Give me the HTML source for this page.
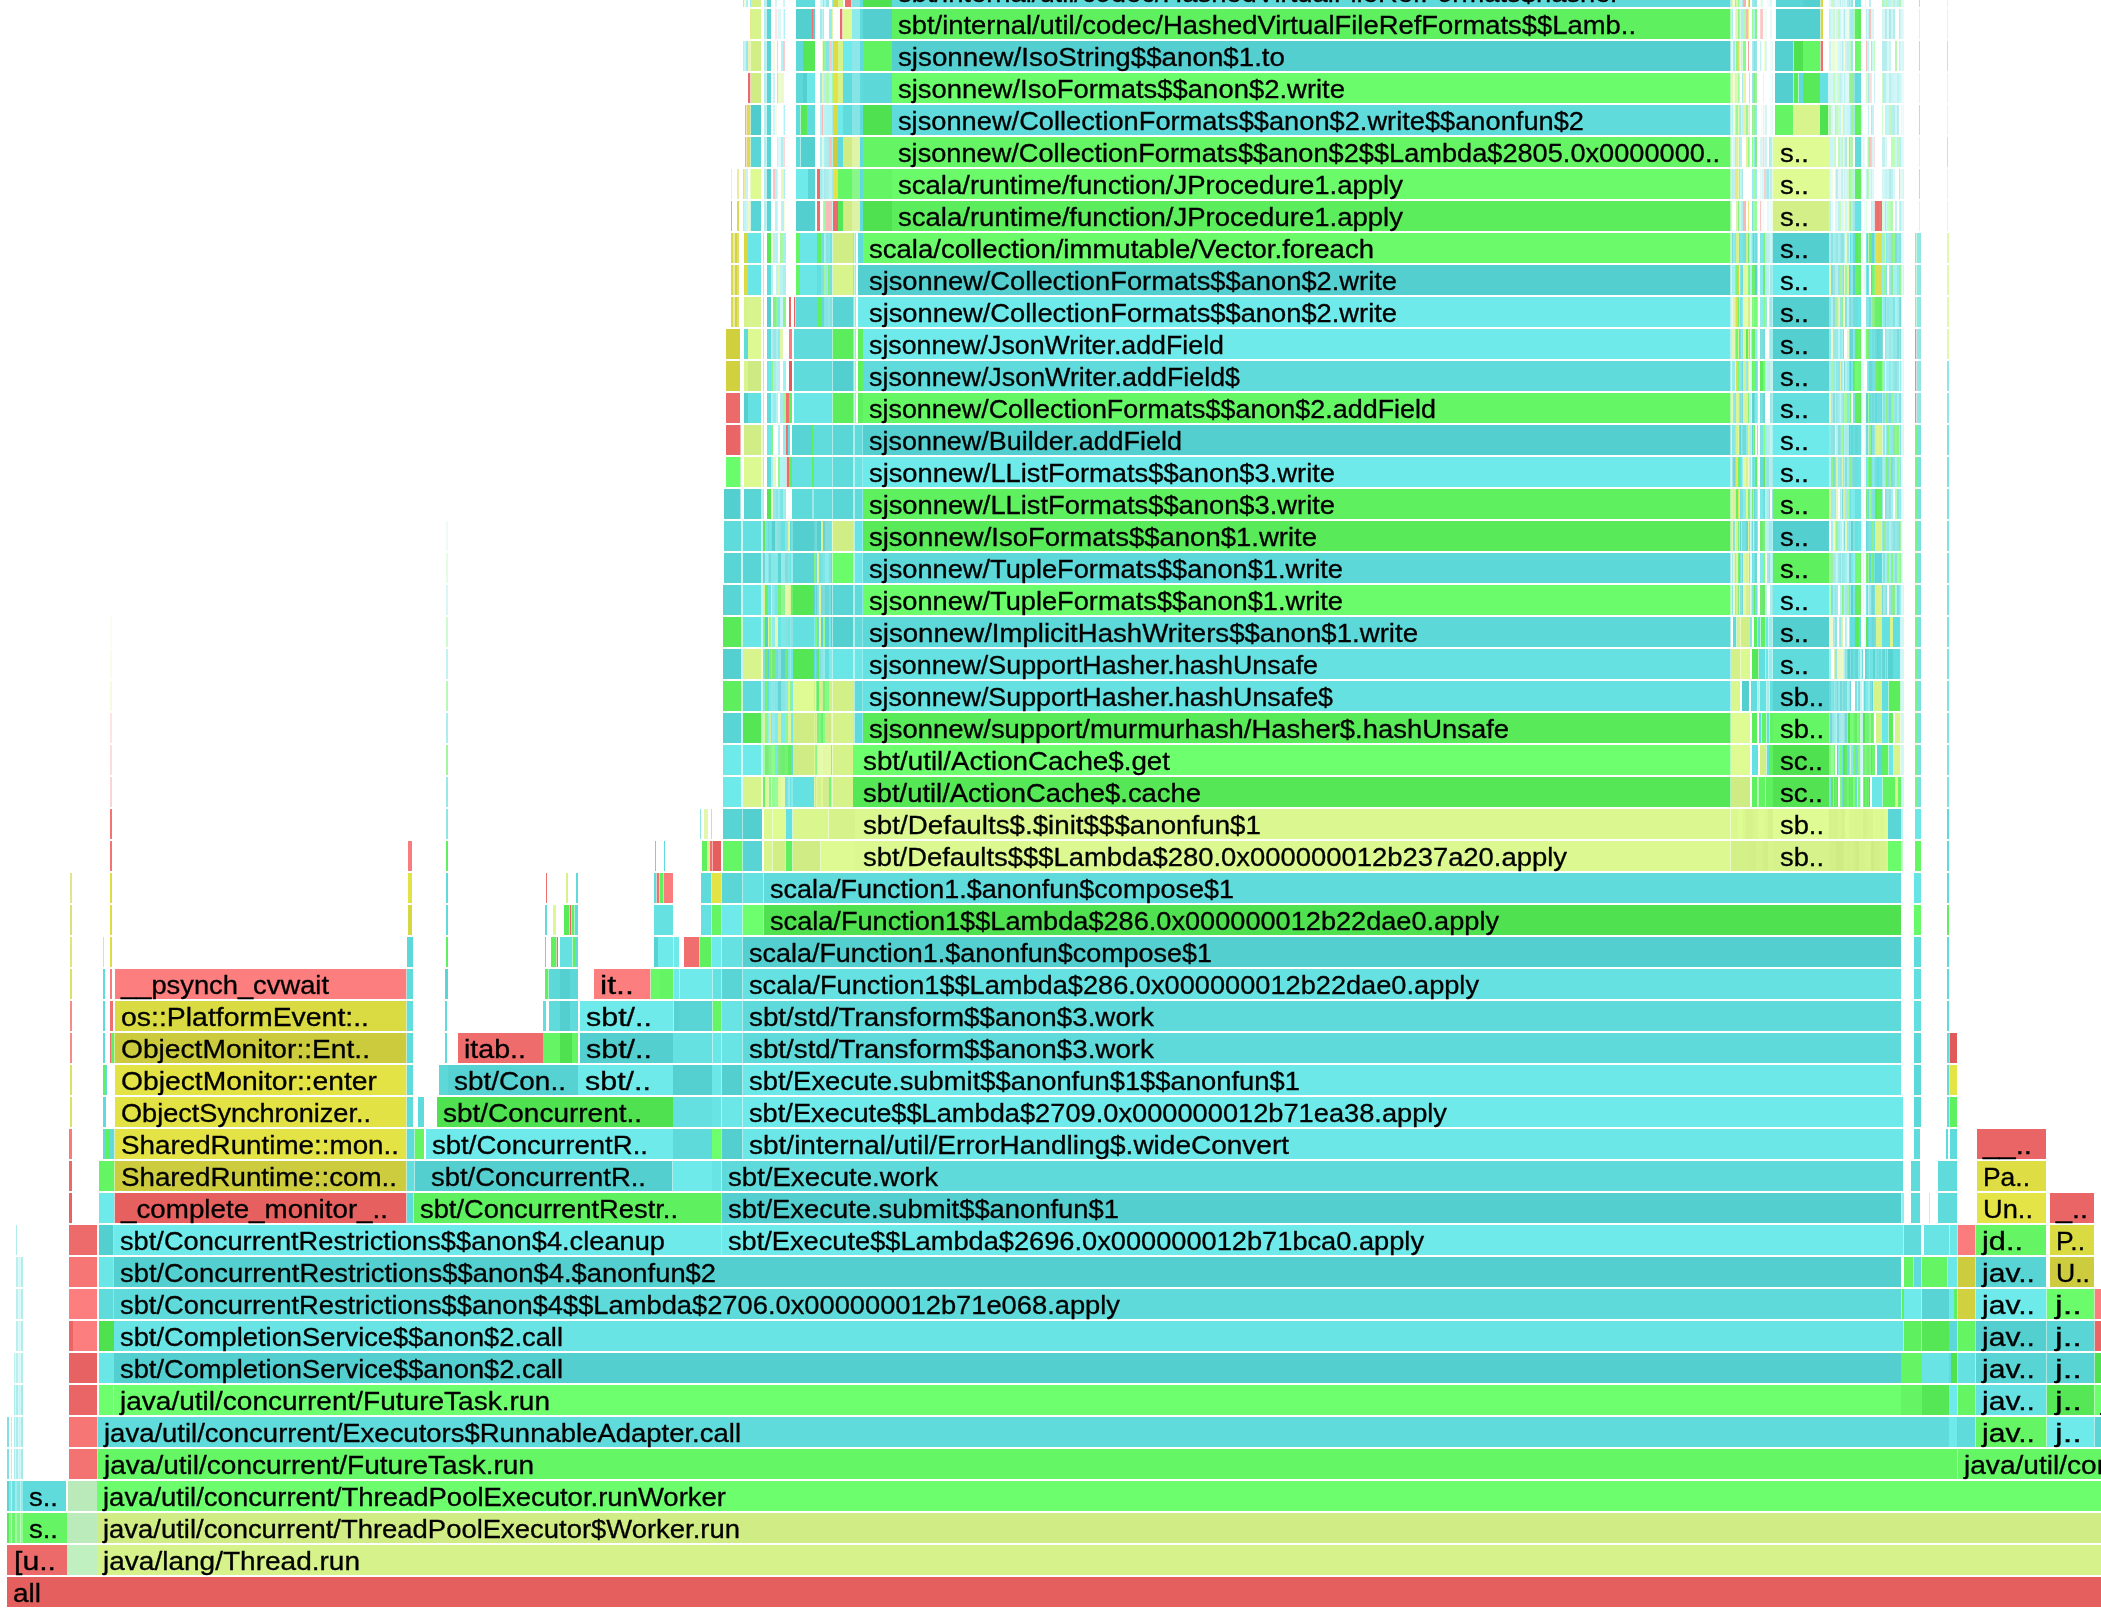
<!DOCTYPE html>
<html><head><meta charset="utf-8"><title>Flame Graph</title>
<style>
html,body{margin:0;padding:0;background:#fff;}
body{width:2101px;height:1616px;overflow:hidden;position:relative;font-family:"Liberation Sans",sans-serif;}
.r{position:absolute;left:0;width:2101px;height:30px;}
.t{position:absolute;font-size:25px;line-height:32px;height:32px;white-space:pre;color:#000;-webkit-text-stroke:0.3px #000;transform-origin:0 50%;transform:scaleX(1.094);}
</style></head><body>
<div class="r" style="top:1577px;background:linear-gradient(90deg,#fff 0px,#fff 7px,#e55f5f 7px,#e55f5f 2101px)"></div>
<div class="r" style="top:1545px;background:linear-gradient(90deg,#fff 0px,#fff 7px,#ed6a6a 7px,#ed6a6a 67px,#c0efc0 67px,#c0efc0 97px,#d6f28a 97px,#d6f28a 2101px)"></div>
<div class="r" style="top:1513px;background:linear-gradient(90deg,#fff 0px,#fff 7px,#59ea59 7px,#59ea59 9px,#81f581 9px,#81f581 11px,#b5feb5 11px,#b5feb5 12px,#6ff26f 12px,#6ff26f 15px,#9dfb9d 15px,#9dfb9d 17px,#81f581 17px,#81f581 20px,#b5feb5 20px,#b5feb5 21px,#93f993 21px,#93f993 23px,#64f464 23px,#64f464 67px,#bbeabb 67px,#bbeabb 97px,#d0ec84 97px,#d0ec84 2101px)"></div>
<div class="r" style="top:1481px;background:linear-gradient(90deg,#fff 0px,#fff 7px,#59d5d5 7px,#59d5d5 9px,#81e5e5 9px,#81e5e5 11px,#b5f3f3 11px,#b5f3f3 12px,#6fdfdf 12px,#6fdfdf 15px,#9deded 15px,#9deded 17px,#81e5e5 17px,#81e5e5 20px,#b5f3f3 20px,#b5f3f3 21px,#93eaea 21px,#93eaea 23px,#5fdbdb 23px,#5fdbdb 66px,#fff 66px,#fff 68px,#bae9ba 68px,#bae9ba 97px,#6cfe6c 97px,#6cfe6c 2101px)"></div>
<div class="r" style="top:1449px;background:linear-gradient(90deg,#fff 0px,#fff 7px,#7fe2e2 7px,#7fe2e2 9px,#fff 9px,#fff 11px,#b4f2f2 11px,#b4f2f2 12px,#fff 12px,#fff 14px,#afeded 14px,#afeded 15px,#d6f6f6 15px,#d6f6f6 16px,#a9eded 16px,#a9eded 18px,#daf8f8 18px,#daf8f8 19px,#c3f4f4 19px,#c3f4f4 20px,#d8f7f7 20px,#d8f7f7 21px,#a1ebeb 21px,#a1ebeb 23px,#fff 23px,#fff 69px,#f37272 69px,#f37272 97px,#d6dab5 97px,#d6dab5 98px,#65f665 98px,#65f665 1957px,#a3faa3 1957px,#a3faa3 1958px,#65f665 1958px,#65f665 2101px)"></div>
<div class="r" style="top:1417px;background:linear-gradient(90deg,#fff 0px,#fff 7px,#7fe2e2 7px,#7fe2e2 9px,#fff 9px,#fff 11px,#b4f2f2 11px,#b4f2f2 12px,#fff 12px,#fff 14px,#afeded 14px,#afeded 15px,#d6f6f6 15px,#d6f6f6 16px,#a9eded 16px,#a9eded 18px,#daf8f8 18px,#daf8f8 19px,#c3f4f4 19px,#c3f4f4 20px,#d8f7f7 20px,#d8f7f7 21px,#a1ebeb 21px,#a1ebeb 23px,#fff 23px,#fff 69px,#f67676 69px,#f67676 97px,#d5d4d4 97px,#d5d4d4 98px,#5fdbdb 98px,#5fdbdb 1949px,#6eeaea 1949px,#6eeaea 1957px,#5ff05f 1957px,#5ff05f 1958px,#5fdbdb 1958px,#5fdbdb 1975px,#b0f3cf 1975px,#b0f3cf 1976px,#64f464 1976px,#64f464 2046px,#b4f7d3 2046px,#b4f7d3 2047px,#6eeaea 2047px,#6eeaea 2094px,#b1efef 2094px,#b1efef 2095px,#59d5d5 2095px,#59d5d5 2101px)"></div>
<div class="r" style="top:1385px;background:linear-gradient(90deg,#fff 0px,#fff 14px,#afeded 14px,#afeded 15px,#d6f6f6 15px,#d6f6f6 16px,#a9eded 16px,#a9eded 18px,#daf8f8 18px,#daf8f8 19px,#c3f4f4 19px,#c3f4f4 20px,#d8f7f7 20px,#d8f7f7 21px,#a1ebeb 21px,#a1ebeb 23px,#fff 23px,#fff 69px,#ea6666 69px,#ea6666 97px,#fff 97px,#fff 99px,#6eff6e 99px,#6eff6e 113px,#9aff9a 113px,#9aff9a 114px,#6eff6e 114px,#6eff6e 1901px,#64f464 1901px,#64f464 1922px,#56e756 1922px,#56e756 1949px,#6eeaea 1949px,#6eeaea 1957px,#b4f7d3 1957px,#b4f7d3 1958px,#64f464 1958px,#64f464 1975px,#b2f5d1 1975px,#b2f5d1 1976px,#65e1e1 1976px,#65e1e1 2046px,#aef2cd 2046px,#aef2cd 2047px,#56e756 2047px,#56e756 2094px,#b0f9b0 2094px,#b0f9b0 2095px,#6eff6e 2095px,#6eff6e 2101px)"></div>
<div class="r" style="top:1353px;background:linear-gradient(90deg,#fff 0px,#fff 14px,#bff1f1 14px,#bff1f1 15px,#ddf8f8 15px,#ddf8f8 16px,#b8f0f0 16px,#b8f0f0 18px,#e2f9f9 18px,#e2f9f9 19px,#d2f7f7 19px,#d2f7f7 20px,#e0f9f9 20px,#e0f9f9 21px,#b0eeee 21px,#b0eeee 23px,#fff 23px,#fff 69px,#e76262 69px,#e76262 97px,#fff 97px,#fff 99px,#6ae6e6 99px,#6ae6e6 114px,#53cfcf 114px,#53cfcf 1901px,#64f464 1901px,#64f464 1922px,#68e4e4 1922px,#68e4e4 1949px,#5fdbdb 1949px,#5fdbdb 1951px,#50e150 1951px,#50e150 1957px,#adf0cc 1957px,#adf0cc 1958px,#65e1e1 1958px,#65e1e1 1975px,#afeded 1975px,#afeded 1976px,#58d4d4 1976px,#58d4d4 2046px,#abe9e9 2046px,#abe9e9 2047px,#58d4d4 2047px,#58d4d4 2094px,#a9edc8 2094px,#a9edc8 2095px,#50e150 2095px,#50e150 2101px)"></div>
<div class="r" style="top:1321px;background:linear-gradient(90deg,#fff 0px,#fff 16px,#b8f0f0 16px,#b8f0f0 18px,#e2f9f9 18px,#e2f9f9 19px,#d2f7f7 19px,#d2f7f7 20px,#e0f9f9 20px,#e0f9f9 21px,#b0eeee 21px,#b0eeee 23px,#fff 23px,#fff 69px,#ea6666 69px,#ea6666 73px,#fc7e7e 73px,#fc7e7e 97px,#fff 97px,#fff 99px,#50e150 99px,#50e150 114px,#68e4e4 114px,#68e4e4 1903px,#b1f4d0 1903px,#b1f4d0 1904px,#5ff05f 1904px,#5ff05f 1921px,#adf5ad 1921px,#adf5ad 1922px,#56e756 1922px,#56e756 1949px,#5cd8d8 1949px,#5cd8d8 1957px,#aff3ce 1957px,#aff3ce 1958px,#64f464 1958px,#64f464 1975px,#adf0cc 1975px,#adf0cc 1976px,#53cfcf 1976px,#53cfcf 2046px,#aae8e8 2046px,#aae8e8 2047px,#59d5d5 2047px,#59d5d5 2094px,#d0cece 2094px,#d0cece 2095px,#ea6666 2095px,#ea6666 2101px)"></div>
<div class="r" style="top:1289px;background:linear-gradient(90deg,#fff 0px,#fff 16px,#b8f0f0 16px,#b8f0f0 18px,#e2f9f9 18px,#e2f9f9 19px,#d2f7f7 19px,#d2f7f7 20px,#e0f9f9 20px,#e0f9f9 21px,#b0eeee 21px,#b0eeee 23px,#fff 23px,#fff 69px,#fc7e7e 69px,#fc7e7e 97px,#fff 97px,#fff 99px,#5fdbdb 99px,#5fdbdb 113px,#8fe6e6 113px,#8fe6e6 114px,#5edada 114px,#5edada 1901px,#aff2ce 1901px,#aff2ce 1902px,#5ff05f 1902px,#5ff05f 1904px,#6eeaea 1904px,#6eeaea 1921px,#b1efef 1921px,#b1efef 1922px,#58d4d4 1922px,#58d4d4 1949px,#6eeaea 1949px,#6eeaea 1954px,#5ff05f 1954px,#5ff05f 1957px,#ccf0a7 1957px,#ccf0a7 1958px,#d1d13f 1958px,#d1d13f 1975px,#cfeeca 1975px,#cfeeca 1976px,#6eeaea 1976px,#6eeaea 2046px,#b6f9d5 2046px,#b6f9d5 2047px,#6bfc6b 2047px,#6bfc6b 2094px,#d9deba 2094px,#d9deba 2095px,#fc7e7e 2095px,#fc7e7e 2101px)"></div>
<div class="r" style="top:1257px;background:linear-gradient(90deg,#fff 0px,#fff 16px,#b8f0f0 16px,#b8f0f0 18px,#e2f9f9 18px,#e2f9f9 19px,#d2f7f7 19px,#d2f7f7 20px,#e0f9f9 20px,#e0f9f9 21px,#b0eeee 21px,#b0eeee 23px,#fff 23px,#fff 69px,#f67676 69px,#f67676 97px,#fff 97px,#fff 99px,#6ae6e6 99px,#6ae6e6 113px,#8fe6e6 113px,#8fe6e6 114px,#53cfcf 114px,#53cfcf 1901px,#fff 1901px,#fff 1904px,#64f464 1904px,#64f464 1913px,#b0f3cf 1913px,#b0f3cf 1914px,#5fdbdb 1914px,#5fdbdb 1921px,#b0f3cf 1921px,#b0f3cf 1922px,#64f464 1922px,#64f464 1947px,#b3f6d2 1947px,#b3f6d2 1948px,#6be7e7 1948px,#6be7e7 1957px,#cdecc9 1957px,#cdecc9 1958px,#cccc3e 1958px,#cccc3e 1975px,#c8e8c4 1975px,#c8e8c4 1976px,#58d4d4 1976px,#58d4d4 2046px,#fff 2046px,#fff 2050px,#cccc3e 2050px,#cccc3e 2094px,#fff 2094px,#fff 2101px)"></div>
<div class="r" style="top:1225px;background:linear-gradient(90deg,#fff 0px,#fff 16px,#afeded 16px,#afeded 17px,#fff 17px,#fff 69px,#ee6b6b 69px,#ee6b6b 97px,#fff 97px,#fff 99px,#53cfcf 99px,#53cfcf 113px,#8fe6e6 113px,#8fe6e6 114px,#6eeaea 114px,#6eeaea 721px,#92efef 721px,#92efef 722px,#6eeaea 722px,#6eeaea 1903px,#b3f1f1 1903px,#b3f1f1 1904px,#5fdbdb 1904px,#5fdbdb 1921px,#fff 1921px,#fff 1924px,#68e4e4 1924px,#68e4e4 1949px,#b4f2f2 1949px,#b4f2f2 1950px,#6be7e7 1950px,#6be7e7 1957px,#d9d8d8 1957px,#d9d8d8 1958px,#fa7c7c 1958px,#fa7c7c 1975px,#d7dcb7 1975px,#d7dcb7 1976px,#64f464 1976px,#64f464 2046px,#fff 2046px,#fff 2050px,#dada42 2050px,#dada42 2094px,#fff 2094px,#fff 2101px)"></div>
<div class="r" style="top:1193px;background:linear-gradient(90deg,#fff 0px,#fff 69px,#e76262 69px,#e76262 72px,#fff 72px,#fff 99px,#6eeaea 99px,#6eeaea 114px,#d4d2d2 114px,#d4d2d2 115px,#e66060 115px,#e66060 406px,#d1cece 406px,#d1cece 407px,#5fdbdb 407px,#5fdbdb 413px,#aff2ce 413px,#aff2ce 414px,#5ff05f 414px,#5ff05f 721px,#acefcb 721px,#acefcb 722px,#53cfcf 722px,#53cfcf 1901px,#baeeee 1901px,#baeeee 1902px,#95ecec 1902px,#95ecec 1904px,#fff 1904px,#fff 1911px,#5fdbdb 1911px,#5fdbdb 1920px,#fff 1920px,#fff 1929px,#bff1f1 1929px,#bff1f1 1930px,#fff 1930px,#fff 1938px,#5fdbdb 1938px,#5fdbdb 1957px,#fff 1957px,#fff 1977px,#e4e446 1977px,#e4e446 2046px,#fff 2046px,#fff 2050px,#ea6666 2050px,#ea6666 2094px,#fff 2094px,#fff 2101px)"></div>
<div class="r" style="top:1161px;background:linear-gradient(90deg,#fff 0px,#fff 69px,#ed6a6a 69px,#ed6a6a 72px,#fff 72px,#fff 99px,#64f464 99px,#64f464 114px,#ccf0a8 114px,#ccf0a8 115px,#cccc3e 115px,#cccc3e 406px,#cbeac6 406px,#cbeac6 407px,#62dede 407px,#62dede 414px,#adebeb 414px,#adebeb 415px,#53cfcf 415px,#53cfcf 672px,#b0eeee 672px,#b0eeee 673px,#6eeaea 673px,#6eeaea 712px,#68e4e4 712px,#68e4e4 721px,#b1efef 721px,#b1efef 722px,#5edada 722px,#5edada 1903px,#fff 1903px,#fff 1911px,#5fdbdb 1911px,#5fdbdb 1920px,#fff 1920px,#fff 1938px,#5fdbdb 1938px,#5fdbdb 1957px,#fff 1957px,#fff 1977px,#dede44 1977px,#dede44 2046px,#fff 2046px,#fff 2101px)"></div>
<div class="r" style="top:1129px;background:linear-gradient(90deg,#fff 0px,#fff 69px,#f97a7a 69px,#f97a7a 72px,#fff 72px,#fff 103px,#5fdbdb 103px,#5fdbdb 106px,#5ff05f 106px,#5ff05f 110px,#5fdbdb 110px,#5fdbdb 114px,#d0efc8 114px,#d0efc8 115px,#e3e345 115px,#e3e345 406px,#d0efc8 406px,#d0efc8 407px,#5fdbdb 407px,#5fdbdb 414px,#b0f3cf 414px,#b0f3cf 415px,#64f464 415px,#64f464 424px,#fff 424px,#fff 426px,#6eeaea 426px,#6eeaea 673px,#5edada 673px,#5edada 712px,#6eff6e 712px,#6eff6e 721px,#b0f3cf 721px,#b0f3cf 722px,#53cfcf 722px,#53cfcf 742px,#afeded 742px,#afeded 743px,#6be7e7 743px,#6be7e7 1903px,#fff 1903px,#fff 1914px,#5fdbdb 1914px,#5fdbdb 1920px,#fff 1920px,#fff 1946px,#5fdbdb 1946px,#5fdbdb 1948px,#fff 1948px,#fff 1950px,#5fdbdb 1950px,#5fdbdb 1957px,#fff 1957px,#fff 1977px,#ea6666 1977px,#ea6666 2046px,#fff 2046px,#fff 2101px)"></div>
<div class="r" style="top:1097px;background:linear-gradient(90deg,#fff 0px,#fff 70px,#dfdf67 70px,#dfdf67 72px,#fff 72px,#fff 103px,#5fdbdb 103px,#5fdbdb 106px,#fff 106px,#fff 115px,#e2e244 115px,#e2e244 406px,#d0efc7 406px,#d0efc7 407px,#5fdbdb 407px,#5fdbdb 413px,#fff 413px,#fff 418px,#5fdbdb 418px,#5fdbdb 424px,#fff 424px,#fff 437px,#50e150 437px,#50e150 673px,#64e0e0 673px,#64e0e0 712px,#68e4e4 712px,#68e4e4 721px,#b4f2f2 721px,#b4f2f2 722px,#6be7e7 722px,#6be7e7 742px,#b6f4f4 742px,#b6f4f4 743px,#6eeaea 743px,#6eeaea 1903px,#fff 1903px,#fff 1914px,#5cd8d8 1914px,#5cd8d8 1921px,#fff 1921px,#fff 1947px,#5fdbdb 1947px,#5fdbdb 1949px,#aff2ce 1949px,#aff2ce 1950px,#5ff05f 1950px,#5ff05f 1957px,#fff 1957px,#fff 2101px)"></div>
<div class="r" style="top:1065px;background:linear-gradient(90deg,#fff 0px,#fff 70px,#dfdf67 70px,#dfdf67 72px,#fff 72px,#fff 103px,#5ff05f 103px,#5ff05f 105px,#5fdbdb 105px,#5fdbdb 107px,#fff 107px,#fff 115px,#e3e345 115px,#e3e345 406px,#d0efc8 406px,#d0efc8 407px,#5fdbdb 407px,#5fdbdb 413px,#fff 413px,#fff 439px,#5cd8d8 439px,#5cd8d8 448px,#56d2d2 448px,#56d2d2 578px,#6eeaea 578px,#6eeaea 673px,#54d0d0 673px,#54d0d0 712px,#6be7e7 712px,#6be7e7 721px,#afeded 721px,#afeded 722px,#53cfcf 722px,#53cfcf 742px,#afeded 742px,#afeded 743px,#6ce8e8 743px,#6ce8e8 1901px,#fff 1901px,#fff 1914px,#5cd8d8 1914px,#5cd8d8 1921px,#fff 1921px,#fff 1947px,#5fdbdb 1947px,#5fdbdb 1949px,#d0efc8 1949px,#d0efc8 1950px,#e4e446 1950px,#e4e446 1957px,#fff 1957px,#fff 2101px)"></div>
<div class="r" style="top:1033px;background:linear-gradient(90deg,#fff 0px,#fff 70px,#f38b8b 70px,#f38b8b 72px,#fff 72px,#fff 103px,#5fdbdb 103px,#5fdbdb 105px,#fff 105px,#fff 110px,#f06e6e 110px,#f06e6e 111px,#5ff05f 111px,#5ff05f 114px,#caeea6 114px,#caeea6 115px,#cbcb3d 115px,#cbcb3d 406px,#cae9c6 406px,#cae9c6 407px,#5fdbdb 407px,#5fdbdb 413px,#fff 413px,#fff 445px,#5fdbdb 445px,#5fdbdb 447px,#fff 447px,#fff 458px,#ee6c6c 458px,#ee6c6c 543px,#64f464 543px,#64f464 560px,#50e150 560px,#50e150 572px,#64f464 572px,#64f464 578px,#fff 578px,#fff 580px,#53cfcf 580px,#53cfcf 673px,#65e1e1 673px,#65e1e1 712px,#b4f2f2 712px,#b4f2f2 713px,#6be7e7 713px,#6be7e7 721px,#b4f2f2 721px,#b4f2f2 722px,#68e4e4 722px,#68e4e4 742px,#b1efef 742px,#b1efef 743px,#5edada 743px,#5edada 1901px,#fff 1901px,#fff 1914px,#5cd8d8 1914px,#5cd8d8 1921px,#fff 1921px,#fff 1947px,#5fdbdb 1947px,#5fdbdb 1949px,#d0cdcd 1949px,#d0cdcd 1950px,#e15a5a 1950px,#e15a5a 1957px,#fff 1957px,#fff 2101px)"></div>
<div class="r" style="top:1001px;background:linear-gradient(90deg,#fff 0px,#fff 70px,#f38b8b 70px,#f38b8b 72px,#fff 72px,#fff 103px,#5fdbdb 103px,#5fdbdb 105px,#fff 105px,#fff 110px,#f06e6e 110px,#f06e6e 113px,#fff 113px,#fff 115px,#dada42 115px,#dada42 406px,#ceeec8 406px,#ceeec8 407px,#62dede 407px,#62dede 413px,#fff 413px,#fff 445px,#5fdbdb 445px,#5fdbdb 447px,#fff 447px,#fff 543px,#62dede 543px,#62dede 546px,#fff 546px,#fff 549px,#5fdbdb 549px,#5fdbdb 560px,#53cfcf 560px,#53cfcf 570px,#5fdbdb 570px,#5fdbdb 578px,#fff 578px,#fff 580px,#6eeaea 580px,#6eeaea 673px,#b0eeee 673px,#b0eeee 674px,#56d2d2 674px,#56d2d2 679px,#59d5d5 679px,#59d5d5 712px,#aff2ce 712px,#aff2ce 713px,#64f464 713px,#64f464 721px,#b2f6d1 721px,#b2f6d1 722px,#68e4e4 722px,#68e4e4 742px,#b1efef 742px,#b1efef 743px,#5edada 743px,#5edada 1901px,#fff 1901px,#fff 1914px,#62dede 1914px,#62dede 1921px,#fff 1921px,#fff 1947px,#5fdbdb 1947px,#5fdbdb 1949px,#fff 1949px,#fff 2101px)"></div>
<div class="r" style="top:969px;background:linear-gradient(90deg,#fff 0px,#fff 70px,#dfdf67 70px,#dfdf67 72px,#fff 72px,#fff 103px,#5fdbdb 103px,#5fdbdb 105px,#fff 105px,#fff 110px,#f97a7a 110px,#f97a7a 112px,#fff 112px,#fff 115px,#fc7e7e 115px,#fc7e7e 406px,#d6d6d6 406px,#d6d6d6 407px,#5fdbdb 407px,#5fdbdb 413px,#fff 413px,#fff 445px,#59d5d5 445px,#59d5d5 448px,#fff 448px,#fff 545px,#5ff05f 545px,#5ff05f 548px,#aef2cd 548px,#aef2cd 549px,#5cd8d8 549px,#5cd8d8 560px,#54d0d0 560px,#54d0d0 570px,#5cd8d8 570px,#5cd8d8 578px,#fff 578px,#fff 594px,#fc7e7e 594px,#fc7e7e 650px,#d8ddb9 650px,#d8ddb9 651px,#68f968 651px,#68f968 660px,#64f464 660px,#64f464 673px,#b4f7d3 673px,#b4f7d3 674px,#6eeaea 674px,#6eeaea 679px,#b6f4f4 679px,#b6f4f4 680px,#6eeaea 680px,#6eeaea 712px,#b4f2f2 712px,#b4f2f2 713px,#65e1e1 713px,#65e1e1 721px,#afeded 721px,#afeded 722px,#59d5d5 722px,#59d5d5 742px,#afeded 742px,#afeded 743px,#65e1e1 743px,#65e1e1 1901px,#fff 1901px,#fff 1914px,#62dede 1914px,#62dede 1921px,#fff 1921px,#fff 1947px,#5fdbdb 1947px,#5fdbdb 1949px,#fff 1949px,#fff 2101px)"></div>
<div class="r" style="top:937px;background:linear-gradient(90deg,#fff 0px,#fff 70px,#e3e37a 70px,#e3e37a 72px,#fff 72px,#fff 103px,#afeded 103px,#afeded 104px,#fff 104px,#fff 110px,#dddd43 110px,#dddd43 112px,#fff 112px,#fff 407px,#5cd8d8 407px,#5cd8d8 413px,#fff 413px,#fff 446px,#5ff05f 446px,#5ff05f 448px,#fff 448px,#fff 545px,#5fdbdb 545px,#5fdbdb 546px,#fff 546px,#fff 551px,#5ff05f 551px,#5ff05f 556px,#d3d7b3 556px,#d3d7b3 557px,#f06e6e 557px,#f06e6e 558px,#fff 558px,#fff 560px,#65e1e1 560px,#65e1e1 572px,#b0f4d0 572px,#b0f4d0 573px,#5ff05f 573px,#5ff05f 575px,#5fdbdb 575px,#5fdbdb 578px,#fff 578px,#fff 654px,#56d2d2 654px,#56d2d2 658px,#6eeaea 658px,#6eeaea 673px,#b6f4f4 673px,#b6f4f4 674px,#6eeaea 674px,#6eeaea 679px,#fff 679px,#fff 684px,#f06e6e 684px,#f06e6e 699px,#d3d7b3 699px,#d3d7b3 700px,#5ff05f 700px,#5ff05f 711px,#b3f6d2 711px,#b3f6d2 712px,#6eeaea 712px,#6eeaea 721px,#b4f2f2 721px,#b4f2f2 722px,#65e1e1 722px,#65e1e1 742px,#aeecec 742px,#aeecec 743px,#53cfcf 743px,#53cfcf 1901px,#fff 1901px,#fff 1914px,#5fdbdb 1914px,#5fdbdb 1921px,#fff 1921px,#fff 1947px,#5fdbdb 1947px,#5fdbdb 1949px,#fff 1949px,#fff 2101px)"></div>
<div class="r" style="top:905px;background:linear-gradient(90deg,#fff 0px,#fff 70px,#dfdf79 70px,#dfdf79 72px,#fff 72px,#fff 110px,#dddd43 110px,#dddd43 112px,#fff 112px,#fff 408px,#d7d741 408px,#d7d741 412px,#fff 412px,#fff 446px,#5fdbdb 446px,#5fdbdb 448px,#fff 448px,#fff 545px,#5fdbdb 545px,#5fdbdb 547px,#fff 547px,#fff 553px,#dcf890 553px,#dcf890 556px,#fff 556px,#fff 564px,#59ea59 564px,#59ea59 569px,#d0d4af 569px,#d0d4af 570px,#ea6666 570px,#ea6666 571px,#d2d5b1 571px,#d2d5b1 572px,#5ff05f 572px,#5ff05f 574px,#aff2ce 574px,#aff2ce 575px,#5fdbdb 575px,#5fdbdb 578px,#fff 578px,#fff 654px,#65e1e1 654px,#65e1e1 673px,#fff 673px,#fff 701px,#65e1e1 701px,#65e1e1 711px,#b2f5d1 711px,#b2f5d1 712px,#64f464 712px,#64f464 721px,#b4f7d3 721px,#b4f7d3 722px,#6eeaea 722px,#6eeaea 742px,#b6fad6 742px,#b6fad6 743px,#6eff6e 743px,#6eff6e 763px,#aff8af 763px,#aff8af 764px,#50e150 764px,#50e150 1901px,#fff 1901px,#fff 1914px,#68f968 1914px,#68f968 1921px,#fff 1921px,#fff 1947px,#5ff05f 1947px,#5ff05f 1949px,#fff 1949px,#fff 2101px)"></div>
<div class="r" style="top:873px;background:linear-gradient(90deg,#fff 0px,#fff 70px,#e3e38c 70px,#e3e38c 72px,#fff 72px,#fff 110px,#dddd43 110px,#dddd43 112px,#fff 112px,#fff 408px,#e2e244 408px,#e2e244 412px,#fff 412px,#fff 446px,#5fdbdb 446px,#5fdbdb 448px,#fff 448px,#fff 546px,#f06e6e 546px,#f06e6e 547px,#fff 547px,#fff 566px,#d6f28a 566px,#d6f28a 568px,#fff 568px,#fff 576px,#5fdbdb 576px,#5fdbdb 578px,#fff 578px,#fff 654px,#5fdbdb 654px,#5fdbdb 656px,#d3d2d2 656px,#d3d2d2 657px,#f06e6e 657px,#f06e6e 659px,#d3d7b3 659px,#d3d7b3 660px,#5ff05f 660px,#5ff05f 663px,#d6dab6 663px,#d6dab6 664px,#fa7c7c 664px,#fa7c7c 673px,#fff 673px,#fff 701px,#5fdbdb 701px,#5fdbdb 711px,#d0efc8 711px,#d0efc8 712px,#e3e345 712px,#e3e345 721px,#cfeec6 721px,#cfeec6 722px,#5ad6d6 722px,#5ad6d6 742px,#afeded 742px,#afeded 743px,#65e1e1 743px,#65e1e1 763px,#b0eeee 763px,#b0eeee 764px,#5fdbdb 764px,#5fdbdb 1901px,#fff 1901px,#fff 1914px,#68e4e4 1914px,#68e4e4 1921px,#fff 1921px,#fff 1947px,#5fdbdb 1947px,#5fdbdb 1949px,#fff 1949px,#fff 2101px)"></div>
<div class="r" style="top:841px;background:linear-gradient(90deg,#fff 0px,#fff 110px,#f37272 110px,#f37272 112px,#fff 112px,#fff 408px,#fa7c7c 408px,#fa7c7c 412px,#fff 412px,#fff 446px,#5ff05f 446px,#5ff05f 448px,#fff 448px,#fff 655px,#5fdbdb 655px,#5fdbdb 656px,#fff 656px,#fff 664px,#5fdbdb 664px,#5fdbdb 665px,#fff 665px,#fff 702px,#5ff05f 702px,#5ff05f 707px,#cdf8ba 707px,#cdf8ba 708px,#d6f28a 708px,#d6f28a 710px,#f06e6e 710px,#f06e6e 712px,#f4b2b2 712px,#f4b2b2 713px,#e45e5e 713px,#e45e5e 721px,#fff 721px,#fff 723px,#65f665 723px,#65f665 742px,#aff2ce 742px,#aff2ce 743px,#58d4d4 743px,#58d4d4 762px,#fff 762px,#fff 764px,#d8f48c 764px,#d8f48c 772px,#eaf8c4 772px,#eaf8c4 773px,#d2ee86 773px,#d2ee86 785px,#ccf7b9 785px,#ccf7b9 786px,#5ff05f 786px,#5ff05f 792px,#cbf6b8 792px,#cbf6b8 793px,#d0ec84 793px,#d0ec84 820px,#ebf9c5 820px,#ebf9c5 821px,#defa92 821px,#defa92 855px,#dcf890 855px,#dcf890 1730px,#ebf9c5 1730px,#ebf9c5 1731px,#d3ef87 1731px,#d3ef87 1743px,#d4f088 1743px,#d4f088 1746px,#d3ef87 1746px,#d3ef87 1753px,#d2ee86 1753px,#d2ee86 1756px,#d6f28a 1756px,#d6f28a 1763px,#d2ee86 1763px,#d2ee86 1768px,#d8f48c 1768px,#d8f48c 1773px,#d6f28a 1773px,#d6f28a 1829px,#d3ef87 1829px,#d3ef87 1835px,#d2ee86 1835px,#d2ee86 1836px,#cfeb83 1836px,#cfeb83 1841px,#d0ec84 1841px,#d0ec84 1843px,#d2ee86 1843px,#d2ee86 1844px,#d5f189 1844px,#d5f189 1848px,#d4f088 1848px,#d4f088 1851px,#d7f38b 1851px,#d7f38b 1852px,#d4f088 1852px,#d4f088 1855px,#d0ec84 1855px,#d0ec84 1859px,#d6f28a 1859px,#d6f28a 1865px,#d8f48c 1865px,#d8f48c 1871px,#ceea82 1871px,#ceea82 1874px,#d3ef87 1874px,#d3ef87 1880px,#d6f28a 1880px,#d6f28a 1886px,#d9f58d 1886px,#d9f58d 1888px,#6bfc6b 1888px,#6bfc6b 1901px,#c4fec4 1901px,#c4fec4 1903px,#fff 1903px,#fff 1915px,#65f665 1915px,#65f665 1921px,#fff 1921px,#fff 1947px,#5fdbdb 1947px,#5fdbdb 1949px,#fff 1949px,#fff 2101px)"></div>
<div class="r" style="top:809px;background:linear-gradient(90deg,#fff 0px,#fff 110px,#f37272 110px,#f37272 112px,#fff 112px,#fff 446px,#8fe6e6 446px,#8fe6e6 448px,#fff 448px,#fff 700px,#8fe6e6 700px,#8fe6e6 701px,#fff 701px,#fff 704px,#e2f6ad 704px,#e2f6ad 708px,#fff 708px,#fff 711px,#f9c5c5 711px,#f9c5c5 712px,#fff 712px,#fff 723px,#58d4d4 723px,#58d4d4 742px,#aae8e8 742px,#aae8e8 743px,#53cfcf 743px,#53cfcf 762px,#fff 762px,#fff 764px,#dcf890 764px,#dcf890 772px,#eefcc8 772px,#eefcc8 773px,#dffb93 773px,#dffb93 785px,#d0f6dc 785px,#d0f6dc 786px,#65e1e1 786px,#65e1e1 792px,#cff5db 792px,#cff5db 793px,#daf68e 793px,#daf68e 828px,#ecfac6 828px,#ecfac6 829px,#d6f28a 829px,#d6f28a 855px,#dbf78f 855px,#dbf78f 1730px,#edfbc7 1730px,#edfbc7 1731px,#dbf78f 1731px,#dbf78f 1738px,#dffb93 1738px,#dffb93 1743px,#daf68e 1743px,#daf68e 1746px,#d6f28a 1746px,#d6f28a 1753px,#daf68e 1753px,#daf68e 1758px,#defa92 1758px,#defa92 1765px,#dbf78f 1765px,#dbf78f 1768px,#d6f28a 1768px,#d6f28a 1773px,#dffb93 1773px,#dffb93 1829px,#d5f189 1829px,#d5f189 1831px,#d7f38b 1831px,#d7f38b 1834px,#d6f28a 1834px,#d6f28a 1838px,#daf68e 1838px,#daf68e 1841px,#d6f28a 1841px,#d6f28a 1845px,#dffb93 1845px,#dffb93 1849px,#dbf78f 1849px,#dbf78f 1855px,#d9f58d 1855px,#d9f58d 1856px,#daf68e 1856px,#daf68e 1862px,#dbf78f 1862px,#dbf78f 1863px,#d5f189 1863px,#d5f189 1867px,#d9f58d 1867px,#d9f58d 1873px,#dffb93 1873px,#dffb93 1875px,#ddf991 1875px,#ddf991 1879px,#defa92 1879px,#defa92 1880px,#dcf890 1880px,#dcf890 1884px,#dffb93 1884px,#dffb93 1888px,#5ad6d6 1888px,#5ad6d6 1901px,#bff1f1 1901px,#bff1f1 1903px,#fff 1903px,#fff 1915px,#6be7e7 1915px,#6be7e7 1921px,#fff 1921px,#fff 1947px,#5fdbdb 1947px,#5fdbdb 1949px,#fff 1949px,#fff 2101px)"></div>
<div class="r" style="top:777px;background:linear-gradient(90deg,#fff 0px,#fff 110px,#fbd5d5 110px,#fbd5d5 112px,#fff 112px,#fff 446px,#97e8e8 446px,#97e8e8 448px,#fff 448px,#fff 723px,#6eeaea 723px,#6eeaea 741px,#d4f9f9 741px,#d4f9f9 743px,#d8f48c 743px,#d8f48c 761px,#effbd1 761px,#effbd1 763px,#69f169 763px,#69f169 765px,#def996 765px,#def996 768px,#e3f6af 768px,#e3f6af 769px,#85fa85 769px,#85fa85 771px,#e5faab 771px,#e5faab 772px,#95fb95 772px,#95fb95 775px,#99fb99 775px,#99fb99 778px,#def997 778px,#def997 781px,#e4faa9 781px,#e4faa9 785px,#74e4e4 785px,#74e4e4 788px,#98ebeb 788px,#98ebeb 790px,#69e2e2 790px,#69e2e2 791px,#8ce9e9 791px,#8ce9e9 793px,#65e1e1 793px,#65e1e1 814px,#e0f6a6 814px,#e0f6a6 815px,#d0eb87 815px,#d0eb87 816px,#e0f6a3 816px,#e0f6a3 817px,#d7f38b 817px,#d7f38b 819px,#d6f091 819px,#d6f091 821px,#ddf992 821px,#ddf992 823px,#d3ec8f 823px,#d3ec8f 829px,#74f974 829px,#74f974 831px,#d9f199 831px,#d9f199 832px,#eaf8c4 832px,#eaf8c4 833px,#d6f28a 833px,#d6f28a 853px,#56e756 853px,#56e756 1730px,#aaf3aa 1730px,#aaf3aa 1731px,#cfeb83 1731px,#cfeb83 1750px,#fff 1750px,#fff 1752px,#5ff05f 1752px,#5ff05f 1757px,#c3fac3 1757px,#c3fac3 1758px,#aff8af 1758px,#aff8af 1759px,#62f362 1759px,#62f362 1765px,#b0f8b0 1765px,#b0f8b0 1766px,#5ff05f 1766px,#5ff05f 1773px,#52e252 1773px,#52e252 1829px,#7ce0e0 1829px,#7ce0e0 1831px,#65e565 1831px,#65e565 1833px,#84fb84 1833px,#84fb84 1834px,#5eeb5e 1834px,#5eeb5e 1835px,#6aee6a 1835px,#6aee6a 1837px,#5ee85e 1837px,#5ee85e 1838px,#fff 1838px,#fff 1840px,#84f584 1840px,#84f584 1842px,#6ed8d8 1842px,#6ed8d8 1843px,#6ae86a 1843px,#6ae86a 1845px,#69ef69 1845px,#69ef69 1847px,#72f372 1847px,#72f372 1849px,#60d4d4 1849px,#60d4d4 1850px,#6cf36c 1850px,#6cf36c 1851px,#66ed66 1851px,#66ed66 1853px,#78fe78 1853px,#78fe78 1855px,#73d8d8 1855px,#73d8d8 1857px,#b8f5d1 1857px,#b8f5d1 1858px,#6ffe6f 1858px,#6ffe6f 1860px,#cef3f3 1860px,#cef3f3 1861px,#fff 1861px,#fff 1863px,#7bf37b 1863px,#7bf37b 1864px,#60e760 1864px,#60e760 1865px,#66f766 1865px,#66f766 1867px,#63e963 1867px,#63e963 1868px,#74ee74 1868px,#74ee74 1869px,#56e356 1869px,#56e356 1870px,#fff 1870px,#fff 1872px,#6be7e7 1872px,#6be7e7 1882px,#b3f6d2 1882px,#b3f6d2 1883px,#62f362 1883px,#62f362 1895px,#d8f48c 1895px,#d8f48c 1898px,#65f665 1898px,#65f665 1901px,#d2f7f7 1901px,#d2f7f7 1904px,#fff 1904px,#fff 1915px,#7ff37f 1915px,#7ff37f 1917px,#77e0e0 1917px,#77e0e0 1921px,#fff 1921px,#fff 1947px,#7fe2e2 1947px,#7fe2e2 1949px,#fff 1949px,#fff 2101px)"></div>
<div class="r" style="top:745px;background:linear-gradient(90deg,#fff 0px,#fff 110px,#fcdcdc 110px,#fcdcdc 112px,#fff 112px,#fff 446px,#a2f6a2 446px,#a2f6a2 448px,#fff 448px,#fff 723px,#6eeaea 723px,#6eeaea 741px,#d4f9f9 741px,#d4f9f9 743px,#6eeaea 743px,#6eeaea 761px,#c5f7f7 761px,#c5f7f7 763px,#99ff99 763px,#99ff99 765px,#7eea7e 765px,#7eea7e 768px,#7ff17f 768px,#7ff17f 769px,#8aef8a 769px,#8aef8a 771px,#88e8e8 771px,#88e8e8 772px,#89ff89 772px,#89ff89 775px,#7be5e5 775px,#7be5e5 778px,#7eea7e 778px,#7eea7e 781px,#6eef6e 781px,#6eef6e 785px,#77f077 785px,#77f077 788px,#60ed60 788px,#60ed60 790px,#63e963 790px,#63e963 791px,#65dada 791px,#65dada 793px,#d0ec84 793px,#d0ec84 814px,#ddf893 814px,#ddf893 815px,#8ee9e9 815px,#8ee9e9 816px,#8cf48c 816px,#8cf48c 817px,#e3f8a7 817px,#e3f8a7 819px,#e5faad 819px,#e5faad 821px,#e7fbb2 821px,#e7fbb2 823px,#e1f9a0 823px,#e1f9a0 825px,#e3f9a7 825px,#e3f9a7 829px,#e3faa3 829px,#e3faa3 831px,#8af48a 831px,#8af48a 832px,#eaf8c4 832px,#eaf8c4 833px,#d6f28a 833px,#d6f28a 853px,#6eff6e 853px,#6eff6e 1730px,#b6ffb6 1730px,#b6ffb6 1731px,#dffb93 1731px,#dffb93 1750px,#fff 1750px,#fff 1752px,#65e1e1 1752px,#65e1e1 1758px,#fff 1758px,#fff 1760px,#d2ee86 1760px,#d2ee86 1766px,#ccf2d8 1766px,#ccf2d8 1767px,#62dede 1767px,#62dede 1769px,#5ff05f 1769px,#5ff05f 1773px,#50e150 1773px,#50e150 1829px,#86f086 1829px,#86f086 1831px,#94fe94 1831px,#94fe94 1833px,#8cfe8c 1833px,#8cfe8c 1834px,#7ff97f 1834px,#7ff97f 1835px,#fff 1835px,#fff 1837px,#68e568 1837px,#68e568 1838px,#87ecec 1838px,#87ecec 1840px,#79fc79 1840px,#79fc79 1842px,#6ce4e4 1842px,#6ce4e4 1843px,#56e656 1843px,#56e656 1845px,#68e768 1845px,#68e768 1847px,#6cdcdc 1847px,#6cdcdc 1849px,#7bfc7b 1849px,#7bfc7b 1850px,#c2f8d8 1850px,#c2f8d8 1851px,#8de7e7 1851px,#8de7e7 1853px,#74f874 1853px,#74f874 1855px,#74dada 1855px,#74dada 1857px,#6bdede 1857px,#6bdede 1858px,#88f888 1858px,#88f888 1860px,#c5f5f5 1860px,#c5f5f5 1861px,#d3f7f7 1861px,#d3f7f7 1863px,#7ced7c 1863px,#7ced7c 1865px,#70fb70 1865px,#70fb70 1867px,#77ec77 1867px,#77ec77 1869px,#72f972 1869px,#72f972 1870px,#83f583 1870px,#83f583 1871px,#61e861 1871px,#61e861 1872px,#6df46d 1872px,#6df46d 1874px,#71f271 1874px,#71f271 1875px,#fff 1875px,#fff 1877px,#5cd8d8 1877px,#5cd8d8 1882px,#5ff05f 1882px,#5ff05f 1888px,#b2f6d1 1888px,#b2f6d1 1889px,#6ce8e8 1889px,#6ce8e8 1893px,#d1f7dd 1893px,#d1f7dd 1894px,#d8f48c 1894px,#d8f48c 1900px,#eafae0 1900px,#eafae0 1901px,#d2f7f7 1901px,#d2f7f7 1904px,#fff 1904px,#fff 1915px,#7ff37f 1915px,#7ff37f 1917px,#77e0e0 1917px,#77e0e0 1921px,#fff 1921px,#fff 1947px,#7fe2e2 1947px,#7fe2e2 1949px,#fff 1949px,#fff 2101px)"></div>
<div class="r" style="top:713px;background:linear-gradient(90deg,#fff 0px,#fff 110px,#fde3e3 110px,#fde3e3 112px,#fff 112px,#fff 446px,#adeded 446px,#adeded 448px,#fff 448px,#fff 723px,#59d5d5 723px,#59d5d5 741px,#cdf2f2 741px,#cdf2f2 743px,#54e654 743px,#54e654 761px,#bbf5bb 761px,#bbf5bb 763px,#dbf596 763px,#dbf596 765px,#8df88d 765px,#8df88d 768px,#91efef 768px,#91efef 769px,#d4ed8f 769px,#d4ed8f 771px,#89f889 771px,#89f889 772px,#94ecec 772px,#94ecec 775px,#80ecec 775px,#80ecec 778px,#d6ee94 778px,#d6ee94 781px,#7fecec 781px,#7fecec 785px,#8ff88f 785px,#8ff88f 788px,#ddf1a6 788px,#ddf1a6 790px,#ddf59c 790px,#ddf59c 791px,#78e7e7 791px,#78e7e7 793px,#d0ec84 793px,#d0ec84 814px,#dcf599 814px,#dcf599 815px,#d1ec86 815px,#d1ec86 816px,#daf19b 816px,#daf19b 817px,#7df37d 817px,#7df37d 819px,#7dfa7d 819px,#7dfa7d 821px,#6df16d 821px,#6df16d 823px,#88fa88 823px,#88fa88 825px,#d0ea88 825px,#d0ea88 829px,#cfea85 829px,#cfea85 831px,#e1f6a6 831px,#e1f6a6 832px,#eaf8c4 832px,#eaf8c4 833px,#d6f28a 833px,#d6f28a 853px,#afeded 853px,#afeded 855px,#5fdbdb 855px,#5fdbdb 862px,#8fe6e6 862px,#8fe6e6 863px,#59ea59 863px,#59ea59 1730px,#acf4ac 1730px,#acf4ac 1731px,#dffb93 1731px,#dffb93 1750px,#fff 1750px,#fff 1752px,#5ced5c 1752px,#5ced5c 1757px,#fff 1757px,#fff 1759px,#62dede 1759px,#62dede 1761px,#b0f4d0 1761px,#b0f4d0 1762px,#62f362 1762px,#62f362 1766px,#b0f4d0 1766px,#b0f4d0 1767px,#62dede 1767px,#62dede 1769px,#b0f4d0 1769px,#b0f4d0 1770px,#62f362 1770px,#62f362 1773px,#65f665 1773px,#65f665 1829px,#98efef 1829px,#98efef 1830px,#77d8d8 1830px,#77d8d8 1832px,#9ae4e4 1832px,#9ae4e4 1834px,#99f0f0 1834px,#99f0f0 1836px,#b3f2f2 1836px,#b3f2f2 1837px,#7fdcdc 1837px,#7fdcdc 1839px,#a2e7e7 1839px,#a2e7e7 1841px,#abeded 1841px,#abeded 1842px,#a9e8e8 1842px,#a9e8e8 1844px,#92e4e4 1844px,#92e4e4 1845px,#78d8d8 1845px,#78d8d8 1847px,#91eaea 1847px,#91eaea 1848px,#54e454 1848px,#54e454 1850px,#70ff70 1850px,#70ff70 1851px,#70fd70 1851px,#70fd70 1852px,#82fa82 1852px,#82fa82 1853px,#69f869 1853px,#69f869 1855px,#65ed65 1855px,#65ed65 1857px,#80f780 1857px,#80f780 1859px,#6cf86c 1859px,#6cf86c 1860px,#cbfad7 1860px,#cbfad7 1861px,#c1f1f1 1861px,#c1f1f1 1863px,#58e458 1863px,#58e458 1865px,#6ff56f 1865px,#6ff56f 1867px,#77ee77 1867px,#77ee77 1869px,#88f688 1869px,#88f688 1871px,#70f070 1871px,#70f070 1873px,#6efe6e 1873px,#6efe6e 1874px,#fff 1874px,#fff 1876px,#d6f28a 1876px,#d6f28a 1882px,#6be7e7 1882px,#6be7e7 1888px,#b1f4d0 1888px,#b1f4d0 1889px,#5ced5c 1889px,#5ced5c 1893px,#fff 1893px,#fff 1895px,#d8f48c 1895px,#d8f48c 1900px,#eafae0 1900px,#eafae0 1901px,#d2f7f7 1901px,#d2f7f7 1904px,#fff 1904px,#fff 1915px,#7ff37f 1915px,#7ff37f 1917px,#77e0e0 1917px,#77e0e0 1921px,#fff 1921px,#fff 1947px,#7fe2e2 1947px,#7fe2e2 1949px,#fff 1949px,#fff 2101px)"></div>
<div class="r" style="top:681px;background:linear-gradient(90deg,#fff 0px,#fff 110px,#f9f9e2 110px,#f9f9e2 112px,#fff 112px,#fff 446px,#b9f8b9 446px,#b9f8b9 448px,#fff 448px,#fff 723px,#5eee5e 723px,#5eee5e 741px,#cffacf 741px,#cffacf 743px,#5fdbdb 743px,#5fdbdb 761px,#bff1f1 761px,#bff1f1 763px,#8fe0e0 763px,#8fe0e0 765px,#6ef46e 765px,#6ef46e 768px,#68dfdf 768px,#68dfdf 769px,#7ce7e7 769px,#7ce7e7 771px,#86eaea 771px,#86eaea 772px,#8ee5e5 772px,#8ee5e5 775px,#7ee8e8 775px,#7ee8e8 778px,#65d4d4 778px,#65d4d4 781px,#89e4e4 781px,#89e4e4 785px,#8ceaea 785px,#8ceaea 788px,#d6f28b 788px,#d6f28b 790px,#8bf68b 790px,#8bf68b 791px,#80e8e8 791px,#80e8e8 793px,#dffb93 793px,#dffb93 814px,#d3ef88 814px,#d3ef88 815px,#e3f8a8 815px,#e3f8a8 816px,#8cf48c 816px,#8cf48c 817px,#61f061 817px,#61f061 819px,#d6ee93 819px,#d6ee93 821px,#d3ec8d 821px,#d3ec8d 823px,#76f276 823px,#76f276 825px,#86fa86 825px,#86fa86 829px,#d3ef89 829px,#d3ef89 831px,#d4ee8f 831px,#d4ee8f 832px,#e9f7c3 832px,#e9f7c3 833px,#d3ef87 833px,#d3ef87 853px,#afeded 853px,#afeded 855px,#5fdbdb 855px,#5fdbdb 862px,#8fe6e6 862px,#8fe6e6 863px,#65e1e1 863px,#65e1e1 1730px,#b2f0f0 1730px,#b2f0f0 1731px,#daf68e 1731px,#daf68e 1740px,#fff 1740px,#fff 1742px,#53cfcf 1742px,#53cfcf 1749px,#fff 1749px,#fff 1751px,#62dede 1751px,#62dede 1757px,#c4f2f2 1757px,#c4f2f2 1758px,#b0eeee 1758px,#b0eeee 1759px,#c5f3f3 1759px,#c5f3f3 1760px,#65e1e1 1760px,#65e1e1 1766px,#c2f3f3 1766px,#c2f3f3 1767px,#a3eded 1767px,#a3eded 1769px,#c1f2f2 1769px,#c1f2f2 1770px,#62dede 1770px,#62dede 1773px,#56d2d2 1773px,#56d2d2 1829px,#6fd9d9 1829px,#6fd9d9 1831px,#7ce7e7 1831px,#7ce7e7 1833px,#76e4e4 1833px,#76e4e4 1834px,#9ae9e9 1834px,#9ae9e9 1835px,#95e1e1 1835px,#95e1e1 1837px,#75dada 1837px,#75dada 1838px,#8ceeee 1838px,#8ceeee 1840px,#71dada 1840px,#71dada 1842px,#94e2e2 1842px,#94e2e2 1843px,#79dddd 1843px,#79dddd 1845px,#74e0e0 1845px,#74e0e0 1847px,#a6ebeb 1847px,#a6ebeb 1849px,#9de3e3 1849px,#9de3e3 1850px,#71d6d6 1850px,#71d6d6 1851px,#fff 1851px,#fff 1855px,#7be1e1 1855px,#7be1e1 1857px,#c0efef 1857px,#c0efef 1858px,#85dede 1858px,#85dede 1860px,#cbf4f4 1860px,#cbf4f4 1862px,#eefcfc 1862px,#eefcfc 1863px,#c9f0f0 1863px,#c9f0f0 1864px,#64dcdc 1864px,#64dcdc 1865px,#83e1e1 1865px,#83e1e1 1866px,#86e9e9 1866px,#86e9e9 1868px,#98efef 1868px,#98efef 1870px,#7de0e0 1870px,#7de0e0 1872px,#64d6d6 1872px,#64d6d6 1873px,#cef2d8 1873px,#cef2d8 1874px,#d6f28a 1874px,#d6f28a 1882px,#62dede 1882px,#62dede 1888px,#aff2ce 1888px,#aff2ce 1889px,#5ced5c 1889px,#5ced5c 1900px,#cbf8d4 1900px,#cbf8d4 1901px,#d2f7f7 1901px,#d2f7f7 1904px,#fff 1904px,#fff 1915px,#7ff37f 1915px,#7ff37f 1917px,#77e0e0 1917px,#77e0e0 1921px,#fff 1921px,#fff 1947px,#7fe2e2 1947px,#7fe2e2 1949px,#fff 1949px,#fff 2101px)"></div>
<div class="r" style="top:649px;background:linear-gradient(90deg,#fff 0px,#fff 110px,#fbfbec 110px,#fbfbec 112px,#fff 112px,#fff 446px,#c4f2f2 446px,#c4f2f2 448px,#fff 448px,#fff 723px,#54d0d0 723px,#54d0d0 741px,#ccf1f1 741px,#ccf1f1 743px,#d8f48c 743px,#d8f48c 761px,#effbd1 761px,#effbd1 763px,#81dede 763px,#81dede 765px,#6dea6d 765px,#6dea6d 768px,#5dd3d3 768px,#5dd3d3 769px,#7bec7b 769px,#7bec7b 771px,#7ae7e7 771px,#7ae7e7 772px,#76ec76 772px,#76ec76 775px,#71dede 775px,#71dede 778px,#89e0e0 778px,#89e0e0 781px,#5cd3d3 781px,#5cd3d3 785px,#72eb72 785px,#72eb72 788px,#79e7e7 788px,#79e7e7 790px,#9beded 790px,#9beded 791px,#6ee4e4 791px,#6ee4e4 793px,#54e654 793px,#54e654 814px,#61dcdc 814px,#61dcdc 815px,#7adbdb 815px,#7adbdb 816px,#68d7d7 816px,#68d7d7 817px,#5eec5e 817px,#5eec5e 819px,#84dede 819px,#84dede 821px,#8ce5e5 821px,#8ce5e5 823px,#8decec 823px,#8decec 825px,#67dede 825px,#67dede 829px,#83eaea 829px,#83eaea 831px,#90e7e7 831px,#90e7e7 832px,#b4f2f2 832px,#b4f2f2 833px,#6ae6e6 833px,#6ae6e6 853px,#b5f3f3 853px,#b5f3f3 855px,#6be7e7 855px,#6be7e7 862px,#97eeee 862px,#97eeee 863px,#65e1e1 863px,#65e1e1 1730px,#b2f0f0 1730px,#b2f0f0 1731px,#d4f088 1731px,#d4f088 1740px,#ecfac6 1740px,#ecfac6 1741px,#dcf890 1741px,#dcf890 1750px,#fff 1750px,#fff 1752px,#56e756 1752px,#56e756 1758px,#aef1cc 1758px,#aef1cc 1759px,#62dede 1759px,#62dede 1765px,#b3f1f1 1765px,#b3f1f1 1766px,#6be7e7 1766px,#6be7e7 1768px,#c0f5f5 1768px,#c0f5f5 1769px,#97eeee 1769px,#97eeee 1772px,#bdf2f2 1772px,#bdf2f2 1773px,#5fdbdb 1773px,#5fdbdb 1829px,#a8f1f1 1829px,#a8f1f1 1831px,#fff 1831px,#fff 1834px,#def0ac 1834px,#def0ac 1835px,#9ae6e6 1835px,#9ae6e6 1837px,#e7f7bd 1837px,#e7f7bd 1839px,#ebf7cb 1839px,#ebf7cb 1841px,#ecfac5 1841px,#ecfac5 1843px,#e4f7b3 1843px,#e4f7b3 1844px,#b5ecec 1844px,#b5ecec 1845px,#8ce4e4 1845px,#8ce4e4 1846px,#91e9e9 1846px,#91e9e9 1847px,#6fdbdb 1847px,#6fdbdb 1848px,#59d0d0 1848px,#59d0d0 1850px,#7fe1e1 1850px,#7fe1e1 1851px,#62d5d5 1851px,#62d5d5 1853px,#6ae0e0 1853px,#6ae0e0 1855px,#66d6d6 1855px,#66d6d6 1856px,#66d5d5 1856px,#66d5d5 1858px,#84ebeb 1858px,#84ebeb 1860px,#bff1f1 1860px,#bff1f1 1862px,#71dcdc 1862px,#71dcdc 1863px,#fff 1863px,#fff 1865px,#64d8d8 1865px,#64d8d8 1867px,#6cdfdf 1867px,#6cdfdf 1869px,#85e7e7 1869px,#85e7e7 1870px,#6ee2e2 1870px,#6ee2e2 1871px,#6ee5e5 1871px,#6ee5e5 1873px,#5dd5d5 1873px,#5dd5d5 1875px,#82e2e2 1875px,#82e2e2 1877px,#73dddd 1877px,#73dddd 1878px,#77e1e1 1878px,#77e1e1 1879px,#64dede 1879px,#64dede 1881px,#85e6e6 1881px,#85e6e6 1882px,#6dd6d6 1882px,#6dd6d6 1883px,#5bd7d7 1883px,#5bd7d7 1885px,#87e8e8 1885px,#87e8e8 1886px,#6bd4d4 1886px,#6bd4d4 1887px,#8ae9e9 1887px,#8ae9e9 1888px,#56d2d2 1888px,#56d2d2 1893px,#62dede 1893px,#62dede 1900px,#ccf5f5 1900px,#ccf5f5 1901px,#d2f7f7 1901px,#d2f7f7 1904px,#fff 1904px,#fff 1915px,#7ff37f 1915px,#7ff37f 1917px,#77e0e0 1917px,#77e0e0 1921px,#fff 1921px,#fff 1947px,#7fe2e2 1947px,#7fe2e2 1949px,#fff 1949px,#fff 2101px)"></div>
<div class="r" style="top:617px;background:linear-gradient(90deg,#fff 0px,#fff 110px,#fcfcf2 110px,#fcfcf2 112px,#fff 112px,#fff 446px,#cffacf 446px,#cffacf 448px,#fff 448px,#fff 723px,#59ea59 723px,#59ea59 741px,#cdf9cd 741px,#cdf9cd 743px,#6ae6e6 743px,#6ae6e6 761px,#c3f5f5 761px,#c3f5f5 763px,#7dfa7d 763px,#7dfa7d 765px,#55d0d0 765px,#55d0d0 768px,#def4a1 768px,#def4a1 769px,#8dfa8d 769px,#8dfa8d 771px,#e2f7aa 771px,#e2f7aa 772px,#92ecec 772px,#92ecec 775px,#e5f8b3 775px,#e5f8b3 778px,#6ae5e5 778px,#6ae5e5 781px,#7ce9e9 781px,#7ce9e9 785px,#8ddfdf 785px,#8ddfdf 788px,#6be7e7 788px,#6be7e7 790px,#8febeb 790px,#8febeb 791px,#8fe0e0 791px,#8fe0e0 793px,#64e0e0 793px,#64e0e0 814px,#81ecec 814px,#81ecec 815px,#82dfdf 815px,#82dfdf 816px,#79fa79 816px,#79fa79 817px,#78d8d8 817px,#78d8d8 819px,#dff5a4 819px,#dff5a4 821px,#61d1d1 821px,#61d1d1 823px,#93fb93 823px,#93fb93 825px,#5ad5d5 825px,#5ad5d5 829px,#7ce7e7 829px,#7ce7e7 831px,#59cfcf 831px,#59cfcf 832px,#aae8e8 832px,#aae8e8 833px,#54d0d0 833px,#54d0d0 853px,#afeded 853px,#afeded 855px,#5fdbdb 855px,#5fdbdb 862px,#8fe6e6 862px,#8fe6e6 863px,#5cd8d8 863px,#5cd8d8 1730px,#aeecec 1730px,#aeecec 1731px,#fff 1731px,#fff 1733px,#5fdbdb 1733px,#5fdbdb 1736px,#cdf3d9 1736px,#cdf3d9 1737px,#d6f28a 1737px,#d6f28a 1740px,#eaf8c4 1740px,#eaf8c4 1741px,#d2ee86 1741px,#d2ee86 1750px,#8fe6e6 1750px,#8fe6e6 1752px,#fff 1752px,#fff 1754px,#5ced5c 1754px,#5ced5c 1757px,#aff2ce 1757px,#aff2ce 1758px,#62dede 1758px,#62dede 1760px,#b0f3cf 1760px,#b0f3cf 1761px,#5ff05f 1761px,#5ff05f 1765px,#b2f5d1 1765px,#b2f5d1 1766px,#6be7e7 1766px,#6be7e7 1768px,#c0f5f5 1768px,#c0f5f5 1769px,#97eeee 1769px,#97eeee 1772px,#baefef 1772px,#baefef 1773px,#53cfcf 1773px,#53cfcf 1829px,#edfac7 1829px,#edfac7 1831px,#edf9cd 1831px,#edf9cd 1833px,#aaebeb 1833px,#aaebeb 1835px,#8de2e2 1835px,#8de2e2 1837px,#fff 1837px,#fff 1839px,#a2eded 1839px,#a2eded 1840px,#97e7e7 1840px,#97e7e7 1841px,#bceeee 1841px,#bceeee 1842px,#dff1ae 1842px,#dff1ae 1843px,#fff 1843px,#fff 1845px,#b8eded 1845px,#b8eded 1846px,#bcf4f4 1846px,#bcf4f4 1847px,#fff 1847px,#fff 1849px,#a3eded 1849px,#a3eded 1850px,#62dede 1850px,#62dede 1855px,#59ea59 1855px,#59ea59 1859px,#62dede 1859px,#62dede 1861px,#fff 1861px,#fff 1864px,#eefcfc 1864px,#eefcfc 1865px,#e9fbfb 1865px,#e9fbfb 1866px,#60e460 1866px,#60e460 1868px,#62dede 1868px,#62dede 1869px,#85ed85 1869px,#85ed85 1870px,#74dede 1870px,#74dede 1872px,#6ed8d8 1872px,#6ed8d8 1874px,#77dede 1874px,#77dede 1876px,#d6f28a 1876px,#d6f28a 1882px,#65e1e1 1882px,#65e1e1 1890px,#d8f48c 1890px,#d8f48c 1893px,#62dede 1893px,#62dede 1900px,#ccf5f5 1900px,#ccf5f5 1901px,#d2f7f7 1901px,#d2f7f7 1904px,#fff 1904px,#fff 1915px,#7ff37f 1915px,#7ff37f 1917px,#77e0e0 1917px,#77e0e0 1921px,#fff 1921px,#fff 1947px,#7fe2e2 1947px,#7fe2e2 1949px,#fff 1949px,#fff 2101px)"></div>
<div class="r" style="top:585px;background:linear-gradient(90deg,#fff 0px,#fff 446px,#daf7f7 446px,#daf7f7 448px,#fff 448px,#fff 723px,#59d5d5 723px,#59d5d5 741px,#cdf2f2 741px,#cdf2f2 743px,#6ae6e6 743px,#6ae6e6 761px,#c3f5f5 761px,#c3f5f5 763px,#d8f38e 763px,#d8f38e 765px,#64ef64 765px,#64ef64 768px,#6fe3e3 768px,#6fe3e3 769px,#69e1e1 769px,#69e1e1 771px,#e4f7b2 771px,#e4f7b2 772px,#8ce8e8 772px,#8ce8e8 775px,#6ee8e8 775px,#6ee8e8 778px,#74f174 778px,#74f174 781px,#90f490 781px,#90f490 785px,#e5f8b1 785px,#e5f8b1 788px,#e1f6a8 788px,#e1f6a8 790px,#daf495 790px,#daf495 791px,#6cee6c 791px,#6cee6c 793px,#54e654 793px,#54e654 814px,#61d3d3 814px,#61d3d3 815px,#83dbdb 815px,#83dbdb 816px,#6ad4d4 816px,#6ad4d4 817px,#87e0e0 817px,#87e0e0 819px,#ddf49f 819px,#ddf49f 821px,#7ad9d9 821px,#7ad9d9 823px,#7ddddd 823px,#7ddddd 825px,#6ad7d7 825px,#6ad7d7 829px,#79dede 829px,#79dede 831px,#54cece 831px,#54cece 832px,#aceaea 832px,#aceaea 833px,#59d5d5 833px,#59d5d5 853px,#afeded 853px,#afeded 855px,#5fdbdb 855px,#5fdbdb 862px,#8fe6e6 862px,#8fe6e6 863px,#6bfc6b 863px,#6bfc6b 1730px,#b5feb5 1730px,#b5feb5 1731px,#c4f5f5 1731px,#c4f5f5 1732px,#89e8e8 1732px,#89e8e8 1733px,#edfcc6 1733px,#edfcc6 1735px,#a1e4e4 1735px,#a1e4e4 1736px,#d5ef8e 1736px,#d5ef8e 1738px,#7df37d 1738px,#7df37d 1739px,#e2f9a3 1739px,#e2f9a3 1740px,#88dddd 1740px,#88dddd 1741px,#8de0e0 1741px,#8de0e0 1742px,#78d9d9 1742px,#78d9d9 1743px,#e2f9a3 1743px,#e2f9a3 1746px,#d7ef94 1746px,#d7ef94 1748px,#d8f292 1748px,#d8f292 1749px,#d1eb8d 1749px,#d1eb8d 1750px,#e4f6de 1750px,#e4f6de 1751px,#bfeded 1751px,#bfeded 1752px,#85e4e4 1752px,#85e4e4 1753px,#78f978 1753px,#78f978 1754px,#61ec61 1754px,#61ec61 1755px,#77dddd 1755px,#77dddd 1757px,#b6eaea 1757px,#b6eaea 1758px,#fff 1758px,#fff 1760px,#71e971 1760px,#71e971 1763px,#67e867 1763px,#67e867 1765px,#c4efef 1765px,#c4efef 1767px,#fff 1767px,#fff 1770px,#a9eded 1770px,#a9eded 1772px,#a2e8e8 1772px,#a2e8e8 1773px,#6eeaea 1773px,#6eeaea 1829px,#aeffae 1829px,#aeffae 1831px,#86e0e0 1831px,#86e0e0 1833px,#9beeee 1833px,#9beeee 1835px,#9ae3e3 1835px,#9ae3e3 1836px,#9eeaea 1836px,#9eeaea 1838px,#fff 1838px,#fff 1840px,#b6efef 1840px,#b6efef 1841px,#b8f1f1 1841px,#b8f1f1 1842px,#88f288 1842px,#88f288 1843px,#8ce6e6 1843px,#8ce6e6 1844px,#b1f1f1 1844px,#b1f1f1 1845px,#a9e7e7 1845px,#a9e7e7 1847px,#a0f7a0 1847px,#a0f7a0 1849px,#7de3e3 1849px,#7de3e3 1850px,#8eebeb 1850px,#8eebeb 1851px,#58d2d2 1851px,#58d2d2 1853px,#7fe1e1 1853px,#7fe1e1 1855px,#64eb64 1855px,#64eb64 1858px,#65eb65 1858px,#65eb65 1860px,#66ec66 1860px,#66ec66 1861px,#fff 1861px,#fff 1863px,#e7f8f8 1863px,#e7f8f8 1864px,#f6fdfd 1864px,#f6fdfd 1865px,#f4fdfd 1865px,#f4fdfd 1866px,#7ce9e9 1866px,#7ce9e9 1867px,#70dcdc 1867px,#70dcdc 1868px,#c1f2f2 1868px,#c1f2f2 1869px,#97eded 1869px,#97eded 1871px,#73f673 1871px,#73f673 1872px,#76d7d7 1872px,#76d7d7 1874px,#78e0e0 1874px,#78e0e0 1875px,#d7f28d 1875px,#d7f28d 1879px,#d9f394 1879px,#d9f394 1881px,#d7f28d 1881px,#d7f28d 1882px,#7ad9d9 1882px,#7ad9d9 1883px,#a3e8e8 1883px,#a3e8e8 1885px,#8febeb 1885px,#8febeb 1886px,#8cdfdf 1886px,#8cdfdf 1887px,#fff 1887px,#fff 1889px,#90e7e7 1889px,#90e7e7 1891px,#8fed8f 1891px,#8fed8f 1893px,#8aed8a 1893px,#8aed8a 1895px,#a5f1f1 1895px,#a5f1f1 1897px,#80dbdb 1897px,#80dbdb 1899px,#96e3e3 1899px,#96e3e3 1900px,#9cf0f0 1900px,#9cf0f0 1901px,#def9f9 1901px,#def9f9 1902px,#e0f7f7 1902px,#e0f7f7 1903px,#d9f5f5 1903px,#d9f5f5 1904px,#fff 1904px,#fff 1915px,#7ff37f 1915px,#7ff37f 1917px,#77e0e0 1917px,#77e0e0 1921px,#fff 1921px,#fff 1947px,#7fe2e2 1947px,#7fe2e2 1949px,#fff 1949px,#fff 2101px)"></div>
<div class="r" style="top:553px;background:linear-gradient(90deg,#fff 0px,#fff 446px,#e5fde5 446px,#e5fde5 448px,#fff 448px,#fff 724px,#59d5d5 724px,#59d5d5 741px,#cdf2f2 741px,#cdf2f2 743px,#59d5d5 743px,#59d5d5 761px,#bdeeee 761px,#bdeeee 763px,#6fd7d7 763px,#6fd7d7 765px,#97eeee 765px,#97eeee 768px,#85e7e7 768px,#85e7e7 769px,#76d9d9 769px,#76d9d9 771px,#83ebeb 771px,#83ebeb 772px,#85e8e8 772px,#85e8e8 775px,#86e8e8 775px,#86e8e8 778px,#5dd4d4 778px,#5dd4d4 781px,#94e9e9 781px,#94e9e9 785px,#82dcdc 785px,#82dcdc 788px,#83e5e5 788px,#83e5e5 790px,#6ee3e3 790px,#6ee3e3 791px,#9aebeb 791px,#9aebeb 793px,#59d5d5 793px,#59d5d5 814px,#80f080 814px,#80f080 815px,#87e0e0 815px,#87e0e0 816px,#79d8d8 816px,#79d8d8 817px,#dcf49c 817px,#dcf49c 819px,#78dcdc 819px,#78dcdc 821px,#6ee6e6 821px,#6ee6e6 823px,#82e5e5 823px,#82e5e5 825px,#8aecec 825px,#8aecec 829px,#86dfdf 829px,#86dfdf 831px,#78d8d8 831px,#78d8d8 832px,#b5feb5 832px,#b5feb5 833px,#6bfc6b 833px,#6bfc6b 853px,#b5f3f3 853px,#b5f3f3 855px,#6be7e7 855px,#6be7e7 862px,#97eeee 862px,#97eeee 863px,#5cd8d8 863px,#5cd8d8 1730px,#aeecec 1730px,#aeecec 1731px,#daf5f5 1731px,#daf5f5 1732px,#aaecec 1732px,#aaecec 1733px,#e5f4be 1733px,#e5f4be 1735px,#a1e6e6 1735px,#a1e6e6 1736px,#def4a0 1736px,#def4a0 1738px,#68f968 1738px,#68f968 1739px,#60f060 1739px,#60f060 1740px,#7fdddd 1740px,#7fdddd 1741px,#92eaea 1741px,#92eaea 1742px,#76dada 1742px,#76dada 1743px,#def69e 1743px,#def69e 1746px,#d9f09a 1746px,#d9f09a 1748px,#e6fca9 1748px,#e6fca9 1749px,#76ebeb 1749px,#76ebeb 1750px,#e1fafa 1750px,#e1fafa 1751px,#defafa 1751px,#defafa 1752px,#72e0e0 1752px,#72e0e0 1753px,#7beaea 1753px,#7beaea 1754px,#71e2e2 1754px,#71e2e2 1755px,#6bd7d7 1755px,#6bd7d7 1757px,#fff 1757px,#fff 1760px,#81e7e7 1760px,#81e7e7 1763px,#7dfb7d 1763px,#7dfb7d 1765px,#fff 1765px,#fff 1767px,#a9e6e6 1767px,#a9e6e6 1769px,#92e2e2 1769px,#92e2e2 1770px,#bcf3f3 1770px,#bcf3f3 1772px,#acf0f0 1772px,#acf0f0 1773px,#5ff05f 1773px,#5ff05f 1829px,#9cf79c 1829px,#9cf79c 1831px,#9df09d 1831px,#9df09d 1833px,#a7e8e8 1833px,#a7e8e8 1835px,#b1ebeb 1835px,#b1ebeb 1836px,#bbf5f5 1836px,#bbf5f5 1838px,#a0e6e6 1838px,#a0e6e6 1840px,#92e4e4 1840px,#92e4e4 1841px,#b3f0f0 1841px,#b3f0f0 1842px,#8ee8e8 1842px,#8ee8e8 1843px,#9ff79f 1843px,#9ff79f 1844px,#9aeaea 1844px,#9aeaea 1845px,#a3efef 1845px,#a3efef 1847px,#bcf4f4 1847px,#bcf4f4 1849px,#77d9d9 1849px,#77d9d9 1850px,#72d6d6 1850px,#72d6d6 1851px,#79eaea 1851px,#79eaea 1853px,#95eeee 1853px,#95eeee 1855px,#71f971 1855px,#71f971 1858px,#73f973 1858px,#73f973 1860px,#6bf96b 1860px,#6bf96b 1861px,#fff 1861px,#fff 1863px,#e1f8f8 1863px,#e1f8f8 1864px,#f5fdfd 1864px,#f5fdfd 1865px,#f6fdfd 1865px,#f6fdfd 1866px,#78f178 1866px,#78f178 1867px,#77ea77 1867px,#77ea77 1868px,#8ff08f 1868px,#8ff08f 1869px,#65d8d8 1869px,#65d8d8 1871px,#7df47d 1871px,#7df47d 1872px,#7aec7a 1872px,#7aec7a 1874px,#73e4e4 1874px,#73e4e4 1875px,#5cd6d6 1875px,#5cd6d6 1877px,#61d7d7 1877px,#61d7d7 1879px,#5cd6d6 1879px,#5cd6d6 1881px,#63d7d7 1881px,#63d7d7 1882px,#acf3f3 1882px,#acf3f3 1883px,#87e2e2 1883px,#87e2e2 1885px,#a7ecec 1885px,#a7ecec 1886px,#a2ecec 1886px,#a2ecec 1887px,#88fa88 1887px,#88fa88 1889px,#a3ecec 1889px,#a3ecec 1891px,#86f486 1891px,#86f486 1893px,#9aecec 1893px,#9aecec 1895px,#90dfdf 1895px,#90dfdf 1897px,#9dfe9d 1897px,#9dfe9d 1899px,#9cfd9c 1899px,#9cfd9c 1900px,#8ff88f 1900px,#8ff88f 1901px,#daf5f5 1901px,#daf5f5 1902px,#e4f9f9 1902px,#e4f9f9 1903px,#fff 1903px,#fff 1915px,#7ff37f 1915px,#7ff37f 1917px,#77e0e0 1917px,#77e0e0 1921px,#fff 1921px,#fff 1947px,#7fe2e2 1947px,#7fe2e2 1949px,#fff 1949px,#fff 2101px)"></div>
<div class="r" style="top:521px;background:linear-gradient(90deg,#fff 0px,#fff 446px,#effbfb 446px,#effbfb 448px,#fff 448px,#fff 724px,#5fdbdb 724px,#5fdbdb 741px,#cff4f4 741px,#cff4f4 743px,#64e0e0 743px,#64e0e0 761px,#c1f2f2 761px,#c1f2f2 763px,#5ee85e 763px,#5ee85e 765px,#78e4e4 765px,#78e4e4 768px,#6ddbdb 768px,#6ddbdb 769px,#70e3e3 769px,#70e3e3 771px,#79dcdc 771px,#79dcdc 772px,#57cfcf 772px,#57cfcf 775px,#90e2e2 775px,#90e2e2 778px,#81e1e1 778px,#81e1e1 781px,#65e1e1 781px,#65e1e1 785px,#90e4e4 785px,#90e4e4 788px,#dff5a3 788px,#dff5a3 790px,#62d9d9 790px,#62d9d9 791px,#7adede 791px,#7adede 793px,#53cfcf 793px,#53cfcf 814px,#69d4d4 814px,#69d4d4 815px,#6bdada 815px,#6bdada 816px,#71dbdb 816px,#71dbdb 817px,#55cece 817px,#55cece 819px,#57cfcf 819px,#57cfcf 821px,#d8f390 821px,#d8f390 823px,#67d3d3 823px,#67d3d3 825px,#83dbdb 825px,#83dbdb 829px,#70e3e3 829px,#70e3e3 831px,#7de5e5 831px,#7de5e5 832px,#e8f6c2 832px,#e8f6c2 833px,#d1ed85 833px,#d1ed85 853px,#b4f2f2 853px,#b4f2f2 855px,#68e4e4 855px,#68e4e4 862px,#95ecec 862px,#95ecec 863px,#59ea59 863px,#59ea59 1730px,#acf4ac 1730px,#acf4ac 1731px,#beecec 1731px,#beecec 1732px,#e2f5ae 1732px,#e2f5ae 1733px,#89e0e0 1733px,#89e0e0 1735px,#e3f7ac 1735px,#e3f7ac 1736px,#d6f28b 1736px,#d6f28b 1738px,#7af27a 1738px,#7af27a 1739px,#d3ee8a 1739px,#d3ee8a 1740px,#66d4d4 1740px,#66d4d4 1741px,#9ceded 1741px,#9ceded 1742px,#7adddd 1742px,#7adddd 1743px,#73e1e1 1743px,#73e1e1 1746px,#6cd4d4 1746px,#6cd4d4 1748px,#ddf59b 1748px,#ddf59b 1749px,#78e7e7 1749px,#78e7e7 1750px,#d0f6f6 1750px,#d0f6f6 1751px,#b0ebeb 1751px,#b0ebeb 1752px,#75d9d9 1752px,#75d9d9 1753px,#bbeeee 1753px,#bbeeee 1754px,#79e3e3 1754px,#79e3e3 1755px,#6bdada 1755px,#6bdada 1757px,#96e4e4 1757px,#96e4e4 1758px,#fff 1758px,#fff 1760px,#70eb70 1760px,#70eb70 1763px,#79f079 1763px,#79f079 1765px,#baf1f1 1765px,#baf1f1 1767px,#b8eeee 1767px,#b8eeee 1769px,#9aebeb 1769px,#9aebeb 1770px,#a0eded 1770px,#a0eded 1772px,#a9f0f0 1772px,#a9f0f0 1773px,#53cfcf 1773px,#53cfcf 1829px,#fff 1829px,#fff 1831px,#abeded 1831px,#abeded 1833px,#eafdb8 1833px,#eafdb8 1835px,#b6efef 1835px,#b6efef 1836px,#97f697 1836px,#97f697 1838px,#a3eded 1838px,#a3eded 1840px,#aff3f3 1840px,#aff3f3 1841px,#b8f1f1 1841px,#b8f1f1 1842px,#dcf9f9 1842px,#dcf9f9 1843px,#baf4f4 1843px,#baf4f4 1844px,#81dddd 1844px,#81dddd 1845px,#e5f6b7 1845px,#e5f6b7 1847px,#9cecec 1847px,#9cecec 1849px,#86e8e8 1849px,#86e8e8 1850px,#92ecec 1850px,#92ecec 1851px,#5fd6d6 1851px,#5fd6d6 1853px,#88e1e1 1853px,#88e1e1 1855px,#67e1e1 1855px,#67e1e1 1858px,#70e3e3 1858px,#70e3e3 1860px,#6be2e2 1860px,#6be2e2 1861px,#d3f6f6 1861px,#d3f6f6 1862px,#e3f8f8 1862px,#e3f8f8 1863px,#fff 1863px,#fff 1866px,#66dada 1866px,#66dada 1867px,#7eeb7e 1867px,#7eeb7e 1868px,#78dede 1868px,#78dede 1869px,#79e4e4 1869px,#79e4e4 1871px,#76e5e5 1871px,#76e5e5 1872px,#8def8d 1872px,#8def8d 1874px,#73e2e2 1874px,#73e2e2 1875px,#d9f48e 1875px,#d9f48e 1877px,#d8f48d 1877px,#d8f48d 1879px,#d9f48f 1879px,#d9f48f 1881px,#dbf595 1881px,#dbf595 1882px,#91eaea 1882px,#91eaea 1883px,#90ee90 1883px,#90ee90 1885px,#9be2e2 1885px,#9be2e2 1886px,#9fe5e5 1886px,#9fe5e5 1887px,#8fe9e9 1887px,#8fe9e9 1889px,#a7f1f1 1889px,#a7f1f1 1891px,#9fe8e8 1891px,#9fe8e8 1893px,#8ae2e2 1893px,#8ae2e2 1895px,#91e8e8 1895px,#91e8e8 1897px,#90e3e3 1897px,#90e3e3 1899px,#88dddd 1899px,#88dddd 1900px,#a3f3a3 1900px,#a3f3a3 1901px,#e4f9f9 1901px,#e4f9f9 1902px,#edfbfb 1902px,#edfbfb 1903px,#fff 1903px,#fff 1915px,#7ff37f 1915px,#7ff37f 1917px,#77e0e0 1917px,#77e0e0 1921px,#fff 1921px,#fff 1947px,#7fe2e2 1947px,#7fe2e2 1949px,#fff 1949px,#fff 2101px)"></div>
<div class="r" style="top:489px;background:linear-gradient(90deg,#fff 0px,#fff 724px,#53cfcf 724px,#53cfcf 740px,#a9e7e7 740px,#a9e7e7 741px,#fff 741px,#fff 744px,#59d5d5 744px,#59d5d5 761px,#bdeeee 761px,#bdeeee 763px,#afeded 763px,#afeded 764px,#fff 764px,#fff 767px,#53e453 767px,#53e453 771px,#ebf9c5 771px,#ebf9c5 773px,#96e9e9 773px,#96e9e9 776px,#89e6e6 776px,#89e6e6 778px,#98eded 778px,#98eded 780px,#7de4e4 780px,#7de4e4 783px,#9eeeee 783px,#9eeeee 786px,#fff 786px,#fff 792px,#5edada 792px,#5edada 812px,#9ee8e8 812px,#9ee8e8 814px,#60dcdc 814px,#60dcdc 832px,#adebeb 832px,#adebeb 833px,#5ad6d6 833px,#5ad6d6 853px,#afeded 853px,#afeded 855px,#5fdbdb 855px,#5fdbdb 862px,#8fe6e6 862px,#8fe6e6 863px,#5ff05f 863px,#5ff05f 1730px,#aff8af 1730px,#aff8af 1731px,#c3f0f0 1731px,#c3f0f0 1732px,#def3a3 1732px,#def3a3 1733px,#daf0a0 1733px,#daf0a0 1735px,#adf0f0 1735px,#adf0f0 1736px,#64f164 1736px,#64f164 1738px,#e5e563 1738px,#e5e563 1739px,#d7f28e 1739px,#d7f28e 1740px,#77dede 1740px,#77dede 1741px,#76e4e4 1741px,#76e4e4 1742px,#77e2e2 1742px,#77e2e2 1743px,#89ecec 1743px,#89ecec 1746px,#ddf894 1746px,#ddf894 1748px,#7deb7d 1748px,#7deb7d 1749px,#83e2e2 1749px,#83e2e2 1750px,#beecec 1750px,#beecec 1751px,#baf2f2 1751px,#baf2f2 1752px,#79ed79 1752px,#79ed79 1753px,#91fe91 1753px,#91fe91 1754px,#6dd8d8 1754px,#6dd8d8 1755px,#7be2e2 1755px,#7be2e2 1757px,#a7ebeb 1757px,#a7ebeb 1758px,#fff 1758px,#fff 1760px,#79e8e8 1760px,#79e8e8 1763px,#6ee0e0 1763px,#6ee0e0 1765px,#aff2f2 1765px,#aff2f2 1767px,#aaeaea 1767px,#aaeaea 1769px,#90e0e0 1769px,#90e0e0 1770px,#fff 1770px,#fff 1772px,#9ae4e4 1772px,#9ae4e4 1773px,#64f464 1773px,#64f464 1829px,#daefa2 1829px,#daefa2 1831px,#9decec 1831px,#9decec 1833px,#a6eeee 1833px,#a6eeee 1835px,#95ebeb 1835px,#95ebeb 1836px,#e8fab6 1836px,#e8fab6 1838px,#fff 1838px,#fff 1840px,#ade9e9 1840px,#ade9e9 1841px,#caf0f0 1841px,#caf0f0 1842px,#7fdbdb 1842px,#7fdbdb 1843px,#b7fab7 1843px,#b7fab7 1844px,#dcefa7 1844px,#dcefa7 1845px,#a8e9e9 1845px,#a8e9e9 1847px,#9ff79f 1847px,#9ff79f 1849px,#8fe8e8 1849px,#8fe8e8 1850px,#6de1e1 1850px,#6de1e1 1851px,#80ecec 1851px,#80ecec 1853px,#7cebeb 1853px,#7cebeb 1855px,#6be2e2 1855px,#6be2e2 1858px,#69e2e2 1858px,#69e2e2 1860px,#6fe3e3 1860px,#6fe3e3 1861px,#d8f7f7 1861px,#d8f7f7 1862px,#f4fcfc 1862px,#f4fcfc 1863px,#effbfb 1863px,#effbfb 1864px,#fff 1864px,#fff 1866px,#7ae97a 1866px,#7ae97a 1867px,#86dddd 1867px,#86dddd 1868px,#71dede 1868px,#71dede 1869px,#96f896 1869px,#96f896 1871px,#90e2e2 1871px,#90e2e2 1872px,#87dede 1872px,#87dede 1874px,#77e4e4 1874px,#77e4e4 1875px,#5ced5c 1875px,#5ced5c 1877px,#65ee65 1877px,#65ee65 1879px,#66ee66 1879px,#66ee66 1881px,#68ee68 1881px,#68ee68 1882px,#9decec 1882px,#9decec 1883px,#fff 1883px,#fff 1885px,#80f380 1885px,#80f380 1886px,#99e3e3 1886px,#99e3e3 1887px,#9fe5e5 1887px,#9fe5e5 1889px,#8de2e2 1889px,#8de2e2 1891px,#a5f0f0 1891px,#a5f0f0 1893px,#fff 1893px,#fff 1895px,#adfead 1895px,#adfead 1897px,#93e0e0 1897px,#93e0e0 1899px,#9afe9a 1899px,#9afe9a 1900px,#8aecec 1900px,#8aecec 1901px,#def9f9 1901px,#def9f9 1902px,#e9f9f9 1902px,#e9f9f9 1903px,#e9fcfc 1903px,#e9fcfc 1904px,#fff 1904px,#fff 1915px,#7ff37f 1915px,#7ff37f 1917px,#77e0e0 1917px,#77e0e0 1921px,#fff 1921px,#fff 1947px,#7fe2e2 1947px,#7fe2e2 1949px,#fff 1949px,#fff 2101px)"></div>
<div class="r" style="top:457px;background:linear-gradient(90deg,#fff 0px,#fff 726px,#6bfc6b 726px,#6bfc6b 740px,#b5feb5 740px,#b5feb5 741px,#fff 741px,#fff 744px,#ddf991 744px,#ddf991 761px,#f1fdd3 761px,#f1fdd3 763px,#afeded 763px,#afeded 764px,#fff 764px,#fff 767px,#5fdbdb 767px,#5fdbdb 771px,#b0eeee 771px,#b0eeee 773px,#e7f8bc 773px,#e7f8bc 776px,#fff 776px,#fff 778px,#91f591 778px,#91f591 780px,#b2f3f3 780px,#b2f3f3 783px,#aff2f2 783px,#aff2f2 786px,#e6d6d6 786px,#e6d6d6 787px,#ed6a6a 787px,#ed6a6a 789px,#5ff05f 789px,#5ff05f 792px,#65e1e1 792px,#65e1e1 812px,#5ff05f 812px,#5ff05f 814px,#66e2e2 814px,#66e2e2 832px,#afeded 832px,#afeded 833px,#5fdbdb 833px,#5fdbdb 853px,#b4f2f2 853px,#b4f2f2 855px,#68e4e4 855px,#68e4e4 862px,#95ecec 862px,#95ecec 863px,#6eeaea 863px,#6eeaea 1730px,#b6f4f4 1730px,#b6f4f4 1731px,#c8f5f5 1731px,#c8f5f5 1732px,#a1e5e5 1732px,#a1e5e5 1733px,#75d7d7 1733px,#75d7d7 1735px,#87e2e2 1735px,#87e2e2 1736px,#e5e562 1736px,#e5e562 1738px,#69f969 1738px,#69f969 1739px,#6af16a 1739px,#6af16a 1740px,#6bdfdf 1740px,#6bdfdf 1741px,#8cdede 1741px,#8cdede 1742px,#94efef 1742px,#94efef 1743px,#e3f8aa 1743px,#e3f8aa 1746px,#d7f38e 1746px,#d7f38e 1748px,#ecf9c8 1748px,#ecf9c8 1749px,#daf395 1749px,#daf395 1750px,#b1e9e9 1750px,#b1e9e9 1751px,#dcf8f8 1751px,#dcf8f8 1752px,#7ce6e6 1752px,#7ce6e6 1753px,#76d8d8 1753px,#76d8d8 1754px,#79e7e7 1754px,#79e7e7 1755px,#64ed64 1755px,#64ed64 1757px,#baf4f4 1757px,#baf4f4 1758px,#fff 1758px,#fff 1760px,#68dada 1760px,#68dada 1763px,#65e965 1763px,#65e965 1765px,#99e4e4 1765px,#99e4e4 1767px,#94e4e4 1767px,#94e4e4 1769px,#b8ebeb 1769px,#b8ebeb 1770px,#b4ebeb 1770px,#b4ebeb 1772px,#a9ebeb 1772px,#a9ebeb 1773px,#6eeaea 1773px,#6eeaea 1829px,#b7efef 1829px,#b7efef 1831px,#8bf58b 1831px,#8bf58b 1833px,#83dddd 1833px,#83dddd 1835px,#97e1e1 1835px,#97e1e1 1836px,#def1ab 1836px,#def1ab 1838px,#95eeee 1838px,#95eeee 1840px,#98e3e3 1840px,#98e3e3 1841px,#95eaea 1841px,#95eaea 1842px,#e1f6a9 1842px,#e1f6a9 1843px,#91f791 1843px,#91f791 1844px,#aff3f3 1844px,#aff3f3 1845px,#85dfdf 1845px,#85dfdf 1847px,#a6eeee 1847px,#a6eeee 1849px,#87e4e4 1849px,#87e4e4 1850px,#8bf28b 1850px,#8bf28b 1851px,#83e1e1 1851px,#83e1e1 1853px,#77dbdb 1853px,#77dbdb 1855px,#67e1e1 1855px,#67e1e1 1858px,#6ee3e3 1858px,#6ee3e3 1860px,#71e3e3 1860px,#71e3e3 1861px,#fff 1861px,#fff 1864px,#e6f8f8 1864px,#e6f8f8 1865px,#e5fbfb 1865px,#e5fbfb 1866px,#78e3e3 1866px,#78e3e3 1867px,#90ef90 1867px,#90ef90 1868px,#79fa79 1868px,#79fa79 1869px,#73eb73 1869px,#73eb73 1871px,#72f672 1871px,#72f672 1872px,#8ae6e6 1872px,#8ae6e6 1874px,#7fe8e8 1874px,#7fe8e8 1875px,#6de0e0 1875px,#6de0e0 1877px,#64dede 1877px,#64dede 1879px,#6fe1e1 1879px,#6fe1e1 1881px,#6be0e0 1881px,#6be0e0 1882px,#9ee8e8 1882px,#9ee8e8 1883px,#9df0f0 1883px,#9df0f0 1885px,#8de9e9 1885px,#8de9e9 1886px,#7ff27f 1886px,#7ff27f 1887px,#84dddd 1887px,#84dddd 1889px,#98f198 1889px,#98f198 1891px,#80dcdc 1891px,#80dcdc 1893px,#88e5e5 1893px,#88e5e5 1895px,#a6efef 1895px,#a6efef 1897px,#91f991 1897px,#91f991 1899px,#a3f9a3 1899px,#a3f9a3 1900px,#93e5e5 1900px,#93e5e5 1901px,#e3f8f8 1901px,#e3f8f8 1902px,#e2fafa 1902px,#e2fafa 1903px,#fff 1903px,#fff 1915px,#7ff37f 1915px,#7ff37f 1917px,#77e0e0 1917px,#77e0e0 1921px,#fff 1921px,#fff 1947px,#7fe2e2 1947px,#7fe2e2 1949px,#fff 1949px,#fff 2101px)"></div>
<div class="r" style="top:425px;background:linear-gradient(90deg,#fff 0px,#fff 726px,#ea6666 726px,#ea6666 740px,#f4b2b2 740px,#f4b2b2 741px,#fff 741px,#fff 744px,#d1ed85 744px,#d1ed85 761px,#edf8ce 761px,#edf8ce 763px,#afeded 763px,#afeded 764px,#fff 764px,#fff 767px,#6be7e7 767px,#6be7e7 771px,#83f383 771px,#83f383 773px,#fff 773px,#fff 778px,#aef1f1 778px,#aef1f1 780px,#fff 780px,#fff 783px,#95ecec 783px,#95ecec 786px,#f06e6e 786px,#f06e6e 788px,#62dede 788px,#62dede 790px,#fff 790px,#fff 792px,#58d4d4 792px,#58d4d4 812px,#5ff05f 812px,#5ff05f 814px,#60dcdc 814px,#60dcdc 832px,#adebeb 832px,#adebeb 833px,#5ad6d6 833px,#5ad6d6 853px,#afeded 853px,#afeded 855px,#5fdbdb 855px,#5fdbdb 862px,#8fe6e6 862px,#8fe6e6 863px,#53cfcf 863px,#53cfcf 1730px,#a9e7e7 1730px,#a9e7e7 1731px,#c7f4f4 1731px,#c7f4f4 1732px,#88e7e7 1732px,#88e7e7 1733px,#8be6e6 1733px,#8be6e6 1735px,#97ecec 1735px,#97ecec 1736px,#d6f28b 1736px,#d6f28b 1738px,#dff6a2 1738px,#dff6a2 1739px,#6ef96e 1739px,#6ef96e 1740px,#61d6d6 1740px,#61d6d6 1741px,#92e5e5 1741px,#92e5e5 1742px,#7ddede 1742px,#7ddede 1743px,#72dbdb 1743px,#72dbdb 1746px,#8cecec 1746px,#8cecec 1748px,#ddf795 1748px,#ddf795 1749px,#d9f48e 1749px,#d9f48e 1750px,#b2eded 1750px,#b2eded 1751px,#b8efef 1751px,#b8efef 1752px,#64d4d4 1752px,#64d4d4 1753px,#81e2e2 1753px,#81e2e2 1754px,#6bf36b 1754px,#6bf36b 1755px,#fff 1755px,#fff 1757px,#8de3e3 1757px,#8de3e3 1758px,#fff 1758px,#fff 1760px,#7ce2e2 1760px,#7ce2e2 1763px,#87ff87 1763px,#87ff87 1765px,#a1f0f0 1765px,#a1f0f0 1767px,#b7ebeb 1767px,#b7ebeb 1769px,#a8f2f2 1769px,#a8f2f2 1770px,#c1f4f4 1770px,#c1f4f4 1772px,#a9f0f0 1772px,#a9f0f0 1773px,#6eeaea 1773px,#6eeaea 1829px,#8febeb 1829px,#8febeb 1831px,#92e2e2 1831px,#92e2e2 1833px,#8de0e0 1833px,#8de0e0 1835px,#ecfac6 1835px,#ecfac6 1836px,#b1f1f1 1836px,#b1f1f1 1838px,#8bdfdf 1838px,#8bdfdf 1840px,#9de3e3 1840px,#9de3e3 1841px,#92eeee 1841px,#92eeee 1842px,#9ffd9f 1842px,#9ffd9f 1843px,#8ef08e 1843px,#8ef08e 1844px,#b0f1f1 1844px,#b0f1f1 1845px,#aceaea 1845px,#aceaea 1847px,#a2efef 1847px,#a2efef 1849px,#65d2d2 1849px,#65d2d2 1850px,#6ce0e0 1850px,#6ce0e0 1851px,#66d7d7 1851px,#66d7d7 1853px,#65dfdf 1853px,#65dfdf 1855px,#61d9d9 1855px,#61d9d9 1858px,#69dbdb 1858px,#69dbdb 1860px,#67dbdb 1860px,#67dbdb 1861px,#d6f5f5 1861px,#d6f5f5 1862px,#f5fcfc 1862px,#f5fcfc 1863px,#f5fdfd 1863px,#f5fdfd 1864px,#f2fbfb 1864px,#f2fbfb 1865px,#d9f6f6 1865px,#d9f6f6 1866px,#74dfdf 1866px,#74dfdf 1867px,#74d8d8 1867px,#74d8d8 1868px,#c0f2d9 1868px,#c0f2d9 1869px,#8df28d 1869px,#8df28d 1871px,#6dd7d7 1871px,#6dd7d7 1872px,#87e1e1 1872px,#87e1e1 1874px,#93e6e6 1874px,#93e6e6 1875px,#d7f28c 1875px,#d7f28c 1877px,#daf395 1877px,#daf395 1879px,#d8f391 1879px,#d8f391 1881px,#d6f28a 1881px,#d6f28a 1882px,#daf6dc 1882px,#daf6dc 1883px,#93e9e9 1883px,#93e9e9 1885px,#c9f4f4 1885px,#c9f4f4 1886px,#93e9e9 1886px,#93e9e9 1887px,#85f485 1887px,#85f485 1889px,#8fecec 1889px,#8fecec 1891px,#91e5e5 1891px,#91e5e5 1893px,#8dee8d 1893px,#8dee8d 1895px,#8af88a 1895px,#8af88a 1897px,#8df28d 1897px,#8df28d 1899px,#a4f1f1 1899px,#a4f1f1 1900px,#86e2e2 1900px,#86e2e2 1901px,#d9f6f6 1901px,#d9f6f6 1902px,#dff6f6 1902px,#dff6f6 1903px,#d7f5f5 1903px,#d7f5f5 1904px,#fff 1904px,#fff 1915px,#7ff37f 1915px,#7ff37f 1917px,#77e0e0 1917px,#77e0e0 1921px,#fff 1921px,#fff 1947px,#7fe2e2 1947px,#7fe2e2 1949px,#fff 1949px,#fff 2101px)"></div>
<div class="r" style="top:393px;background:linear-gradient(90deg,#fff 0px,#fff 726px,#ed6a6a 726px,#ed6a6a 740px,#fff 740px,#fff 744px,#53cfcf 744px,#53cfcf 748px,#65e1e1 748px,#65e1e1 761px,#fff 761px,#fff 763px,#afeded 763px,#afeded 764px,#fff 764px,#fff 767px,#5fdbdb 767px,#5fdbdb 771px,#aaf1f1 771px,#aaf1f1 773px,#94eeee 773px,#94eeee 776px,#b7f0f0 776px,#b7f0f0 778px,#fff 778px,#fff 780px,#aceaea 780px,#aceaea 783px,#9ff69f 783px,#9ff69f 786px,#f06e6e 786px,#f06e6e 789px,#5ff05f 789px,#5ff05f 792px,#fff 792px,#fff 794px,#6ae6e6 794px,#6ae6e6 832px,#b1f4d0 832px,#b1f4d0 833px,#5ced5c 833px,#5ced5c 853px,#8fe6e6 853px,#8fe6e6 854px,#cbf6e1 854px,#cbf6e1 855px,#9ff69f 855px,#9ff69f 856px,#fff 856px,#fff 858px,#5ff05f 858px,#5ff05f 863px,#65f665 863px,#65f665 1730px,#b2fab2 1730px,#b2fab2 1731px,#cdf7f7 1731px,#cdf7f7 1732px,#e5f7b6 1732px,#e5f7b6 1733px,#8debeb 1733px,#8debeb 1735px,#8ee4e4 1735px,#8ee4e4 1736px,#dbf595 1736px,#dbf595 1738px,#dbf499 1738px,#dbf499 1739px,#dddd5d 1739px,#dddd5d 1740px,#88dddd 1740px,#88dddd 1741px,#90e2e2 1741px,#90e2e2 1742px,#75d9d9 1742px,#75d9d9 1743px,#daf298 1743px,#daf298 1746px,#d9f198 1746px,#d9f198 1748px,#7df47d 1748px,#7df47d 1749px,#def69c 1749px,#def69c 1750px,#bdeeee 1750px,#bdeeee 1751px,#d8f5f5 1751px,#d8f5f5 1752px,#63d2d2 1752px,#63d2d2 1753px,#58d1d1 1753px,#58d1d1 1754px,#6edcdc 1754px,#6edcdc 1755px,#7beaea 1755px,#7beaea 1757px,#a9e8e8 1757px,#a9e8e8 1758px,#fff 1758px,#fff 1760px,#78dfdf 1760px,#78dfdf 1763px,#70d6d6 1763px,#70d6d6 1765px,#fff 1765px,#fff 1770px,#9ae9e9 1770px,#9ae9e9 1772px,#b3eded 1772px,#b3eded 1773px,#62dede 1773px,#62dede 1829px,#e6f6bc 1829px,#e6f6bc 1831px,#a9eaea 1831px,#a9eaea 1833px,#85e0e0 1833px,#85e0e0 1835px,#afecec 1835px,#afecec 1836px,#99e4e4 1836px,#99e4e4 1838px,#a3eded 1838px,#a3eded 1840px,#bcf5f5 1840px,#bcf5f5 1841px,#9cefef 1841px,#9cefef 1842px,#a1e8e8 1842px,#a1e8e8 1843px,#9ce2e2 1843px,#9ce2e2 1844px,#a3fba3 1844px,#a3fba3 1845px,#a3f6a3 1845px,#a3f6a3 1847px,#8de6e6 1847px,#8de6e6 1849px,#92f892 1849px,#92f892 1850px,#6efa6e 1850px,#6efa6e 1851px,#fff 1851px,#fff 1853px,#7ee2e2 1853px,#7ee2e2 1855px,#63eb63 1855px,#63eb63 1858px,#62eb62 1858px,#62eb62 1860px,#5aea5a 1860px,#5aea5a 1861px,#d0f8d4 1861px,#d0f8d4 1862px,#eafafa 1862px,#eafafa 1863px,#f3fcfc 1863px,#f3fcfc 1864px,#f7fdfd 1864px,#f7fdfd 1865px,#eaf9f9 1865px,#eaf9f9 1866px,#69d6d6 1866px,#69d6d6 1867px,#5fd4d4 1867px,#5fd4d4 1868px,#99fe99 1868px,#99fe99 1869px,#6bdfdf 1869px,#6bdfdf 1871px,#86dcdc 1871px,#86dcdc 1872px,#71dbdb 1872px,#71dbdb 1874px,#7ce0e0 1874px,#7ce0e0 1875px,#61dbdb 1875px,#61dbdb 1877px,#6edede 1877px,#6edede 1879px,#6fdfdf 1879px,#6fdfdf 1881px,#62dcdc 1881px,#62dcdc 1882px,#a9f0f0 1882px,#a9f0f0 1883px,#8ae3e3 1883px,#8ae3e3 1885px,#9bf69b 1885px,#9bf69b 1886px,#8af08a 1886px,#8af08a 1887px,#89e2e2 1887px,#89e2e2 1889px,#7ddbdb 1889px,#7ddbdb 1891px,#93fa93 1891px,#93fa93 1893px,#9de9e9 1893px,#9de9e9 1895px,#86e8e8 1895px,#86e8e8 1897px,#a6ecec 1897px,#a6ecec 1899px,#91ee91 1899px,#91ee91 1900px,#7ddddd 1900px,#7ddddd 1901px,#d5f4f4 1901px,#d5f4f4 1902px,#daf6f6 1902px,#daf6f6 1903px,#e6fafa 1903px,#e6fafa 1904px,#fff 1904px,#fff 1915px,#f38b8b 1915px,#f38b8b 1916px,#e0dcdc 1916px,#e0dcdc 1917px,#8fe6e6 1917px,#8fe6e6 1921px,#fff 1921px,#fff 1947px,#8fe6e6 1947px,#8fe6e6 1949px,#fff 1949px,#fff 2101px)"></div>
<div class="r" style="top:361px;background:linear-gradient(90deg,#fff 0px,#fff 726px,#d1d13f 726px,#d1d13f 740px,#fff 740px,#fff 744px,#d8f48c 744px,#d8f48c 748px,#ceea82 748px,#ceea82 761px,#fff 761px,#fff 763px,#afeded 763px,#afeded 764px,#fff 764px,#fff 767px,#6be7e7 767px,#6be7e7 771px,#89f489 771px,#89f489 773px,#abeaea 773px,#abeaea 776px,#b8f0f0 776px,#b8f0f0 778px,#b8eded 778px,#b8eded 780px,#fff 780px,#fff 783px,#a1f0f0 783px,#a1f0f0 786px,#fff 786px,#fff 789px,#e15a5a 789px,#e15a5a 792px,#fff 792px,#fff 794px,#5fdbdb 794px,#5fdbdb 832px,#aceaea 832px,#aceaea 833px,#53cfcf 833px,#53cfcf 853px,#8fe6e6 853px,#8fe6e6 854px,#cbf6e1 854px,#cbf6e1 855px,#9ff69f 855px,#9ff69f 856px,#fff 856px,#fff 858px,#5ff05f 858px,#5ff05f 863px,#5fdbdb 863px,#5fdbdb 1730px,#afeded 1730px,#afeded 1731px,#d7f5f5 1731px,#d7f5f5 1732px,#97efef 1732px,#97efef 1733px,#94ecec 1733px,#94ecec 1735px,#e9f9bb 1735px,#e9f9bb 1736px,#dcdc59 1736px,#dcdc59 1738px,#76fa76 1738px,#76fa76 1739px,#dcdc58 1739px,#dcdc58 1740px,#87e5e5 1740px,#87e5e5 1741px,#7fe6e6 1741px,#7fe6e6 1742px,#6cdada 1742px,#6cdada 1743px,#d8ee9b 1743px,#d8ee9b 1746px,#8eecec 1746px,#8eecec 1748px,#d7f290 1748px,#d7f290 1749px,#ecfae2 1749px,#ecfae2 1750px,#d9f9f9 1750px,#d9f9f9 1751px,#c6f4f4 1751px,#c6f4f4 1752px,#65f265 1752px,#65f265 1753px,#76dfdf 1753px,#76dfdf 1754px,#6bf66b 1754px,#6bf66b 1755px,#76dbdb 1755px,#76dbdb 1757px,#8de3e3 1757px,#8de3e3 1758px,#fff 1758px,#fff 1760px,#5eeb5e 1760px,#5eeb5e 1763px,#6ffa6f 1763px,#6ffa6f 1765px,#b8f4f4 1765px,#b8f4f4 1767px,#beeded 1767px,#beeded 1769px,#b7eaea 1769px,#b7eaea 1770px,#c5f1f1 1770px,#c5f1f1 1772px,#c7f1f1 1772px,#c7f1f1 1773px,#58d4d4 1773px,#58d4d4 1829px,#a2eded 1829px,#a2eded 1831px,#a9f6a9 1831px,#a9f6a9 1833px,#96ecec 1833px,#96ecec 1835px,#a4f1f1 1835px,#a4f1f1 1836px,#8de8e8 1836px,#8de8e8 1838px,#8be8e8 1838px,#8be8e8 1840px,#e0f2af 1840px,#e0f2af 1841px,#91e8e8 1841px,#91e8e8 1842px,#afeeee 1842px,#afeeee 1843px,#e8f6c3 1843px,#e8f6c3 1844px,#86dcdc 1844px,#86dcdc 1845px,#b4f0f0 1845px,#b4f0f0 1847px,#94efef 1847px,#94efef 1849px,#6ce1e1 1849px,#6ce1e1 1850px,#5ad3d3 1850px,#5ad3d3 1851px,#71e7e7 1851px,#71e7e7 1853px,#65ec65 1853px,#65ec65 1855px,#73f973 1855px,#73f973 1858px,#70f970 1858px,#70f970 1860px,#6af96a 1860px,#6af96a 1861px,#ebfafa 1861px,#ebfafa 1862px,#e6fbfb 1862px,#e6fbfb 1863px,#e2fafa 1863px,#e2fafa 1864px,#fff 1864px,#fff 1867px,#88ecec 1867px,#88ecec 1868px,#74e8e8 1868px,#74e8e8 1869px,#6fd5d5 1869px,#6fd5d5 1871px,#70eb70 1871px,#70eb70 1872px,#6de0e0 1872px,#6de0e0 1874px,#82dede 1874px,#82dede 1875px,#6ff16f 1875px,#6ff16f 1877px,#67f167 1877px,#67f167 1879px,#61f061 1879px,#61f061 1881px,#6bf16b 1881px,#6bf16b 1882px,#88fb88 1882px,#88fb88 1883px,#98ecec 1883px,#98ecec 1885px,#d0f6f6 1885px,#d0f6f6 1886px,#aaefef 1886px,#aaefef 1887px,#9aefef 1887px,#9aefef 1889px,#91eaea 1889px,#91eaea 1891px,#9ef0f0 1891px,#9ef0f0 1893px,#92e6e6 1893px,#92e6e6 1895px,#92e1e1 1895px,#92e1e1 1897px,#98e8e8 1897px,#98e8e8 1899px,#c9f5f5 1899px,#c9f5f5 1900px,#8feeee 1900px,#8feeee 1901px,#dcf8f8 1901px,#dcf8f8 1902px,#effcfc 1902px,#effcfc 1903px,#e2f8f8 1903px,#e2f8f8 1904px,#fff 1904px,#fff 1915px,#f38b8b 1915px,#f38b8b 1916px,#e0dcdc 1916px,#e0dcdc 1917px,#8fe6e6 1917px,#8fe6e6 1921px,#fff 1921px,#fff 1947px,#8fe6e6 1947px,#8fe6e6 1949px,#fff 1949px,#fff 2101px)"></div>
<div class="r" style="top:329px;background:linear-gradient(90deg,#fff 0px,#fff 726px,#d0d03e 726px,#d0d03e 740px,#fff 740px,#fff 744px,#5fdbdb 744px,#5fdbdb 748px,#ddf991 748px,#ddf991 761px,#fff 761px,#fff 763px,#afeded 763px,#afeded 764px,#fff 764px,#fff 767px,#5fdbdb 767px,#5fdbdb 771px,#b0eeee 771px,#b0eeee 773px,#9ae5e5 773px,#9ae5e5 776px,#abeded 776px,#abeded 778px,#8decec 778px,#8decec 780px,#e2f6ab 780px,#e2f6ab 783px,#fff 783px,#fff 789px,#fa7c7c 789px,#fa7c7c 792px,#fff 792px,#fff 794px,#5fdbdb 794px,#5fdbdb 832px,#aef2cd 832px,#aef2cd 833px,#5ced5c 833px,#5ced5c 853px,#8fe6e6 853px,#8fe6e6 854px,#cbf6e1 854px,#cbf6e1 855px,#9ff69f 855px,#9ff69f 856px,#fff 856px,#fff 858px,#5ff05f 858px,#5ff05f 863px,#6eeaea 863px,#6eeaea 1730px,#b6f4f4 1730px,#b6f4f4 1731px,#c6efef 1731px,#c6efef 1732px,#e3f3b6 1732px,#e3f3b6 1733px,#e5f4be 1733px,#e5f4be 1735px,#93eaea 1735px,#93eaea 1736px,#69f969 1736px,#69f969 1738px,#d6f091 1738px,#d6f091 1739px,#64f164 1739px,#64f164 1740px,#75dfdf 1740px,#75dfdf 1741px,#8aeeee 1741px,#8aeeee 1742px,#8be2e2 1742px,#8be2e2 1743px,#dcf695 1743px,#dcf695 1746px,#5dec5d 1746px,#5dec5d 1748px,#d5f08b 1748px,#d5f08b 1749px,#80e1e1 1749px,#80e1e1 1750px,#dff7f7 1750px,#dff7f7 1751px,#afe9e9 1751px,#afe9e9 1752px,#65f465 1752px,#65f465 1753px,#62dddd 1753px,#62dddd 1754px,#70e970 1754px,#70e970 1755px,#8beeee 1755px,#8beeee 1757px,#b8f5f5 1757px,#b8f5f5 1758px,#fff 1758px,#fff 1760px,#7edede 1760px,#7edede 1763px,#76dddd 1763px,#76dddd 1765px,#fff 1765px,#fff 1769px,#b9f2f2 1769px,#b9f2f2 1770px,#9feaea 1770px,#9feaea 1772px,#9deaea 1772px,#9deaea 1773px,#53cfcf 1773px,#53cfcf 1829px,#93ebeb 1829px,#93ebeb 1831px,#ecfbc5 1831px,#ecfbc5 1833px,#9fe6e6 1833px,#9fe6e6 1835px,#99e8e8 1835px,#99e8e8 1836px,#96ecec 1836px,#96ecec 1838px,#baf4f4 1838px,#baf4f4 1840px,#8fecec 1840px,#8fecec 1841px,#99fb99 1841px,#99fb99 1842px,#b0efef 1842px,#b0efef 1843px,#89dddd 1843px,#89dddd 1844px,#fff 1844px,#fff 1847px,#e9f7c4 1847px,#e9f7c4 1849px,#8de9e9 1849px,#8de9e9 1850px,#60d6d6 1850px,#60d6d6 1851px,#6ad5d5 1851px,#6ad5d5 1853px,#85e5e5 1853px,#85e5e5 1855px,#61f061 1855px,#61f061 1858px,#6af16a 1858px,#6af16a 1860px,#60f060 1860px,#60f060 1861px,#e5fafa 1861px,#e5fafa 1862px,#fff 1862px,#fff 1864px,#eafcfc 1864px,#eafcfc 1865px,#d8fcdd 1865px,#d8fcdd 1866px,#79f879 1866px,#79f879 1867px,#7ef27e 1867px,#7ef27e 1868px,#7ae97a 1868px,#7ae97a 1869px,#6fe2e2 1869px,#6fe2e2 1871px,#73e8e8 1871px,#73e8e8 1872px,#6ddfdf 1872px,#6ddfdf 1874px,#75e1e1 1874px,#75e1e1 1875px,#69d9d9 1875px,#69d9d9 1877px,#5dd6d6 1877px,#5dd6d6 1879px,#66d8d8 1879px,#66d8d8 1881px,#68d9d9 1881px,#68d9d9 1882px,#83dcdc 1882px,#83dcdc 1883px,#fff 1883px,#fff 1885px,#9de6e6 1885px,#9de6e6 1886px,#a4ecec 1886px,#a4ecec 1887px,#a3efef 1887px,#a3efef 1889px,#9fe7e7 1889px,#9fe7e7 1891px,#9eeeee 1891px,#9eeeee 1893px,#8ce7e7 1893px,#8ce7e7 1895px,#91e7e7 1895px,#91e7e7 1897px,#7cdcdc 1897px,#7cdcdc 1899px,#87e8e8 1899px,#87e8e8 1900px,#81dcdc 1900px,#81dcdc 1901px,#daf6f6 1901px,#daf6f6 1902px,#e3fafa 1902px,#e3fafa 1904px,#fff 1904px,#fff 1915px,#f38b8b 1915px,#f38b8b 1916px,#e0dcdc 1916px,#e0dcdc 1917px,#8fe6e6 1917px,#8fe6e6 1921px,#fff 1921px,#fff 1947px,#e2f6ad 1947px,#e2f6ad 1949px,#fff 1949px,#fff 2101px)"></div>
<div class="r" style="top:297px;background:linear-gradient(90deg,#fff 0px,#fff 731px,#d8d853 731px,#d8d853 733px,#eaeaa0 733px,#eaeaa0 735px,#d4d440 735px,#d4d440 737px,#dfdf70 737px,#dfdf70 739px,#fff 739px,#fff 744px,#d6f28a 744px,#d6f28a 748px,#d8f48c 748px,#d8f48c 761px,#fff 761px,#fff 763px,#afeded 763px,#afeded 764px,#fff 764px,#fff 767px,#53cfcf 767px,#53cfcf 771px,#fff 771px,#fff 773px,#82f382 773px,#82f382 776px,#91f591 776px,#91f591 778px,#86e6e6 778px,#86e6e6 780px,#c1f5f5 780px,#c1f5f5 783px,#8ff48f 783px,#8ff48f 786px,#fff 786px,#fff 789px,#ea6666 789px,#ea6666 791px,#fff 791px,#fff 794px,#ea6666 794px,#ea6666 795px,#d2d0d0 795px,#d2d0d0 796px,#5fdbdb 796px,#5fdbdb 817px,#5ff05f 817px,#5ff05f 821px,#64d8d8 821px,#64d8d8 824px,#8ae1e1 824px,#8ae1e1 826px,#82e5e5 826px,#82e5e5 828px,#8de7e7 828px,#8de7e7 830px,#86e0e0 830px,#86e0e0 832px,#b7ecec 832px,#b7ecec 833px,#58d4d4 833px,#58d4d4 853px,#8fe6e6 853px,#8fe6e6 854px,#cbf6e1 854px,#cbf6e1 855px,#9ff69f 855px,#9ff69f 856px,#fff 856px,#fff 858px,#6eeaea 858px,#6eeaea 1730px,#b6f4f4 1730px,#b6f4f4 1731px,#c8f6f6 1731px,#c8f6f6 1732px,#eafae9 1732px,#eafae9 1733px,#e0f3af 1733px,#e0f3af 1735px,#adf2f2 1735px,#adf2f2 1736px,#e0e046 1736px,#e0e046 1738px,#70f270 1738px,#70f270 1739px,#baf4d4 1739px,#baf4d4 1740px,#78e0e0 1740px,#78e0e0 1741px,#85dede 1741px,#85dede 1742px,#88ecec 1742px,#88ecec 1743px,#e5fca7 1743px,#e5fca7 1746px,#e7fcac 1746px,#e7fcac 1748px,#d4ef89 1748px,#d4ef89 1749px,#d4ee8e 1749px,#d4ee8e 1750px,#ecfae2 1750px,#ecfae2 1751px,#defafa 1751px,#defafa 1752px,#82f882 1752px,#82f882 1753px,#8aeded 1753px,#8aeded 1754px,#78f878 1754px,#78f878 1755px,#72ff72 1755px,#72ff72 1757px,#94ebeb 1757px,#94ebeb 1758px,#fff 1758px,#fff 1760px,#8cebeb 1760px,#8cebeb 1763px,#83fd83 1763px,#83fd83 1765px,#98e7e7 1765px,#98e7e7 1767px,#fff 1767px,#fff 1769px,#b5f3f3 1769px,#b5f3f3 1770px,#9ce8e8 1770px,#9ce8e8 1772px,#b6f4f4 1772px,#b6f4f4 1773px,#53cfcf 1773px,#53cfcf 1829px,#8be6e6 1829px,#8be6e6 1831px,#afefef 1831px,#afefef 1833px,#8fdede 1833px,#8fdede 1835px,#a1f4a1 1835px,#a1f4a1 1836px,#a9f4a9 1836px,#a9f4a9 1838px,#e2f2b8 1838px,#e2f2b8 1840px,#93e4e4 1840px,#93e4e4 1841px,#9ae5e5 1841px,#9ae5e5 1842px,#94ee94 1842px,#94ee94 1843px,#e7f6bf 1843px,#e7f6bf 1844px,#edfcc6 1844px,#edfcc6 1845px,#88e0e0 1845px,#88e0e0 1847px,#b8f1f1 1847px,#b8f1f1 1849px,#72eaea 1849px,#72eaea 1850px,#82dbdb 1850px,#82dbdb 1851px,#83e7e7 1851px,#83e7e7 1853px,#79dada 1853px,#79dada 1855px,#67e1e1 1855px,#67e1e1 1858px,#70e3e3 1858px,#70e3e3 1860px,#6be2e2 1860px,#6be2e2 1861px,#effbfb 1861px,#effbfb 1862px,#fff 1862px,#fff 1866px,#90e3e3 1866px,#90e3e3 1867px,#7eeaea 1867px,#7eeaea 1868px,#80eaea 1868px,#80eaea 1869px,#7cdada 1869px,#7cdada 1871px,#92fa92 1871px,#92fa92 1872px,#8fed8f 1872px,#8fed8f 1874px,#81f081 1874px,#81f081 1875px,#6af16a 1875px,#6af16a 1879px,#65f165 1879px,#65f165 1882px,#a2f2f2 1882px,#a2f2f2 1883px,#8aecec 1883px,#8aecec 1885px,#81dcdc 1885px,#81dcdc 1886px,#9ceaea 1886px,#9ceaea 1887px,#93e6e6 1887px,#93e6e6 1889px,#95eaea 1889px,#95eaea 1891px,#91ecec 1891px,#91ecec 1893px,#83e4e4 1893px,#83e4e4 1895px,#aaf2f2 1895px,#aaf2f2 1897px,#9befef 1897px,#9befef 1899px,#80dddd 1899px,#80dddd 1900px,#77d8d8 1900px,#77d8d8 1901px,#daf5f5 1901px,#daf5f5 1902px,#fff 1902px,#fff 1915px,#8ff48f 1915px,#8ff48f 1916px,#c7f6dd 1916px,#c7f6dd 1917px,#8fe6e6 1917px,#8fe6e6 1921px,#fff 1921px,#fff 1947px,#e2f6ad 1947px,#e2f6ad 1949px,#fff 1949px,#fff 2101px)"></div>
<div class="r" style="top:265px;background:linear-gradient(90deg,#fff 0px,#fff 731px,#d8d853 731px,#d8d853 733px,#eaeaa0 733px,#eaeaa0 735px,#d4d440 735px,#d4d440 737px,#dfdf70 737px,#dfdf70 739px,#fff 739px,#fff 744px,#dada42 744px,#dada42 748px,#6ae6e6 748px,#6ae6e6 761px,#fff 761px,#fff 763px,#afeded 763px,#afeded 764px,#fff 764px,#fff 767px,#5fdbdb 767px,#5fdbdb 771px,#b6f0f0 771px,#b6f0f0 773px,#fff 773px,#fff 776px,#c1f5f5 776px,#c1f5f5 778px,#e4f6b2 778px,#e4f6b2 780px,#b6f3f3 780px,#b6f3f3 783px,#adeeee 783px,#adeeee 786px,#fff 786px,#fff 796px,#64f464 796px,#64f464 800px,#6ae6e6 800px,#6ae6e6 817px,#62dede 817px,#62dede 821px,#84e0e0 821px,#84e0e0 824px,#9ef69e 824px,#9ef69e 826px,#97e9e9 826px,#97e9e9 828px,#7bf37b 828px,#7bf37b 830px,#78dddd 830px,#78dddd 832px,#d4f4da 832px,#d4f4da 833px,#d8f48c 833px,#d8f48c 853px,#8fe6e6 853px,#8fe6e6 854px,#cbf6e1 854px,#cbf6e1 855px,#9ff69f 855px,#9ff69f 856px,#fff 856px,#fff 858px,#53cfcf 858px,#53cfcf 1730px,#a9e7e7 1730px,#a9e7e7 1731px,#d0f4f4 1731px,#d0f4f4 1732px,#9fecec 1732px,#9fecec 1733px,#a7f0f0 1733px,#a7f0f0 1735px,#86e8e8 1735px,#86e8e8 1736px,#73f973 1736px,#73f973 1738px,#d9d94b 1738px,#d9d94b 1739px,#dbf694 1739px,#dbf694 1740px,#86e5e5 1740px,#86e5e5 1741px,#6ce1e1 1741px,#6ce1e1 1742px,#70dddd 1742px,#70dddd 1743px,#dff7a0 1743px,#dff7a0 1746px,#e3faa3 1746px,#e3faa3 1748px,#83fb83 1748px,#83fb83 1749px,#7df87d 1749px,#7df87d 1750px,#b8f1f1 1750px,#b8f1f1 1751px,#b5eaea 1751px,#b5eaea 1752px,#6bed6b 1752px,#6bed6b 1753px,#6cdddd 1753px,#6cdddd 1754px,#6bec6b 1754px,#6bec6b 1755px,#59d3d3 1755px,#59d3d3 1757px,#b2ecec 1757px,#b2ecec 1758px,#fff 1758px,#fff 1760px,#84eaea 1760px,#84eaea 1763px,#71ec71 1763px,#71ec71 1765px,#abf2f2 1765px,#abf2f2 1767px,#c0eded 1767px,#c0eded 1769px,#d8f5f5 1769px,#d8f5f5 1770px,#a1e9e9 1770px,#a1e9e9 1772px,#aaefef 1772px,#aaefef 1773px,#6eeaea 1773px,#6eeaea 1829px,#e6f9b0 1829px,#e6f9b0 1831px,#88dcdc 1831px,#88dcdc 1833px,#9ee4e4 1833px,#9ee4e4 1835px,#b1e9e9 1835px,#b1e9e9 1836px,#b5efef 1836px,#b5efef 1838px,#97e2e2 1838px,#97e2e2 1840px,#a1f5a1 1840px,#a1f5a1 1841px,#a5e8e8 1841px,#a5e8e8 1842px,#a1e5e5 1842px,#a1e5e5 1843px,#89f189 1843px,#89f189 1844px,#e9f7c1 1844px,#e9f7c1 1845px,#a1f7a1 1845px,#a1f7a1 1847px,#dff3a7 1847px,#dff3a7 1849px,#69d5d5 1849px,#69d5d5 1850px,#79dede 1850px,#79dede 1851px,#8ce8e8 1851px,#8ce8e8 1853px,#5fd1d1 1853px,#5fd1d1 1855px,#68f168 1855px,#68f168 1858px,#63f063 1858px,#63f063 1860px,#64f064 1860px,#64f064 1861px,#fff 1861px,#fff 1863px,#edfbfb 1863px,#edfbfb 1864px,#e8f8f8 1864px,#e8f8f8 1865px,#d7f8f8 1865px,#d7f8f8 1866px,#75e8e8 1866px,#75e8e8 1867px,#68e968 1867px,#68e968 1868px,#7de2e2 1868px,#7de2e2 1869px,#fff 1869px,#fff 1871px,#60e660 1871px,#60e660 1872px,#74f374 1872px,#74f374 1874px,#81fa81 1874px,#81fa81 1875px,#dcdc4b 1875px,#dcdc4b 1877px,#dddd52 1877px,#dddd52 1879px,#dcdc4e 1879px,#dcdc4e 1881px,#dddd4f 1881px,#dddd4f 1882px,#92eeee 1882px,#92eeee 1883px,#94fb94 1883px,#94fb94 1885px,#8aecec 1885px,#8aecec 1886px,#90dfdf 1886px,#90dfdf 1887px,#fff 1887px,#fff 1889px,#92ecec 1889px,#92ecec 1891px,#94ed94 1891px,#94ed94 1893px,#a7f0f0 1893px,#a7f0f0 1895px,#a2f1f1 1895px,#a2f1f1 1897px,#90eaea 1897px,#90eaea 1899px,#8de7e7 1899px,#8de7e7 1900px,#92f992 1900px,#92f992 1901px,#dbf5f5 1901px,#dbf5f5 1902px,#eafbfb 1902px,#eafbfb 1903px,#d6f3f3 1903px,#d6f3f3 1904px,#fff 1904px,#fff 1915px,#8ff48f 1915px,#8ff48f 1916px,#c7f6dd 1916px,#c7f6dd 1917px,#8fe6e6 1917px,#8fe6e6 1921px,#fff 1921px,#fff 1947px,#e2f6ad 1947px,#e2f6ad 1949px,#fff 1949px,#fff 2101px)"></div>
<div class="r" style="top:233px;background:linear-gradient(90deg,#fff 0px,#fff 731px,#d8d853 731px,#d8d853 733px,#eaeaa0 733px,#eaeaa0 735px,#d4d440 735px,#d4d440 737px,#dfdf70 737px,#dfdf70 739px,#fff 739px,#fff 744px,#d7d741 744px,#d7d741 748px,#6ae6e6 748px,#6ae6e6 761px,#fff 761px,#fff 763px,#afeded 763px,#afeded 764px,#fff 764px,#fff 767px,#56e756 767px,#56e756 771px,#eefacf 771px,#eefacf 773px,#bdf1f1 773px,#bdf1f1 776px,#b3f3f3 776px,#b3f3f3 778px,#fff 778px,#fff 780px,#a7f7a7 780px,#a7f7a7 783px,#a2f0f0 783px,#a2f0f0 786px,#fff 786px,#fff 796px,#64f464 796px,#64f464 800px,#6ae6e6 800px,#6ae6e6 817px,#5ff05f 817px,#5ff05f 821px,#75dcdc 821px,#75dcdc 824px,#a3f0f0 824px,#a3f0f0 826px,#8ae1e1 826px,#8ae1e1 828px,#88e6e6 828px,#88e6e6 830px,#73e2e2 830px,#73e2e2 832px,#d0f3d9 832px,#d0f3d9 833px,#d1ed85 833px,#d1ed85 853px,#8fe6e6 853px,#8fe6e6 854px,#cbf6e1 854px,#cbf6e1 855px,#9ff69f 855px,#9ff69f 856px,#fff 856px,#fff 858px,#5fdbdb 858px,#5fdbdb 863px,#6afa6a 863px,#6afa6a 1730px,#b4fdb4 1730px,#b4fdb4 1731px,#beeeee 1731px,#beeeee 1732px,#7bdddd 1732px,#7bdddd 1733px,#92eaea 1733px,#92eaea 1735px,#8ee4e4 1735px,#8ee4e4 1736px,#d6f08d 1736px,#d6f08d 1738px,#daf397 1738px,#daf397 1739px,#6af96a 1739px,#6af96a 1740px,#7ce7e7 1740px,#7ce7e7 1741px,#71e7e7 1741px,#71e7e7 1742px,#78e8e8 1742px,#78e8e8 1743px,#78dddd 1743px,#78dddd 1746px,#d2eb8e 1746px,#d2eb8e 1748px,#76e976 1748px,#76e976 1749px,#d1ec8a 1749px,#d1ec8a 1750px,#bcf3f3 1750px,#bcf3f3 1751px,#b6eaea 1751px,#b6eaea 1752px,#82e8e8 1752px,#82e8e8 1753px,#69e569 1753px,#69e569 1754px,#80e6e6 1754px,#80e6e6 1755px,#71dada 1755px,#71dada 1757px,#a6eded 1757px,#a6eded 1758px,#fff 1758px,#fff 1760px,#7de7e7 1760px,#7de7e7 1763px,#7cf67c 1763px,#7cf67c 1765px,#bbecec 1765px,#bbecec 1767px,#bfeded 1767px,#bfeded 1769px,#c5f1f1 1769px,#c5f1f1 1770px,#c9f6f6 1770px,#c9f6f6 1772px,#b1eded 1772px,#b1eded 1773px,#53cfcf 1773px,#53cfcf 1829px,#b3ebeb 1829px,#b3ebeb 1831px,#89e4e4 1831px,#89e4e4 1833px,#a3efef 1833px,#a3efef 1835px,#a4f2a4 1835px,#a4f2a4 1836px,#9de4e4 1836px,#9de4e4 1838px,#a3f0f0 1838px,#a3f0f0 1840px,#a0e8e8 1840px,#a0e8e8 1841px,#8de4e4 1841px,#8de4e4 1842px,#89e1e1 1842px,#89e1e1 1843px,#99f199 1843px,#99f199 1844px,#aff2f2 1844px,#aff2f2 1845px,#ecfbc3 1845px,#ecfbc3 1847px,#a5e8e8 1847px,#a5e8e8 1849px,#c2f2f2 1849px,#c2f2f2 1850px,#67e2e2 1850px,#67e2e2 1851px,#87ecec 1851px,#87ecec 1853px,#68dbdb 1853px,#68dbdb 1855px,#5bea5b 1855px,#5bea5b 1858px,#63eb63 1858px,#63eb63 1860px,#64eb64 1860px,#64eb64 1861px,#f6fefe 1861px,#f6fefe 1862px,#e8f8f8 1862px,#e8f8f8 1863px,#f5fdfd 1863px,#f5fdfd 1864px,#fff 1864px,#fff 1866px,#7fe9e9 1866px,#7fe9e9 1867px,#6beb6b 1867px,#6beb6b 1868px,#b8f6b8 1868px,#b8f6b8 1869px,#77ed77 1869px,#77ed77 1871px,#70ec70 1871px,#70ec70 1872px,#64d5d5 1872px,#64d5d5 1874px,#7fe8e8 1874px,#7fe8e8 1875px,#e0e055 1875px,#e0e055 1877px,#dfdf4f 1877px,#dfdf4f 1879px,#dede4a 1879px,#dede4a 1881px,#e0e053 1881px,#e0e053 1882px,#9eecec 1882px,#9eecec 1883px,#9ffb9f 1883px,#9ffb9f 1885px,#caf8e1 1885px,#caf8e1 1886px,#8ae7e7 1886px,#8ae7e7 1887px,#a3e7e7 1887px,#a3e7e7 1889px,#9fe4e4 1889px,#9fe4e4 1891px,#90f090 1891px,#90f090 1893px,#8efa8e 1893px,#8efa8e 1895px,#84dbdb 1895px,#84dbdb 1897px,#8ee6e6 1897px,#8ee6e6 1899px,#90e3e3 1899px,#90e3e3 1900px,#86e0e0 1900px,#86e0e0 1901px,#daf6f6 1901px,#daf6f6 1902px,#e2f8f8 1902px,#e2f8f8 1903px,#e9fafa 1903px,#e9fafa 1904px,#fff 1904px,#fff 1915px,#8ff48f 1915px,#8ff48f 1916px,#c7f6dd 1916px,#c7f6dd 1917px,#8fe6e6 1917px,#8fe6e6 1921px,#fff 1921px,#fff 1947px,#e2f6ad 1947px,#e2f6ad 1949px,#fff 1949px,#fff 2101px)"></div>
<div class="r" style="top:201px;background:linear-gradient(90deg,#fff 0px,#fff 731px,#f49a9a 731px,#f49a9a 732px,#fff 732px,#fff 737px,#d8d853 737px,#d8d853 739px,#fff 739px,#fff 743px,#e7e78c 743px,#e7e78c 744px,#bff4f4 744px,#bff4f4 746px,#cdf6f6 746px,#cdf6f6 748px,#ebf9c5 748px,#ebf9c5 750px,#d0f3e6 750px,#d0f3e6 751px,#59d5d5 751px,#59d5d5 761px,#fff 761px,#fff 764px,#b2f0f0 764px,#b2f0f0 766px,#c2f1f1 766px,#c2f1f1 767px,#59d5d5 767px,#59d5d5 771px,#fff 771px,#fff 775px,#bbf2f2 775px,#bbf2f2 777px,#fce4e4 777px,#fce4e4 778px,#fff 778px,#fff 781px,#bef2f2 781px,#bef2f2 783px,#b2f2f2 783px,#b2f2f2 784px,#f3fbdc 784px,#f3fbdc 785px,#fff 785px,#fff 796px,#53cfcf 796px,#53cfcf 815px,#fff 815px,#fff 817px,#ed6a6a 817px,#ed6a6a 820px,#fff 820px,#fff 823px,#adefef 823px,#adefef 824px,#a1f8a1 824px,#a1f8a1 826px,#f7b9b9 826px,#f7b9b9 829px,#f8bbbb 829px,#f8bbbb 832px,#c7f4f4 832px,#c7f4f4 833px,#ed6a6a 833px,#ed6a6a 838px,#56e756 838px,#56e756 843px,#d0ec84 843px,#d0ec84 852px,#ddf2a4 852px,#ddf2a4 860px,#5fdbdb 860px,#5fdbdb 863px,#50e150 863px,#50e150 892px,#5ced5c 892px,#5ced5c 1730px,#aef6ae 1730px,#aef6ae 1731px,#cef2f2 1731px,#cef2f2 1732px,#fff 1732px,#fff 1736px,#def1a8 1736px,#def1a8 1738px,#85f485 1738px,#85f485 1739px,#e3f6af 1739px,#e3f6af 1740px,#d0f7f7 1740px,#d0f7f7 1741px,#b5f1f1 1741px,#b5f1f1 1742px,#b0ecec 1742px,#b0ecec 1743px,#f9b8b8 1743px,#f9b8b8 1746px,#fff 1746px,#fff 1748px,#e9e97b 1748px,#e9e97b 1749px,#fff 1749px,#fff 1752px,#83dfdf 1752px,#83dfdf 1753px,#a3ebeb 1753px,#a3ebeb 1754px,#9cfe9c 1754px,#9cfe9c 1755px,#9afb9a 1755px,#9afb9a 1757px,#fff 1757px,#fff 1760px,#f9c5c5 1760px,#f9c5c5 1761px,#ebfcfc 1761px,#ebfcfc 1762px,#f6fefe 1762px,#f6fefe 1763px,#effcfc 1763px,#effcfc 1764px,#fff 1764px,#fff 1767px,#e4f9f9 1767px,#e4f9f9 1769px,#f3fcfc 1769px,#f3fcfc 1770px,#eafbfb 1770px,#eafbfb 1772px,#effae0 1772px,#effae0 1773px,#d3ef87 1773px,#d3ef87 1829px,#c3f0f0 1829px,#c3f0f0 1831px,#def9f9 1831px,#def9f9 1833px,#fff 1833px,#fff 1835px,#dbfcdb 1835px,#dbfcdb 1836px,#ddf5f5 1836px,#ddf5f5 1838px,#bef2f2 1838px,#bef2f2 1840px,#c1fdc1 1840px,#c1fdc1 1841px,#e5fde5 1841px,#e5fde5 1842px,#d8f4f4 1842px,#d8f4f4 1843px,#f0f9d6 1843px,#f0f9d6 1844px,#f5fbe4 1844px,#f5fbe4 1845px,#cdf6f6 1845px,#cdf6f6 1847px,#f0fbd0 1847px,#f0fbd0 1849px,#adf5ad 1849px,#adf5ad 1850px,#9ef39e 1850px,#9ef39e 1851px,#b6ebeb 1851px,#b6ebeb 1853px,#9ee8e8 1853px,#9ee8e8 1855px,#6ae2e2 1855px,#6ae2e2 1860px,#67e1e1 1860px,#67e1e1 1861px,#eafcfc 1861px,#eafcfc 1862px,#fff 1862px,#fff 1864px,#edfcfc 1864px,#edfcfc 1865px,#f2fef6 1865px,#f2fef6 1866px,#ddffdd 1866px,#ddffdd 1867px,#fff 1867px,#fff 1871px,#c3f5c3 1871px,#c3f5c3 1872px,#c7f6f6 1872px,#c7f6f6 1874px,#ecdada 1874px,#ecdada 1875px,#ec7272 1875px,#ec7272 1877px,#eb6c6c 1877px,#eb6c6c 1879px,#ec7575 1879px,#ec7575 1881px,#ec7171 1881px,#ec7171 1882px,#cefece 1882px,#cefece 1883px,#d7f8f8 1883px,#d7f8f8 1885px,#abe8e8 1885px,#abe8e8 1886px,#ccf7f7 1886px,#ccf7f7 1887px,#bdffbd 1887px,#bdffbd 1889px,#bafbba 1889px,#bafbba 1891px,#b2f8b2 1891px,#b2f8b2 1893px,#fff 1893px,#fff 1895px,#c7f1f1 1895px,#c7f1f1 1897px,#fff 1897px,#fff 1899px,#befdbe 1899px,#befdbe 1900px,#b2efef 1900px,#b2efef 1901px,#d6f5f5 1901px,#d6f5f5 1902px,#dbf5f5 1902px,#dbf5f5 1903px,#def5f5 1903px,#def5f5 1904px,#fff 1904px,#fff 1919px,#e6f7b9 1919px,#e6f7b9 1920px,#fff 1920px,#fff 1947px,#eaf8c4 1947px,#eaf8c4 1948px,#fff 1948px,#fff 2101px)"></div>
<div class="r" style="top:169px;background:linear-gradient(90deg,#fff 0px,#fff 731px,#fce2e2 731px,#fce2e2 732px,#fff 732px,#fff 737px,#eaeaa0 737px,#eaeaa0 739px,#fff 739px,#fff 743px,#a5ecec 743px,#a5ecec 744px,#ececa3 744px,#ececa3 746px,#c6f3f3 746px,#c6f3f3 748px,#fff 748px,#fff 750px,#ebf9c7 750px,#ebf9c7 751px,#defa92 751px,#defa92 761px,#fff 761px,#fff 764px,#b2f0f0 764px,#b2f0f0 766px,#c1efef 766px,#c1efef 767px,#53cfcf 767px,#53cfcf 771px,#fff 771px,#fff 773px,#f9c5c5 773px,#f9c5c5 775px,#b7f1f1 775px,#b7f1f1 777px,#e9f8c1 777px,#e9f8c1 778px,#fff 778px,#fff 781px,#e8f8bd 781px,#e8f8bd 783px,#fce3e3 783px,#fce3e3 784px,#b0f0f0 784px,#b0f0f0 785px,#fff 785px,#fff 796px,#6eeaea 796px,#6eeaea 808px,#59d5d5 808px,#59d5d5 815px,#fff 815px,#fff 817px,#ed6a6a 817px,#ed6a6a 820px,#a3eaea 820px,#a3eaea 822px,#afefef 822px,#afefef 823px,#bcf2f2 823px,#bcf2f2 824px,#a6ebeb 824px,#a6ebeb 826px,#afeded 826px,#afeded 829px,#bdf0f0 829px,#bdf0f0 832px,#a4eaea 832px,#a4eaea 833px,#e3e345 833px,#e3e345 838px,#65f665 838px,#65f665 852px,#89f689 852px,#89f689 860px,#5fdbdb 860px,#5fdbdb 863px,#64f464 863px,#64f464 892px,#6afa6a 892px,#6afa6a 1730px,#b4fdb4 1730px,#b4fdb4 1731px,#d6f7f7 1731px,#d6f7f7 1732px,#b2ebeb 1732px,#b2ebeb 1733px,#c4efef 1733px,#c4efef 1735px,#b3ecec 1735px,#b3ecec 1736px,#e9e97c 1736px,#e9e97c 1738px,#e4f6b4 1738px,#e4f6b4 1739px,#95fb95 1739px,#95fb95 1740px,#c6f5f5 1740px,#c6f5f5 1741px,#c0f1f1 1741px,#c0f1f1 1742px,#aae8e8 1742px,#aae8e8 1743px,#fff 1743px,#fff 1752px,#94ecec 1752px,#94ecec 1753px,#a6f9a6 1753px,#a6f9a6 1754px,#a2f7a2 1754px,#a2f7a2 1755px,#96eeee 1755px,#96eeee 1757px,#fff 1757px,#fff 1760px,#e1f9f9 1760px,#e1f9f9 1761px,#ecfbfb 1761px,#ecfbfb 1762px,#d1f6f6 1762px,#d1f6f6 1763px,#f2f0f0 1763px,#f2f0f0 1764px,#facece 1764px,#facece 1765px,#b2eded 1765px,#b2eded 1767px,#a4e9e9 1767px,#a4e9e9 1769px,#d8f5f5 1769px,#d8f5f5 1770px,#beecec 1770px,#beecec 1772px,#e7f9df 1772px,#e7f9df 1773px,#dffb93 1773px,#dffb93 1829px,#d6f7f7 1829px,#d6f7f7 1831px,#f5fce1 1831px,#f5fce1 1833px,#fff 1833px,#fff 1835px,#d3ffd3 1835px,#d3ffd3 1836px,#beecec 1836px,#beecec 1838px,#e0f8f8 1838px,#e0f8f8 1840px,#e3f8f8 1840px,#e3f8f8 1841px,#c8f2f2 1841px,#c8f2f2 1842px,#c5eeee 1842px,#c5eeee 1843px,#def9f9 1843px,#def9f9 1844px,#d1f2f2 1844px,#d1f2f2 1845px,#d3f6f6 1845px,#d3f6f6 1847px,#d0f9d0 1847px,#d0f9d0 1849px,#a3f5a3 1849px,#a3f5a3 1850px,#a5fca5 1850px,#a5fca5 1851px,#baf5ba 1851px,#baf5ba 1853px,#bdf0f0 1853px,#bdf0f0 1855px,#64eb64 1855px,#64eb64 1860px,#65eb65 1860px,#65eb65 1861px,#d4f9d8 1861px,#d4f9d8 1862px,#eefbfb 1862px,#eefbfb 1863px,#f5fdfd 1863px,#f5fdfd 1864px,#fafefe 1864px,#fafefe 1865px,#f5fdfd 1865px,#f5fdfd 1866px,#c3f3f3 1866px,#c3f3f3 1867px,#b4eaea 1867px,#b4eaea 1868px,#bbfabb 1868px,#bbfabb 1869px,#daf8f8 1869px,#daf8f8 1871px,#c8f0f0 1871px,#c8f0f0 1872px,#dcfafa 1872px,#dcfafa 1874px,#fff 1874px,#fff 1882px,#d3f7f7 1882px,#d3f7f7 1883px,#d0f7f7 1883px,#d0f7f7 1885px,#ccf6f6 1885px,#ccf6f6 1886px,#c7f2f2 1886px,#c7f2f2 1887px,#ccf7f7 1887px,#ccf7f7 1889px,#b3eaea 1889px,#b3eaea 1891px,#bcf2f2 1891px,#bcf2f2 1893px,#d4f9f9 1893px,#d4f9f9 1895px,#fff 1895px,#fff 1899px,#b8f3b8 1899px,#b8f3b8 1900px,#e5faec 1900px,#e5faec 1901px,#dff9f9 1901px,#dff9f9 1902px,#e0fafa 1902px,#e0fafa 1903px,#d5f4f4 1903px,#d5f4f4 1904px,#fff 1904px,#fff 1919px,#9fe9e9 1919px,#9fe9e9 1920px,#fff 1920px,#fff 1947px,#eaf8c4 1947px,#eaf8c4 1948px,#fff 1948px,#fff 2101px)"></div>
<div class="r" style="top:137px;background:linear-gradient(90deg,#fff 0px,#fff 745px,#f6a8a8 745px,#f6a8a8 746px,#f4e0be 746px,#f4e0be 747px,#dbdb54 747px,#dbdb54 750px,#cdecca 750px,#cdecca 751px,#5ad6d6 751px,#5ad6d6 761px,#fff 761px,#fff 764px,#b2f0f0 764px,#b2f0f0 766px,#c2f1f1 766px,#c2f1f1 767px,#59d5d5 767px,#59d5d5 771px,#fff 771px,#fff 777px,#cbfccb 777px,#cbfccb 778px,#dcf8f8 778px,#dcf8f8 781px,#afefef 781px,#afefef 783px,#c0f3f3 783px,#c0f3f3 784px,#fbd7d7 784px,#fbd7d7 785px,#fff 785px,#fff 796px,#5fdbdb 796px,#5fdbdb 800px,#aceaea 800px,#aceaea 801px,#53cfcf 801px,#53cfcf 815px,#fff 815px,#fff 820px,#a6f1f1 820px,#a6f1f1 822px,#e3faeb 822px,#e3faeb 823px,#e8f8bd 823px,#e8f8bd 824px,#abf1f1 824px,#abf1f1 826px,#acecec 826px,#acecec 829px,#f8c0c0 829px,#f8c0c0 832px,#b2eeee 832px,#b2eeee 833px,#cccc3e 833px,#cccc3e 838px,#5fdbdb 838px,#5fdbdb 843px,#d0ec84 843px,#d0ec84 852px,#dff4a6 852px,#dff4a6 860px,#5fdbdb 860px,#5fdbdb 863px,#64f464 863px,#64f464 1730px,#b1fab1 1730px,#b1fab1 1731px,#d6f6f6 1731px,#d6f6f6 1732px,#e9fbfb 1732px,#e9fbfb 1733px,#d1f7f7 1733px,#d1f7f7 1735px,#b4ecec 1735px,#b4ecec 1736px,#ddf1a5 1736px,#ddf1a5 1738px,#f0f6c5 1738px,#f0f6c5 1739px,#e7e770 1739px,#e7e770 1740px,#b2f0f0 1740px,#b2f0f0 1741px,#b7f2f2 1741px,#b7f2f2 1742px,#fff 1742px,#fff 1746px,#eeee99 1746px,#eeee99 1748px,#8efb8e 1748px,#8efb8e 1749px,#eaea95 1749px,#eaea95 1750px,#fff 1750px,#fff 1752px,#8cfe8c 1752px,#8cfe8c 1753px,#c6f9dc 1753px,#c6f9dc 1754px,#8de8e8 1754px,#8de8e8 1755px,#83eb83 1755px,#83eb83 1757px,#fff 1757px,#fff 1760px,#d6f8f8 1760px,#d6f8f8 1761px,#ccf5f5 1761px,#ccf5f5 1762px,#f1f2f2 1762px,#f1f2f2 1763px,#fbd6d6 1763px,#fbd6d6 1764px,#f0f2f2 1764px,#f0f2f2 1765px,#c7f5f5 1765px,#c7f5f5 1767px,#fff 1767px,#fff 1769px,#adeaea 1769px,#adeaea 1770px,#b4efef 1770px,#b4efef 1772px,#e4fae0 1772px,#e4fae0 1773px,#dffb93 1773px,#dffb93 1829px,#cbf5f5 1829px,#cbf5f5 1831px,#c8f7f7 1831px,#c8f7f7 1833px,#cffbcf 1833px,#cffbcf 1835px,#c8f7c8 1835px,#c8f7c8 1836px,#fff 1836px,#fff 1838px,#bef9be 1838px,#bef9be 1840px,#cdf4f4 1840px,#cdf4f4 1841px,#c1f3f3 1841px,#c1f3f3 1842px,#c3f6c3 1842px,#c3f6c3 1843px,#e2faed 1843px,#e2faed 1844px,#c6f3f3 1844px,#c6f3f3 1845px,#b6eaea 1845px,#b6eaea 1847px,#f1fed0 1847px,#f1fed0 1849px,#93e0e0 1849px,#93e0e0 1850px,#b6f9b6 1850px,#b6f9b6 1851px,#aff3af 1851px,#aff3af 1853px,#fff 1853px,#fff 1855px,#64dada 1855px,#64dada 1858px,#65dada 1858px,#65dada 1860px,#5dd8d8 1860px,#5dd8d8 1861px,#d4f4f4 1861px,#d4f4f4 1862px,#f4fcfc 1862px,#f4fcfc 1863px,#dff7f7 1863px,#dff7f7 1864px,#ecfafa 1864px,#ecfafa 1865px,#fff 1865px,#fff 1867px,#d9f5f5 1867px,#d9f5f5 1868px,#aef5ae 1868px,#aef5ae 1869px,#f9c1c1 1869px,#f9c1c1 1871px,#b0f8b0 1871px,#b0f8b0 1872px,#d0f8f8 1872px,#d0f8f8 1874px,#fce0e0 1874px,#fce0e0 1875px,#fff 1875px,#fff 1882px,#c6f0f0 1882px,#c6f0f0 1883px,#c4efef 1883px,#c4efef 1885px,#e5f8f8 1885px,#e5f8f8 1886px,#d3f2f2 1886px,#d3f2f2 1887px,#fff 1887px,#fff 1891px,#b7feb7 1891px,#b7feb7 1893px,#bcfcbc 1893px,#bcfcbc 1895px,#caf6f6 1895px,#caf6f6 1897px,#c0f6c0 1897px,#c0f6c0 1899px,#baefef 1899px,#baefef 1900px,#b5f0f0 1900px,#b5f0f0 1901px,#dff8f8 1901px,#dff8f8 1902px,#dcf8f8 1902px,#dcf8f8 1903px,#e7f9f9 1903px,#e7f9f9 1904px,#fff 1904px,#fff 1919px,#e6f7b9 1919px,#e6f7b9 1920px,#fff 1920px,#fff 1947px,#afeded 1947px,#afeded 1948px,#fff 1948px,#fff 2101px)"></div>
<div class="r" style="top:105px;background:linear-gradient(90deg,#fff 0px,#fff 745px,#f6a8a8 745px,#f6a8a8 746px,#f4e0be 746px,#f4e0be 747px,#dbdb54 747px,#dbdb54 750px,#cae9c8 750px,#cae9c8 751px,#50cccc 751px,#50cccc 761px,#fff 761px,#fff 764px,#b2f0f0 764px,#b2f0f0 766px,#c2f1f1 766px,#c2f1f1 767px,#59d5d5 767px,#59d5d5 771px,#fff 771px,#fff 773px,#d0f7f7 773px,#d0f7f7 775px,#f6fce6 775px,#f6fce6 777px,#fff 777px,#fff 783px,#def9f9 783px,#def9f9 784px,#b1f2f2 784px,#b1f2f2 785px,#fff 785px,#fff 796px,#5fdbdb 796px,#5fdbdb 800px,#adf0cc 800px,#adf0cc 801px,#56e756 801px,#56e756 807px,#5fdbdb 807px,#5fdbdb 815px,#fff 815px,#fff 820px,#b0f0f0 820px,#b0f0f0 822px,#f7b7b7 822px,#f7b7b7 823px,#c5f4f4 823px,#c5f4f4 824px,#c0f1f1 824px,#c0f1f1 826px,#b4f3f3 826px,#b4f3f3 829px,#b3f3f3 829px,#b3f3f3 832px,#a4eaea 832px,#a4eaea 833px,#dada42 833px,#dada42 838px,#6eeaea 838px,#6eeaea 843px,#5fdbdb 843px,#5fdbdb 852px,#87e4e4 852px,#87e4e4 860px,#5fdbdb 860px,#5fdbdb 863px,#50e150 863px,#50e150 892px,#5fdbdb 892px,#5fdbdb 1730px,#afeded 1730px,#afeded 1731px,#cef7f7 1731px,#cef7f7 1732px,#b9f0f0 1732px,#b9f0f0 1733px,#f2fbd9 1733px,#f2fbd9 1735px,#baf0f0 1735px,#baf0f0 1736px,#98fb98 1736px,#98fb98 1738px,#e4f6b3 1738px,#e4f6b3 1739px,#e8e873 1739px,#e8e873 1740px,#ace7e7 1740px,#ace7e7 1741px,#d2f3f3 1741px,#d2f3f3 1742px,#b7efef 1742px,#b7efef 1743px,#eeeea7 1743px,#eeeea7 1746px,#9bf69b 1746px,#9bf69b 1748px,#e1f8cc 1748px,#e1f8cc 1749px,#ebeb99 1749px,#ebeb99 1750px,#fff 1750px,#fff 1752px,#96ee96 1752px,#96ee96 1753px,#99e9e9 1753px,#99e9e9 1754px,#8eef8e 1754px,#8eef8e 1755px,#92e9e9 1755px,#92e9e9 1757px,#fff 1757px,#fff 1761px,#f9fded 1761px,#f9fded 1762px,#fdfaf6 1762px,#fdfaf6 1763px,#fdecec 1763px,#fdecec 1764px,#edfbfb 1764px,#edfbfb 1765px,#d7f5f5 1765px,#d7f5f5 1767px,#fff 1767px,#fff 1770px,#ecfbfb 1770px,#ecfbfb 1772px,#e9f9f9 1772px,#e9f9f9 1773px,#fff 1773px,#fff 1775px,#64f464 1775px,#64f464 1793px,#cefabb 1793px,#cefabb 1794px,#d8f48c 1794px,#d8f48c 1820px,#50e150 1820px,#50e150 1828px,#c2f5c2 1828px,#c2f5c2 1829px,#b8f4b8 1829px,#b8f4b8 1831px,#d5f7f7 1831px,#d5f7f7 1833px,#e2fafa 1833px,#e2fafa 1835px,#bbeded 1835px,#bbeded 1836px,#c9f6c9 1836px,#c9f6c9 1838px,#ccfecc 1838px,#ccfecc 1840px,#c9f5f5 1840px,#c9f5f5 1841px,#e5fafa 1841px,#e5fafa 1842px,#f1fcd2 1842px,#f1fcd2 1843px,#c1f0f0 1843px,#c1f0f0 1844px,#c5f6f6 1844px,#c5f6f6 1845px,#d0f7f7 1845px,#d0f7f7 1847px,#ccf6f6 1847px,#ccf6f6 1849px,#c1fec1 1849px,#c1fec1 1850px,#a8f1f1 1850px,#a8f1f1 1851px,#99f799 1851px,#99f799 1853px,#a4e5e5 1853px,#a4e5e5 1855px,#60f060 1855px,#60f060 1858px,#64f064 1858px,#64f064 1860px,#65f165 1860px,#65f165 1861px,#d5fbd8 1861px,#d5fbd8 1862px,#f1fcfc 1862px,#f1fcfc 1863px,#fff 1863px,#fff 1868px,#c6f2f2 1868px,#c6f2f2 1869px,#fff 1869px,#fff 1871px,#b3e9e9 1871px,#b3e9e9 1872px,#cbf2f2 1872px,#cbf2f2 1874px,#fff 1874px,#fff 1882px,#c9fdc9 1882px,#c9fdc9 1883px,#fff 1883px,#fff 1885px,#c3f3f3 1885px,#c3f3f3 1886px,#bdf5f5 1886px,#bdf5f5 1887px,#c6f4f4 1887px,#c6f4f4 1889px,#c0f6c0 1889px,#c0f6c0 1891px,#b6f1f1 1891px,#b6f1f1 1893px,#baebeb 1893px,#baebeb 1895px,#cdf7f7 1895px,#cdf7f7 1897px,#b7eded 1897px,#b7eded 1899px,#fff 1899px,#fff 1901px,#defafa 1901px,#defafa 1902px,#f2fcfc 1902px,#f2fcfc 1903px,#ebf9f9 1903px,#ebf9f9 1904px,#fff 1904px,#fff 1919px,#9fe9e9 1919px,#9fe9e9 1920px,#fff 1920px,#fff 1947px,#eaf8c4 1947px,#eaf8c4 1948px,#fff 1948px,#fff 2101px)"></div>
<div class="r" style="top:73px;background:linear-gradient(90deg,#fff 0px,#fff 748px,#ed6a6a 748px,#ed6a6a 750px,#efd5bb 750px,#efd5bb 751px,#d0ec84 751px,#d0ec84 761px,#fff 761px,#fff 764px,#b2f0f0 764px,#b2f0f0 766px,#c2f1f1 766px,#c2f1f1 767px,#59d5d5 767px,#59d5d5 771px,#fff 771px,#fff 773px,#cdf5f5 773px,#cdf5f5 775px,#fff 775px,#fff 777px,#f9c7c7 777px,#f9c7c7 778px,#eefacf 778px,#eefacf 781px,#ecf9c8 781px,#ecf9c8 783px,#dffafa 783px,#dffafa 784px,#fff 784px,#fff 796px,#5cd8d8 796px,#5cd8d8 803px,#53cfcf 803px,#53cfcf 807px,#6be7e7 807px,#6be7e7 815px,#fff 815px,#fff 820px,#9de9e9 820px,#9de9e9 822px,#e4f6b2 822px,#e4f6b2 823px,#fbdada 823px,#fbdada 824px,#b7efef 824px,#b7efef 826px,#b1f9b1 826px,#b1f9b1 829px,#bcf4f4 829px,#bcf4f4 832px,#a5f8a5 832px,#a5f8a5 833px,#e3e345 833px,#e3e345 838px,#d6f28a 838px,#d6f28a 843px,#5fdbdb 843px,#5fdbdb 852px,#87e4e4 852px,#87e4e4 860px,#5fdbdb 860px,#5fdbdb 863px,#5cd8d8 863px,#5cd8d8 892px,#6bfc6b 892px,#6bfc6b 1730px,#b5feb5 1730px,#b5feb5 1731px,#d3f7f7 1731px,#d3f7f7 1732px,#e6f4be 1732px,#e6f4be 1733px,#f0fdd0 1733px,#f0fdd0 1735px,#c1f4f4 1735px,#c1f4f4 1736px,#e3f6b0 1736px,#e3f6b0 1738px,#9ffb9f 1738px,#9ffb9f 1739px,#e1f6a7 1739px,#e1f6a7 1740px,#fff 1740px,#fff 1742px,#abe9e9 1742px,#abe9e9 1743px,#f0f0a2 1743px,#f0f0a2 1746px,#fff 1746px,#fff 1749px,#e5e578 1749px,#e5e578 1750px,#fff 1750px,#fff 1752px,#99e6e6 1752px,#99e6e6 1753px,#93ef93 1753px,#93ef93 1754px,#7ef17e 1754px,#7ef17e 1755px,#9cf09c 1755px,#9cf09c 1757px,#fff 1757px,#fff 1763px,#dbf9f9 1763px,#dbf9f9 1764px,#fff 1764px,#fff 1770px,#f4fdfd 1770px,#f4fdfd 1772px,#e5f9f9 1772px,#e5f9f9 1773px,#fff 1773px,#fff 1775px,#53cfcf 1775px,#53cfcf 1793px,#aaeeca 1793px,#aaeeca 1794px,#59ea59 1794px,#59ea59 1798px,#aef1cc 1798px,#aef1cc 1799px,#5fdbdb 1799px,#5fdbdb 1803px,#59ea59 1803px,#59ea59 1820px,#65e1e1 1820px,#65e1e1 1828px,#cdf5f5 1828px,#cdf5f5 1829px,#d1f4f4 1829px,#d1f4f4 1831px,#d6f5f5 1831px,#d6f5f5 1833px,#befebe 1833px,#befebe 1835px,#d6f9f9 1835px,#d6f9f9 1836px,#d2f8f8 1836px,#d2f8f8 1838px,#cbf9cb 1838px,#cbf9cb 1840px,#c0eded 1840px,#c0eded 1841px,#ccf1f1 1841px,#ccf1f1 1842px,#cdf7f7 1842px,#cdf7f7 1843px,#f1fada 1843px,#f1fada 1844px,#bdeded 1844px,#bdeded 1845px,#d9f9f9 1845px,#d9f9f9 1847px,#e0f7f7 1847px,#e0f7f7 1849px,#9ef79e 1849px,#9ef79e 1850px,#95f395 1850px,#95f395 1851px,#96ef96 1851px,#96ef96 1853px,#92e4e4 1853px,#92e4e4 1855px,#63dada 1855px,#63dada 1858px,#68dbdb 1858px,#68dbdb 1860px,#60d9d9 1860px,#60d9d9 1861px,#fff 1861px,#fff 1865px,#f3fdfd 1865px,#f3fdfd 1866px,#cafaca 1866px,#cafaca 1867px,#cbfecb 1867px,#cbfecb 1868px,#afe8e8 1868px,#afe8e8 1869px,#fbdcdc 1869px,#fbdcdc 1871px,#d6f4f4 1871px,#d6f4f4 1872px,#fff 1872px,#fff 1874px,#caf3f3 1874px,#caf3f3 1875px,#fff 1875px,#fff 1882px,#c8fbc8 1882px,#c8fbc8 1883px,#b8eeee 1883px,#b8eeee 1885px,#c1efef 1885px,#c1efef 1886px,#cdf6f6 1886px,#cdf6f6 1887px,#d9f9f9 1887px,#d9f9f9 1889px,#b7f0f0 1889px,#b7f0f0 1891px,#cff2f2 1891px,#cff2f2 1893px,#cef6f6 1893px,#cef6f6 1895px,#d3f6f6 1895px,#d3f6f6 1897px,#bef3f3 1897px,#bef3f3 1899px,#cef6f6 1899px,#cef6f6 1900px,#cdf4f4 1900px,#cdf4f4 1901px,#e1f8f8 1901px,#e1f8f8 1902px,#e9fbfb 1902px,#e9fbfb 1903px,#ebfcfc 1903px,#ebfcfc 1904px,#fff 1904px,#fff 1919px,#e6f7b9 1919px,#e6f7b9 1920px,#fff 1920px,#fff 1947px,#eaf8c4 1947px,#eaf8c4 1948px,#fff 1948px,#fff 2101px)"></div>
<div class="r" style="top:41px;background:linear-gradient(90deg,#fff 0px,#fff 743px,#e9e995 743px,#e9e995 744px,#c6f3f3 744px,#c6f3f3 746px,#97e9e9 746px,#97e9e9 748px,#efefb3 748px,#efefb3 750px,#e8f8bd 750px,#e8f8bd 751px,#d2ee86 751px,#d2ee86 761px,#fff 761px,#fff 764px,#b2f0f0 764px,#b2f0f0 766px,#c2f1f1 766px,#c2f1f1 767px,#59d5d5 767px,#59d5d5 771px,#fff 771px,#fff 773px,#f4fbdf 773px,#f4fbdf 775px,#fff 775px,#fff 777px,#aefaae 777px,#aefaae 778px,#fff 778px,#fff 781px,#b4f3f3 781px,#b4f3f3 783px,#a4faa4 783px,#a4faa4 784px,#facdcd 784px,#facdcd 785px,#fff 785px,#fff 796px,#5cd8d8 796px,#5cd8d8 803px,#56e756 803px,#56e756 815px,#fff 815px,#fff 822px,#ecf9c8 822px,#ecf9c8 823px,#f7b5b5 823px,#f7b5b5 824px,#97f797 824px,#97f797 826px,#87e4e4 826px,#87e4e4 829px,#f9c5c5 829px,#f9c5c5 832px,#b0eded 832px,#b0eded 833px,#dddd43 833px,#dddd43 838px,#d6f28a 838px,#d6f28a 843px,#6eeaea 843px,#6eeaea 852px,#8ce8e8 852px,#8ce8e8 860px,#5fdbdb 860px,#5fdbdb 863px,#62f362 863px,#62f362 892px,#53cfcf 892px,#53cfcf 1730px,#a9e7e7 1730px,#a9e7e7 1731px,#d3f8f8 1731px,#d3f8f8 1732px,#dff8f8 1732px,#dff8f8 1733px,#aae9e9 1733px,#aae9e9 1735px,#ccf8dc 1735px,#ccf8dc 1736px,#88fa88 1736px,#88fa88 1738px,#dfdf69 1738px,#dfdf69 1739px,#ddf1a5 1739px,#ddf1a5 1740px,#e9f8e5 1740px,#e9f8e5 1741px,#c8f0f0 1741px,#c8f0f0 1742px,#d4fade 1742px,#d4fade 1743px,#8bfa8b 1743px,#8bfa8b 1746px,#fff 1746px,#fff 1748px,#f7a3a3 1748px,#f7a3a3 1749px,#fff 1749px,#fff 1752px,#a8eeee 1752px,#a8eeee 1753px,#8deeee 1753px,#8deeee 1754px,#8be1e1 1754px,#8be1e1 1755px,#93e6e6 1755px,#93e6e6 1757px,#fff 1757px,#fff 1760px,#c4f3f3 1760px,#c4f3f3 1761px,#e5fafa 1761px,#e5fafa 1762px,#fff 1762px,#fff 1764px,#f0fad4 1764px,#f0fad4 1765px,#d9f7f7 1765px,#d9f7f7 1767px,#fff 1767px,#fff 1770px,#effbfb 1770px,#effbfb 1772px,#e3f9f9 1772px,#e3f9f9 1773px,#fff 1773px,#fff 1775px,#54d0d0 1775px,#54d0d0 1793px,#a9ecc8 1793px,#a9ecc8 1794px,#50e150 1794px,#50e150 1803px,#65f665 1803px,#65f665 1820px,#d5d8b4 1820px,#d5d8b4 1821px,#f06e6e 1821px,#f06e6e 1823px,#fff 1823px,#fff 1829px,#cdf3f3 1829px,#cdf3f3 1831px,#f0fbd4 1831px,#f0fbd4 1833px,#e0ffe0 1833px,#e0ffe0 1835px,#f4feed 1835px,#f4feed 1836px,#f2fcd6 1836px,#f2fcd6 1838px,#d5f9f9 1838px,#d5f9f9 1840px,#d1f4f4 1840px,#d1f4f4 1841px,#def6f6 1841px,#def6f6 1842px,#b7ecec 1842px,#b7ecec 1843px,#d5f9d5 1843px,#d5f9d5 1844px,#f6fde2 1844px,#f6fde2 1845px,#cdf2f2 1845px,#cdf2f2 1847px,#bdf1f1 1847px,#bdf1f1 1849px,#c0fec0 1849px,#c0fec0 1850px,#bbf8bb 1850px,#bbf8bb 1851px,#a2e7e7 1851px,#a2e7e7 1853px,#fff 1853px,#fff 1855px,#6bf96b 1855px,#6bf96b 1858px,#70f970 1858px,#70f970 1860px,#71f971 1860px,#71f971 1861px,#fff 1861px,#fff 1866px,#f8bebe 1866px,#f8bebe 1867px,#c5fec5 1867px,#c5fec5 1868px,#b8f5f5 1868px,#b8f5f5 1869px,#fff 1869px,#fff 1871px,#abf1ab 1871px,#abf1ab 1872px,#d0f7f7 1872px,#d0f7f7 1874px,#beffbe 1874px,#beffbe 1875px,#fff 1875px,#fff 1882px,#baeded 1882px,#baeded 1883px,#b7eded 1883px,#b7eded 1885px,#bceded 1885px,#bceded 1886px,#b6ecec 1886px,#b6ecec 1887px,#d4f7f7 1887px,#d4f7f7 1889px,#caf3f3 1889px,#caf3f3 1891px,#fff 1891px,#fff 1895px,#b6f6b6 1895px,#b6f6b6 1897px,#fff 1897px,#fff 1899px,#c3f0f0 1899px,#c3f0f0 1900px,#d3f8f8 1900px,#d3f8f8 1901px,#dcfafa 1901px,#dcfafa 1902px,#d9f5f5 1902px,#d9f5f5 1904px,#fff 1904px,#fff 1919px,#9fe9e9 1919px,#9fe9e9 1920px,#fff 1920px,#fff 1947px,#afeded 1947px,#afeded 1948px,#fff 1948px,#fff 2101px)"></div>
<div class="r" style="top:9px;background:linear-gradient(90deg,#fff 0px,#fff 750px,#e7e78e 750px,#e7e78e 751px,#d8f48c 751px,#d8f48c 761px,#fff 761px,#fff 764px,#b2f0f0 764px,#b2f0f0 766px,#c2f1f1 766px,#c2f1f1 767px,#59d5d5 767px,#59d5d5 771px,#fff 771px,#fff 775px,#fce6e6 775px,#fce6e6 777px,#f4f7f7 777px,#f4f7f7 778px,#d8f9f9 778px,#d8f9f9 781px,#fff 781px,#fff 783px,#ddfafa 783px,#ddfafa 784px,#b3f3f3 784px,#b3f3f3 785px,#fff 785px,#fff 796px,#53cfcf 796px,#53cfcf 812px,#f06e6e 812px,#f06e6e 813px,#53cfcf 813px,#53cfcf 815px,#fff 815px,#fff 820px,#a3eaea 820px,#a3eaea 822px,#c0f5f5 822px,#c0f5f5 823px,#f9c8c8 823px,#f9c8c8 824px,#fff 824px,#fff 829px,#9aebeb 829px,#9aebeb 832px,#e1f6ab 832px,#e1f6ab 833px,#fff 833px,#fff 840px,#ed6a6a 840px,#ed6a6a 842px,#f2d8be 842px,#f2d8be 843px,#defa92 843px,#defa92 852px,#8eebeb 852px,#8eebeb 860px,#5fdbdb 860px,#5fdbdb 863px,#53cfcf 863px,#53cfcf 892px,#5ff05f 892px,#5ff05f 1730px,#aff8af 1730px,#aff8af 1731px,#cbf2f2 1731px,#cbf2f2 1732px,#abf0f0 1732px,#abf0f0 1733px,#fff 1733px,#fff 1735px,#d2f8f8 1735px,#d2f8f8 1736px,#e2f3b4 1736px,#e2f3b4 1738px,#90f590 1738px,#90f590 1739px,#a0fba0 1739px,#a0fba0 1740px,#d4f9e2 1740px,#d4f9e2 1741px,#b3eaea 1741px,#b3eaea 1742px,#b1ecec 1742px,#b1ecec 1743px,#aff8af 1743px,#aff8af 1746px,#f5b9b9 1746px,#f5b9b9 1748px,#ecec8f 1748px,#ecec8f 1749px,#fff 1749px,#fff 1752px,#99fc99 1752px,#99fc99 1753px,#a8f0f0 1753px,#a8f0f0 1754px,#adf2f2 1754px,#adf2f2 1755px,#85f285 1755px,#85f285 1757px,#fff 1757px,#fff 1760px,#fad2d2 1760px,#fad2d2 1761px,#f9c5c5 1761px,#f9c5c5 1762px,#f9c9c9 1762px,#f9c9c9 1763px,#f9fdef 1763px,#f9fdef 1765px,#effbfb 1765px,#effbfb 1767px,#fff 1767px,#fff 1770px,#e9f9f9 1770px,#e9f9f9 1772px,#fff 1772px,#fff 1776px,#53cfcf 1776px,#53cfcf 1820px,#cae9c4 1820px,#cae9c4 1821px,#d7d741 1821px,#d7d741 1823px,#fff 1823px,#fff 1829px,#c0f4f4 1829px,#c0f4f4 1831px,#d7f5f5 1831px,#d7f5f5 1833px,#cef8ce 1833px,#cef8ce 1835px,#e8faf0 1835px,#e8faf0 1836px,#d5f4f4 1836px,#d5f4f4 1838px,#c5f6c5 1838px,#c5f6c5 1840px,#cbf7f7 1840px,#cbf7f7 1841px,#e1f8f8 1841px,#e1f8f8 1842px,#ecfbfb 1842px,#ecfbfb 1843px,#d3f5f5 1843px,#d3f5f5 1844px,#b5ebeb 1844px,#b5ebeb 1845px,#e1f8f8 1845px,#e1f8f8 1847px,#f4fbe1 1847px,#f4fbe1 1849px,#bafeba 1849px,#bafeba 1850px,#a4f0f0 1850px,#a4f0f0 1851px,#9eecec 1851px,#9eecec 1853px,#acf8ac 1853px,#acf8ac 1855px,#64eb64 1855px,#64eb64 1858px,#5bea5b 1858px,#5bea5b 1860px,#5feb5f 1860px,#5feb5f 1861px,#fff 1861px,#fff 1865px,#f1fcfc 1865px,#f1fcfc 1866px,#beeded 1866px,#beeded 1867px,#d8f5f5 1867px,#d8f5f5 1868px,#baf4f4 1868px,#baf4f4 1869px,#f8bfbf 1869px,#f8bfbf 1871px,#f3eded 1871px,#f3eded 1872px,#d6f8f8 1872px,#d6f8f8 1874px,#fff 1874px,#fff 1882px,#d2f4f4 1882px,#d2f4f4 1883px,#d6f5f5 1883px,#d6f5f5 1885px,#b3f4b3 1885px,#b3f4b3 1886px,#beecec 1886px,#beecec 1887px,#d2f8f8 1887px,#d2f8f8 1889px,#abe9e9 1889px,#abe9e9 1891px,#ccf6f6 1891px,#ccf6f6 1893px,#b7ecec 1893px,#b7ecec 1895px,#fff 1895px,#fff 1899px,#b4eeee 1899px,#b4eeee 1900px,#d1f5f5 1900px,#d1f5f5 1901px,#dff6f6 1901px,#dff6f6 1902px,#dff7f7 1902px,#dff7f7 1903px,#e9f9f9 1903px,#e9f9f9 1904px,#fff 1904px,#fff 1919px,#e6f7b9 1919px,#e6f7b9 1920px,#fff 1920px,#fff 1947px,#eaf8c4 1947px,#eaf8c4 1948px,#fff 1948px,#fff 2101px)"></div>
<div class="r" style="top:-23px;background:linear-gradient(90deg,#fff 0px,#fff 743px,#a1eeee 743px,#a1eeee 744px,#f1fbd8 744px,#f1fbd8 746px,#b0f1f1 746px,#b0f1f1 748px,#fff 748px,#fff 750px,#9deaea 750px,#9deaea 751px,#d4f088 751px,#d4f088 761px,#fff 761px,#fff 764px,#b2f0f0 764px,#b2f0f0 766px,#c2f1f1 766px,#c2f1f1 767px,#59d5d5 767px,#59d5d5 771px,#fff 771px,#fff 775px,#d2f6f6 775px,#d2f6f6 777px,#fff 777px,#fff 783px,#e7f7ba 783px,#e7f7ba 784px,#cdf7f7 784px,#cdf7f7 785px,#fff 785px,#fff 796px,#5fdbdb 796px,#5fdbdb 815px,#fff 815px,#fff 820px,#c9f4f4 820px,#c9f4f4 822px,#c0f5f5 822px,#c0f5f5 823px,#f8bebe 823px,#f8bebe 824px,#bbf4f4 824px,#bbf4f4 826px,#92e7e7 826px,#92e7e7 829px,#fff 829px,#fff 832px,#99efef 832px,#99efef 833px,#d7d741 833px,#d7d741 838px,#d6f28a 838px,#d6f28a 843px,#fff 843px,#fff 845px,#ed6a6a 845px,#ed6a6a 851px,#dcd3d3 851px,#dcd3d3 852px,#87e4e4 852px,#87e4e4 860px,#5fdbdb 860px,#5fdbdb 863px,#50e150 863px,#50e150 892px,#5edada 892px,#5edada 1730px,#aeecec 1730px,#aeecec 1731px,#bbebeb 1731px,#bbebeb 1732px,#e5f6b7 1732px,#e5f6b7 1733px,#f2fdd5 1733px,#f2fdd5 1735px,#9ce5e5 1735px,#9ce5e5 1736px,#dff4a4 1736px,#dff4a4 1738px,#92fb92 1738px,#92fb92 1739px,#def4a5 1739px,#def4a5 1740px,#c3f2f2 1740px,#c3f2f2 1741px,#caf1f1 1741px,#caf1f1 1742px,#b5eaea 1742px,#b5eaea 1743px,#f4b1b1 1743px,#f4b1b1 1746px,#fff 1746px,#fff 1748px,#e8e873 1748px,#e8e873 1749px,#f2a2a2 1749px,#f2a2a2 1750px,#fff 1750px,#fff 1752px,#9ee7e7 1752px,#9ee7e7 1753px,#8feeee 1753px,#8feeee 1754px,#8fe7e7 1754px,#8fe7e7 1755px,#8ee5e5 1755px,#8ee5e5 1757px,#fff 1757px,#fff 1760px,#f7fce7 1760px,#f7fce7 1761px,#fdecec 1761px,#fdecec 1762px,#dcf9f9 1762px,#dcf9f9 1763px,#fff 1763px,#fff 1767px,#f3fcfc 1767px,#f3fcfc 1769px,#f4fcfc 1769px,#f4fcfc 1770px,#ddf8f8 1770px,#ddf8f8 1772px,#fff 1772px,#fff 1776px,#59d5d5 1776px,#59d5d5 1803px,#54d0d0 1803px,#54d0d0 1820px,#cae9c4 1820px,#cae9c4 1821px,#d7d741 1821px,#d7d741 1823px,#fff 1823px,#fff 1829px,#e4f8f8 1829px,#e4f8f8 1831px,#c6fbc6 1831px,#c6fbc6 1833px,#c6f2f2 1833px,#c6f2f2 1835px,#ebf6cb 1835px,#ebf6cb 1836px,#ddf7f7 1836px,#ddf7f7 1838px,#d7f5f5 1838px,#d7f5f5 1840px,#bbebeb 1840px,#bbebeb 1841px,#f4fbdf 1841px,#f4fbdf 1842px,#c7f0f0 1842px,#c7f0f0 1843px,#dffadf 1843px,#dffadf 1844px,#c5f4f4 1844px,#c5f4f4 1845px,#def8f8 1845px,#def8f8 1847px,#b7eeee 1847px,#b7eeee 1849px,#97ebeb 1849px,#97ebeb 1850px,#b1f2f2 1850px,#b1f2f2 1851px,#96e5e5 1851px,#96e5e5 1853px,#fff 1853px,#fff 1855px,#66e1e1 1855px,#66e1e1 1858px,#6ae2e2 1858px,#6ae2e2 1860px,#69e2e2 1860px,#69e2e2 1861px,#f6fdfd 1861px,#f6fdfd 1862px,#fff 1862px,#fff 1865px,#e7fbfb 1865px,#e7fbfb 1866px,#fff 1866px,#fff 1869px,#beeeee 1869px,#beeeee 1871px,#fff 1871px,#fff 1882px,#b3f7b3 1882px,#b3f7b3 1883px,#b8efef 1883px,#b8efef 1885px,#c7f1f1 1885px,#c7f1f1 1886px,#b5f9b5 1886px,#b5f9b5 1887px,#b4f1f1 1887px,#b4f1f1 1889px,#bbf4f4 1889px,#bbf4f4 1891px,#cffacf 1891px,#cffacf 1893px,#beeeee 1893px,#beeeee 1895px,#cbf5f5 1895px,#cbf5f5 1897px,#b9f1f1 1897px,#b9f1f1 1899px,#b5f5b5 1899px,#b5f5b5 1900px,#aef7ae 1900px,#aef7ae 1901px,#def7f7 1901px,#def7f7 1902px,#e4f9f9 1902px,#e4f9f9 1903px,#e3f7f7 1903px,#e3f7f7 1904px,#fff 1904px,#fff 1919px,#9fe9e9 1919px,#9fe9e9 1920px,#fff 1920px,#fff 1947px,#eaf8c4 1947px,#eaf8c4 1948px,#fff 1948px,#fff 2101px)"></div>
<div id="tx" style="position:absolute;left:0;top:0;width:2101px;height:1616px;will-change:transform;">
<span class="t" style="left:13px;top:1577px;transform:scaleX(1.1193)">all</span>
<span class="t" style="left:14px;top:1545px;transform:scaleX(1.2086)">[u..</span>
<span class="t" style="left:103px;top:1545px;transform:scaleX(1.1207)">java/lang/Thread.run</span>
<span class="t" style="left:29px;top:1513px;transform:scaleX(1.0982)">s..</span>
<span class="t" style="left:103px;top:1513px;transform:scaleX(1.0975)">java/util/concurrent/ThreadPoolExecutor$Worker.run</span>
<span class="t" style="left:29px;top:1481px;transform:scaleX(1.0982)">s..</span>
<span class="t" style="left:103px;top:1481px;transform:scaleX(1.0998)">java/util/concurrent/ThreadPoolExecutor.runWorker</span>
<span class="t" style="left:104px;top:1449px;transform:scaleX(1.1212)">java/util/concurrent/FutureTask.run</span>
<span class="t" style="left:1964px;top:1449px;transform:scaleX(1.1238)">java/util/concurrent/FutureTask.run</span>
<span class="t" style="left:104px;top:1417px;transform:scaleX(1.0992)">java/util/concurrent/Executors$RunnableAdapter.call</span>
<span class="t" style="left:1982px;top:1417px;transform:scaleX(1.2045)">jav..</span>
<span class="t" style="left:2055px;top:1417px;transform:scaleX(1.3880)">j..</span>
<span class="t" style="left:120px;top:1385px;transform:scaleX(1.1212)">java/util/concurrent/FutureTask.run</span>
<span class="t" style="left:1982px;top:1385px;transform:scaleX(1.2045)">jav..</span>
<span class="t" style="left:2055px;top:1385px;transform:scaleX(1.3880)">j..</span>
<span class="t" style="left:2101px;top:1385px;transform:scaleX(1.3880)">j..</span>
<span class="t" style="left:120px;top:1353px;transform:scaleX(1.0916)">sbt/CompletionService$$anon$2.call</span>
<span class="t" style="left:1982px;top:1353px;transform:scaleX(1.2045)">jav..</span>
<span class="t" style="left:2055px;top:1353px;transform:scaleX(1.3880)">j..</span>
<span class="t" style="left:120px;top:1321px;transform:scaleX(1.0916)">sbt/CompletionService$$anon$2.call</span>
<span class="t" style="left:1982px;top:1321px;transform:scaleX(1.2045)">jav..</span>
<span class="t" style="left:2055px;top:1321px;transform:scaleX(1.3880)">j..</span>
<span class="t" style="left:120px;top:1289px;transform:scaleX(1.0917)">sbt/ConcurrentRestrictions$$anon$4$$Lambda$2706.0x000000012b71e068.apply</span>
<span class="t" style="left:1982px;top:1289px;transform:scaleX(1.2045)">jav..</span>
<span class="t" style="left:2055px;top:1289px;transform:scaleX(1.3880)">j..</span>
<span class="t" style="left:120px;top:1257px;transform:scaleX(1.0940)">sbt/ConcurrentRestrictions$$anon$4.$anonfun$2</span>
<span class="t" style="left:1982px;top:1257px;transform:scaleX(1.2045)">jav..</span>
<span class="t" style="left:2056px;top:1257px;transform:scaleX(1.0641)">U..</span>
<span class="t" style="left:120px;top:1225px;transform:scaleX(1.0893)">sbt/ConcurrentRestrictions$$anon$4.cleanup</span>
<span class="t" style="left:728px;top:1225px;transform:scaleX(1.0885)">sbt/Execute$$Lambda$2696.0x000000012b71bca0.apply</span>
<span class="t" style="left:1982px;top:1225px;transform:scaleX(1.2290)">jd..</span>
<span class="t" style="left:2056px;top:1225px;transform:scaleX(1.0606)">P..</span>
<span class="t" style="left:121px;top:1193px;transform:scaleX(1.1106)">_complete_monitor_..</span>
<span class="t" style="left:420px;top:1193px;transform:scaleX(1.0922)">sbt/ConcurrentRestr..</span>
<span class="t" style="left:728px;top:1193px;transform:scaleX(1.0946)">sbt/Execute.submit$$anonfun$1</span>
<span class="t" style="left:1983px;top:1193px;transform:scaleX(1.0903)">Un..</span>
<span class="t" style="left:2056px;top:1193px;transform:scaleX(1.1512)">_..</span>
<span class="t" style="left:121px;top:1161px;transform:scaleX(1.1097)">SharedRuntime::com..</span>
<span class="t" style="left:431px;top:1161px;transform:scaleX(1.0974)">sbt/ConcurrentR..</span>
<span class="t" style="left:728px;top:1161px;transform:scaleX(1.1032)">sbt/Execute.work</span>
<span class="t" style="left:1983px;top:1161px;transform:scaleX(1.0566)">Pa..</span>
<span class="t" style="left:121px;top:1129px;transform:scaleX(1.1114)">SharedRuntime::mon..</span>
<span class="t" style="left:432px;top:1129px;transform:scaleX(1.1025)">sbt/ConcurrentR..</span>
<span class="t" style="left:749px;top:1129px;transform:scaleX(1.1199)">sbt/internal/util/ErrorHandling$.wideConvert</span>
<span class="t" style="left:1983px;top:1129px;transform:scaleX(1.1750)">__..</span>
<span class="t" style="left:121px;top:1097px;transform:scaleX(1.0838)">ObjectSynchronizer..</span>
<span class="t" style="left:443px;top:1097px;transform:scaleX(1.1189)">sbt/Concurrent..</span>
<span class="t" style="left:749px;top:1097px;transform:scaleX(1.0892)">sbt/Execute$$Lambda$2709.0x000000012b71ea38.apply</span>
<span class="t" style="left:121px;top:1065px;transform:scaleX(1.1302)">ObjectMonitor::enter</span>
<span class="t" style="left:454px;top:1065px;transform:scaleX(1.1193)">sbt/Con..</span>
<span class="t" style="left:585px;top:1065px;transform:scaleX(1.2180)">sbt/..</span>
<span class="t" style="left:749px;top:1065px;transform:scaleX(1.0950)">sbt/Execute.submit$$anonfun$1$$anonfun$1</span>
<span class="t" style="left:121px;top:1033px;transform:scaleX(1.1270)">ObjectMonitor::Ent..</span>
<span class="t" style="left:464px;top:1033px;transform:scaleX(1.1438)">itab..</span>
<span class="t" style="left:586px;top:1033px;transform:scaleX(1.2180)">sbt/..</span>
<span class="t" style="left:749px;top:1033px;transform:scaleX(1.1110)">sbt/std/Transform$$anon$3.work</span>
<span class="t" style="left:121px;top:1001px;transform:scaleX(1.1369)">os::PlatformEvent:..</span>
<span class="t" style="left:586px;top:1001px;transform:scaleX(1.2180)">sbt/..</span>
<span class="t" style="left:749px;top:1001px;transform:scaleX(1.1110)">sbt/std/Transform$$anon$3.work</span>
<span class="t" style="left:121px;top:969px;transform:scaleX(1.0925)">__psynch_cvwait</span>
<span class="t" style="left:600px;top:969px;transform:scaleX(1.2876)">it..</span>
<span class="t" style="left:749px;top:969px;transform:scaleX(1.0873)">scala/Function1$$Lambda$286.0x000000012b22dae0.apply</span>
<span class="t" style="left:749px;top:937px;transform:scaleX(1.0781)">scala/Function1.$anonfun$compose$1</span>
<span class="t" style="left:770px;top:905px;transform:scaleX(1.0858)">scala/Function1$$Lambda$286.0x000000012b22dae0.apply</span>
<span class="t" style="left:770px;top:873px;transform:scaleX(1.0804)">scala/Function1.$anonfun$compose$1</span>
<span class="t" style="left:863px;top:841px;transform:scaleX(1.0962)">sbt/Defaults$$$Lambda$280.0x000000012b237a20.apply</span>
<span class="t" style="left:863px;top:809px;transform:scaleX(1.1098)">sbt/Defaults$.$init$$$anonfun$1</span>
<span class="t" style="left:1780px;top:841px;transform:scaleX(1.0919)">sb..</span>
<span class="t" style="left:1780px;top:809px;transform:scaleX(1.0919)">sb..</span>
<span class="t" style="left:863px;top:777px;transform:scaleX(1.0956)">sbt/util/ActionCache$.cache</span>
<span class="t" style="left:1780px;top:777px;transform:scaleX(1.1052)">sc..</span>
<span class="t" style="left:863px;top:745px;transform:scaleX(1.1101)">sbt/util/ActionCache$.get</span>
<span class="t" style="left:1780px;top:745px;transform:scaleX(1.1052)">sc..</span>
<span class="t" style="left:869px;top:713px;transform:scaleX(1.0966)">sjsonnew/support/murmurhash/Hasher$.hashUnsafe</span>
<span class="t" style="left:1780px;top:713px;transform:scaleX(1.0919)">sb..</span>
<span class="t" style="left:869px;top:681px;transform:scaleX(1.0735)">sjsonnew/SupportHasher.hashUnsafe$</span>
<span class="t" style="left:1780px;top:681px;transform:scaleX(1.0919)">sb..</span>
<span class="t" style="left:869px;top:649px;transform:scaleX(1.0734)">sjsonnew/SupportHasher.hashUnsafe</span>
<span class="t" style="left:1780px;top:649px;transform:scaleX(1.0982)">s..</span>
<span class="t" style="left:869px;top:617px;transform:scaleX(1.1047)">sjsonnew/ImplicitHashWriters$$anon$1.write</span>
<span class="t" style="left:1780px;top:617px;transform:scaleX(1.0982)">s..</span>
<span class="t" style="left:869px;top:585px;transform:scaleX(1.0886)">sjsonnew/TupleFormats$$anon$1.write</span>
<span class="t" style="left:1780px;top:585px;transform:scaleX(1.0982)">s..</span>
<span class="t" style="left:869px;top:553px;transform:scaleX(1.0886)">sjsonnew/TupleFormats$$anon$1.write</span>
<span class="t" style="left:1780px;top:553px;transform:scaleX(1.0982)">s..</span>
<span class="t" style="left:869px;top:521px;transform:scaleX(1.1003)">sjsonnew/IsoFormats$$anon$1.write</span>
<span class="t" style="left:1780px;top:521px;transform:scaleX(1.0982)">s..</span>
<span class="t" style="left:869px;top:489px;transform:scaleX(1.0923)">sjsonnew/LListFormats$$anon$3.write</span>
<span class="t" style="left:1780px;top:489px;transform:scaleX(1.0982)">s..</span>
<span class="t" style="left:869px;top:457px;transform:scaleX(1.0923)">sjsonnew/LListFormats$$anon$3.write</span>
<span class="t" style="left:1780px;top:457px;transform:scaleX(1.0982)">s..</span>
<span class="t" style="left:869px;top:425px;transform:scaleX(1.0776)">sjsonnew/Builder.addField</span>
<span class="t" style="left:1780px;top:425px;transform:scaleX(1.0982)">s..</span>
<span class="t" style="left:869px;top:393px;transform:scaleX(1.0765)">sjsonnew/CollectionFormats$$anon$2.addField</span>
<span class="t" style="left:1780px;top:393px;transform:scaleX(1.0982)">s..</span>
<span class="t" style="left:869px;top:361px;transform:scaleX(1.0737)">sjsonnew/JsonWriter.addField$</span>
<span class="t" style="left:1780px;top:361px;transform:scaleX(1.0982)">s..</span>
<span class="t" style="left:869px;top:329px;transform:scaleX(1.0704)">sjsonnew/JsonWriter.addField</span>
<span class="t" style="left:1780px;top:329px;transform:scaleX(1.0982)">s..</span>
<span class="t" style="left:869px;top:297px;transform:scaleX(1.0918)">sjsonnew/CollectionFormats$$anon$2.write</span>
<span class="t" style="left:1780px;top:297px;transform:scaleX(1.0982)">s..</span>
<span class="t" style="left:869px;top:265px;transform:scaleX(1.0918)">sjsonnew/CollectionFormats$$anon$2.write</span>
<span class="t" style="left:1780px;top:265px;transform:scaleX(1.0982)">s..</span>
<span class="t" style="left:869px;top:233px;transform:scaleX(1.1012)">scala/collection/immutable/Vector.foreach</span>
<span class="t" style="left:1780px;top:233px;transform:scaleX(1.0982)">s..</span>
<span class="t" style="left:898px;top:201px;transform:scaleX(1.1012)">scala/runtime/function/JProcedure1.apply</span>
<span class="t" style="left:1780px;top:201px;transform:scaleX(1.0982)">s..</span>
<span class="t" style="left:898px;top:169px;transform:scaleX(1.1012)">scala/runtime/function/JProcedure1.apply</span>
<span class="t" style="left:1780px;top:169px;transform:scaleX(1.0982)">s..</span>
<span class="t" style="left:898px;top:137px;transform:scaleX(1.0872)">sjsonnew/CollectionFormats$$anon$2$$Lambda$2805.0x0000000..</span>
<span class="t" style="left:1780px;top:137px;transform:scaleX(1.0982)">s..</span>
<span class="t" style="left:898px;top:105px;transform:scaleX(1.0896)">sjsonnew/CollectionFormats$$anon$2.write$$anonfun$2</span>
<span class="t" style="left:898px;top:73px;transform:scaleX(1.0979)">sjsonnew/IsoFormats$$anon$2.write</span>
<span class="t" style="left:898px;top:41px;transform:scaleX(1.1093)">sjsonnew/IsoString$$anon$1.to</span>
<span class="t" style="left:898px;top:9px;transform:scaleX(1.0958)">sbt/internal/util/codec/HashedVirtualFileRefFormats$$Lamb..</span>
<span class="t" style="left:898px;top:-23px">sbt/internal/util/codec/HashedVirtualFileRefFormats$hasher</span>
</div>
</body></html>
